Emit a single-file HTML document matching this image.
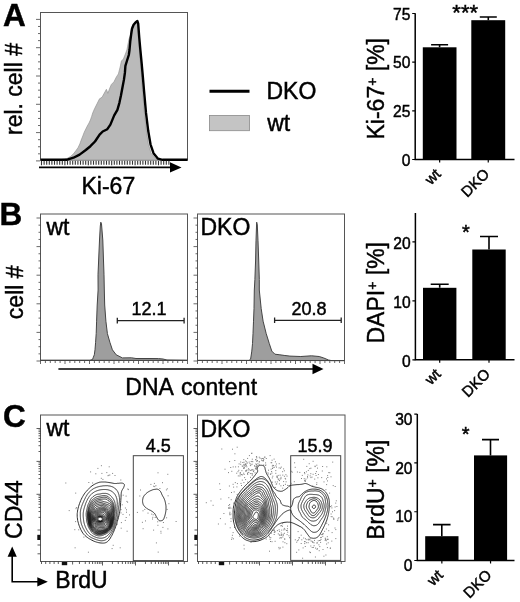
<!DOCTYPE html>
<html><head><meta charset="utf-8"><style>
html,body{margin:0;padding:0;background:#fff;overflow:hidden;}
svg{display:block;will-change:transform;filter:blur(0.3px);}
text{font-family:"Liberation Sans", sans-serif;fill:#000;stroke:#000;stroke-width:0.45px;}
</style></head><body>
<svg width="520" height="602" viewBox="0 0 520 602">
<text x="3" y="25.6" font-size="31.5" text-anchor="start" font-weight="bold" >A</text>
<text transform="translate(22.2,89) rotate(-90)" font-size="23" text-anchor="middle">rel. cell #</text>
<rect x="40.5" y="12.5" width="147.0" height="147.5" fill="none" stroke="#555" stroke-width="1"/>
<path d="M36,19.40H40M38,26.48H40M38,33.55H40M38,40.62H40M36,47.70H40M38,54.78H40M38,61.85H40M38,68.92H40M36,76.00H40M38,83.08H40M38,90.15H40M38,97.23H40M36,104.30H40M38,111.38H40M38,118.45H40M38,125.53H40M36,132.60H40M38,139.68H40M38,146.75H40M38,153.82H40M36,160.90H40" stroke="#444" stroke-width="0.8" fill="none"/>
<polygon points="40.50,160.00 58.00,160.00 61.00,159.60 64.50,159.00 67.30,158.30 70.50,156.50 73.50,153.80 76.00,150.50 78.00,147.70 79.80,144.00 81.20,140.00 82.80,136.00 84.20,132.30 85.80,129.00 87.30,126.00 89.00,123.00 90.40,120.00 91.60,116.50 92.70,113.00 94.50,108.80 97.00,103.80 99.50,98.80 102.00,97.30 105.00,91.80 106.40,89.30 107.90,93.30 109.90,87.80 111.40,84.40 113.90,81.90 116.40,76.90 118.40,73.90 119.40,69.90 120.40,65.90 121.40,61.00 123.40,59.00 125.40,54.00 126.90,50.00 127.60,46.30 129.00,39.00 130.30,35.60 131.20,30.00 132.30,26.00 134.00,23.50 135.70,22.00 137.40,21.00 137.60,23.50 138.40,37.00 139.40,50.40 140.60,63.80 141.60,77.30 142.40,89.40 144.40,112.90 146.40,130.80 148.40,144.30 151.20,153.20 155.50,158.50 160.00,159.70 187.00,160.00" fill="#bababa" stroke="#8a8a8a" stroke-width="0.6"/>
<polyline points="40.50,159.80 67.30,159.70 73.50,157.70 79.60,154.60 85.80,150.00 90.40,146.20 95.00,141.50 99.60,134.60 102.70,131.50 107.30,129.20 110.40,124.60 114.20,115.40 117.40,109.80 119.40,102.80 120.90,95.80 122.40,87.80 123.90,79.90 124.90,72.90 125.40,65.90 126.90,61.00 128.80,55.00 129.50,50.00 130.30,41.00 131.20,34.20 132.00,28.80 133.60,24.80 135.50,22.50 137.40,21.00 138.20,23.50 139.20,37.00 140.40,50.40 141.70,63.80 142.90,77.30 143.90,89.40 146.00,112.90 148.20,130.80 150.50,144.30 153.50,153.20 158.00,158.70 162.50,159.80 187.50,159.80" fill="none" stroke="#000" stroke-width="2.4" stroke-linejoin="round"/>
<path d="M41.50,160.8V165.3M44.10,160.8V164.8M46.70,160.8V164.8M49.30,160.8V164.8M51.90,160.8V164.8M54.50,160.8V164.8M57.10,160.8V164.8M59.70,160.8V164.8M62.30,160.8V164.8M64.90,160.8V165.3M67.50,160.8V164.8M70.10,160.8V164.8M72.70,160.8V164.8M75.30,160.8V164.8M77.90,160.8V164.8M80.50,160.8V164.8M83.10,160.8V164.8M85.70,160.8V164.8M88.30,160.8V165.3M90.90,160.8V164.8M93.50,160.8V164.8M96.10,160.8V164.8M98.70,160.8V164.8M101.30,160.8V164.8M103.90,160.8V164.8M106.50,160.8V164.8M109.10,160.8V164.8M111.70,160.8V165.3M114.30,160.8V164.8M116.90,160.8V164.8M119.50,160.8V164.8M122.10,160.8V164.8M124.70,160.8V164.8M127.30,160.8V164.8M129.90,160.8V164.8M132.50,160.8V164.8M135.10,160.8V165.3M137.70,160.8V164.8M140.30,160.8V164.8M142.90,160.8V164.8M145.50,160.8V164.8M148.10,160.8V164.8M150.70,160.8V164.8M153.30,160.8V164.8M155.90,160.8V164.8M158.50,160.8V165.3M161.10,160.8V164.8M163.70,160.8V164.8M166.30,160.8V164.8M168.90,160.8V164.8" stroke="#333" stroke-width="1.1" fill="none"/>
<line x1="39" y1="167.4" x2="171" y2="167.4" stroke="#000" stroke-width="1.6" />
<polygon points="170,162.2 181.5,167.4 170,172.6" fill="#000"/>
<text x="81.5" y="193.5" font-size="23" text-anchor="start" font-weight="normal" >Ki-67</text>
<line x1="209.5" y1="91.3" x2="249.5" y2="91.3" stroke="#000" stroke-width="3" />
<rect x="209.5" y="115.5" width="40" height="15.2" fill="#c4c4c4" stroke="#8a8a8a" stroke-width="0.8"/>
<text x="266.5" y="99.4" font-size="23" text-anchor="start" font-weight="normal" >DKO</text>
<text x="267.2" y="130.6" font-size="23" text-anchor="start" font-weight="normal" >wt</text>
<path d="M415.2,13.2V159.5H514.5" fill="none" stroke="#000" stroke-width="1.5"/>
<path d="M412.2,159.50H415.2M412.2,110.83H415.2M412.2,62.17H415.2M412.2,13.50H415.2" stroke="#000" stroke-width="1.2"/>
<text x="410.4" y="165.50" font-size="15.6" text-anchor="end" font-weight="normal" >0</text>
<text x="410.4" y="116.83" font-size="15.6" text-anchor="end" font-weight="normal" >25</text>
<text x="410.4" y="68.17" font-size="15.6" text-anchor="end" font-weight="normal" >50</text>
<text x="410.4" y="19.50" font-size="15.6" text-anchor="end" font-weight="normal" >75</text>
<rect x="422.8" y="47.3" width="33.69999999999999" height="112.2" fill="#000"/>
<rect x="471.3" y="20.2" width="33.89999999999998" height="139.3" fill="#000"/>
<path d="M439.6,47.3V44.7M431.1,44.7H448.1" stroke="#000" stroke-width="1.6" fill="none"/>
<path d="M488.3,20.2V17.0M479.8,17.0H496.8" stroke="#000" stroke-width="1.6" fill="none"/>
<line x1="439.65" y1="159.5" x2="439.65" y2="162.5" stroke="#000" stroke-width="1.2" />
<line x1="488.25" y1="159.5" x2="488.25" y2="162.5" stroke="#000" stroke-width="1.2" />
<text x="465.2" y="20" font-size="22" text-anchor="middle" font-weight="normal" >***</text>
<text transform="translate(441.65,175) rotate(-45)" font-size="15" text-anchor="end">wt</text>
<text transform="translate(490.25,175) rotate(-45)" font-size="15" text-anchor="end">DKO</text>
<text transform="translate(383.5,139.5) rotate(-90)" font-size="23">Ki-67<tspan font-size="14" dy="-7">+</tspan><tspan dy="7"> [%]</tspan></text>
<text x="-0.5" y="225" font-size="31.5" text-anchor="start" font-weight="bold" >B</text>
<text transform="translate(22.5,292.3) rotate(-90)" font-size="23" text-anchor="middle">cell #</text>
<rect x="40.5" y="214" width="147.0" height="146.5" fill="none" stroke="#555" stroke-width="1"/>
<rect x="197.5" y="214" width="147.0" height="146.5" fill="none" stroke="#555" stroke-width="1"/>
<path d="M36.5,218.00H40.5M38.5,225.15H40.5M38.5,232.30H40.5M38.5,239.45H40.5M36.5,246.60H40.5M38.5,253.75H40.5M38.5,260.90H40.5M38.5,268.05H40.5M36.5,275.20H40.5M38.5,282.35H40.5M38.5,289.50H40.5M38.5,296.65H40.5M36.5,303.80H40.5M38.5,310.95H40.5M38.5,318.10H40.5M38.5,325.25H40.5M36.5,332.40H40.5M38.5,339.55H40.5M38.5,346.70H40.5M38.5,353.85H40.5M36.5,361.00H40.5" stroke="#444" stroke-width="0.8" fill="none"/>
<path d="M193.5,218.00H197.5M195.5,225.15H197.5M195.5,232.30H197.5M195.5,239.45H197.5M193.5,246.60H197.5M195.5,253.75H197.5M195.5,260.90H197.5M195.5,268.05H197.5M193.5,275.20H197.5M195.5,282.35H197.5M195.5,289.50H197.5M195.5,296.65H197.5M193.5,303.80H197.5M195.5,310.95H197.5M195.5,318.10H197.5M195.5,325.25H197.5M193.5,332.40H197.5M195.5,339.55H197.5M195.5,346.70H197.5M195.5,353.85H197.5M193.5,361.00H197.5" stroke="#444" stroke-width="0.8" fill="none"/>
<polygon points="40.50,360.30 90.00,360.30 92.50,359.50 93.10,357.90 94.30,354.80 95.00,349.80 95.60,342.30 96.20,333.60 96.60,321.20 97.20,305.00 98.10,290.00 98.00,274.80 99.50,240.00 100.30,226.00 100.80,222.20 101.50,224.00 102.80,240.00 104.00,274.80 104.30,290.00 104.70,305.00 105.90,321.20 107.40,333.60 109.90,342.30 112.40,349.80 116.20,354.80 122.40,357.90 131.50,357.80 136.00,358.50 150.00,358.50 158.50,358.60 163.00,359.00 167.00,360.00 187.00,360.30" fill="#9e9e9e" stroke="#444" stroke-width="1" stroke-linejoin="round"/>
<polygon points="197.50,360.40 249.00,360.40 250.60,359.20 251.80,351.10 252.50,343.60 253.00,333.60 253.50,321.20 254.00,308.70 254.30,290.00 254.90,279.40 255.60,260.00 256.00,240.80 256.50,226.00 256.70,222.20 257.30,225.00 258.00,240.80 258.70,260.00 259.30,279.40 259.30,290.00 261.20,308.70 263.10,321.20 266.20,333.60 269.30,343.60 271.80,351.10 274.90,354.20 279.90,354.80 284.90,355.50 289.90,356.10 300.80,356.50 311.50,355.80 319.20,356.50 323.80,358.00 328.50,360.00 331.50,360.60 344.50,360.60" fill="#9e9e9e" stroke="#444" stroke-width="1" stroke-linejoin="round"/>
<path d="M40.50,361V364M45.40,361V363M50.30,361V363M55.20,361V363M60.10,361V363M65.00,361V364M69.90,361V363M74.80,361V363M79.70,361V363M84.60,361V363M89.50,361V364M94.40,361V363M99.30,361V363M104.20,361V363M109.10,361V363M114.00,361V364M118.90,361V363M123.80,361V363M128.70,361V363M133.60,361V363M138.50,361V364M143.40,361V363M148.30,361V363M153.20,361V363M158.10,361V363M163.00,361V364M167.90,361V363M172.80,361V363M177.70,361V363M182.60,361V363M187.50,361V364" stroke="#444" stroke-width="0.8" fill="none"/>
<path d="M197.50,361V364M202.40,361V363M207.30,361V363M212.20,361V363M217.10,361V363M222.00,361V364M226.90,361V363M231.80,361V363M236.70,361V363M241.60,361V363M246.50,361V364M251.40,361V363M256.30,361V363M261.20,361V363M266.10,361V363M271.00,361V364M275.90,361V363M280.80,361V363M285.70,361V363M290.60,361V363M295.50,361V364M300.40,361V363M305.30,361V363M310.20,361V363M315.10,361V363M320.00,361V364M324.90,361V363M329.80,361V363M334.70,361V363M339.60,361V363M344.50,361V364" stroke="#444" stroke-width="0.8" fill="none"/>
<text x="46.5" y="234.7" font-size="23" text-anchor="start" font-weight="normal" >wt</text>
<text x="200.5" y="234.9" font-size="23" text-anchor="start" font-weight="normal" >DKO</text>
<path d="M117.3,320.6H184.1M117.3,317.8V323.6M184.1,317.8V323.6" stroke="#222" stroke-width="1.3" fill="none"/>
<path d="M274.6,320.3H341.2M274.6,317.5V323.1M341.2,317.5V323.1" stroke="#222" stroke-width="1.3" fill="none"/>
<text x="149" y="314.7" font-size="18" text-anchor="middle" font-weight="normal" >12.1</text>
<text x="309" y="314.8" font-size="18" text-anchor="middle" font-weight="normal" >20.8</text>
<line x1="58.4" y1="369" x2="313" y2="369" stroke="#000" stroke-width="1.6" />
<polygon points="312.5,363.8 323.5,369 312.5,374.2" fill="#000"/>
<text x="125.2" y="394.5" font-size="23" text-anchor="start" font-weight="normal" word-spacing="1.7" letter-spacing="0.1">DNA content</text>
<path d="M415.4,213V359.8H514.5" fill="none" stroke="#000" stroke-width="1.5"/>
<path d="M412.4,359.80H415.4M412.4,300.80H415.4M412.4,241.80H415.4" stroke="#000" stroke-width="1.2"/>
<text x="410.59999999999997" y="366.80" font-size="15.6" text-anchor="end" font-weight="normal" >0</text>
<text x="410.59999999999997" y="307.80" font-size="15.6" text-anchor="end" font-weight="normal" >10</text>
<text x="410.59999999999997" y="248.80" font-size="15.6" text-anchor="end" font-weight="normal" >20</text>
<rect x="423" y="287.8" width="33.39999999999998" height="72.0" fill="#000"/>
<rect x="472.3" y="249.5" width="33.39999999999998" height="110.30000000000001" fill="#000"/>
<path d="M439.7,287.8V284.2M430.7,284.2H448.7" stroke="#000" stroke-width="1.6" fill="none"/>
<path d="M489,249.5V236.5M480.0,236.5H498.0" stroke="#000" stroke-width="1.6" fill="none"/>
<line x1="439.7" y1="359.8" x2="439.7" y2="362.8" stroke="#000" stroke-width="1.2" />
<line x1="489.0" y1="359.8" x2="489.0" y2="362.8" stroke="#000" stroke-width="1.2" />
<text x="465.8" y="239.3" font-size="20" text-anchor="middle" font-weight="normal" >*</text>
<text transform="translate(441.7,375) rotate(-45)" font-size="15" text-anchor="end">wt</text>
<text transform="translate(491.0,375) rotate(-45)" font-size="15" text-anchor="end">DKO</text>
<text transform="translate(383.5,343.5) rotate(-90)" font-size="23">DAPI<tspan font-size="14" dy="-7">+</tspan><tspan dy="7"> [%]</tspan></text>
<text x="3" y="426.6" font-size="31.5" text-anchor="start" font-weight="bold" >C</text>
<text transform="translate(21.9,509.5) rotate(-90)" font-size="23" text-anchor="middle">CD44</text>
<rect x="40.5" y="415" width="147.0" height="146.5" fill="none" stroke="#555" stroke-width="1"/>
<rect x="197.5" y="415" width="147.5" height="146.5" fill="none" stroke="#555" stroke-width="1"/>
<text x="46.5" y="436.2" font-size="23" text-anchor="start" font-weight="normal" >wt</text>
<text x="200.5" y="436.6" font-size="23" text-anchor="start" font-weight="normal" >DKO</text>
<rect x="133.3" y="455.7" width="50.099999999999994" height="104.90000000000003" fill="none" stroke="#444" stroke-width="1"/>
<rect x="290.7" y="455.7" width="50.0" height="104.69999999999999" fill="none" stroke="#444" stroke-width="1"/>
<text x="158.3" y="451.7" font-size="18" text-anchor="middle" font-weight="normal" >4.5</text>
<text x="315" y="451.6" font-size="18" text-anchor="middle" font-weight="normal" >15.9</text>
<path d="M12.2,556V581.8H38" fill="none" stroke="#000" stroke-width="1.6"/>
<polygon points="7.6,556.8 12.2,546.5 16.8,556.8" fill="#000"/>
<polygon points="37.3,577.2 47.8,581.8 37.3,586.4" fill="#000"/>
<text x="55.3" y="587.7" font-size="23" text-anchor="start" font-weight="normal" >BrdU</text>
<path d="M417.3,414V560.5H514.5" fill="none" stroke="#000" stroke-width="1.5"/>
<path d="M414.3,560.50H417.3M414.3,511.73H417.3M414.3,462.97H417.3M414.3,414.20H417.3" stroke="#000" stroke-width="1.2"/>
<text x="412.5" y="571.10" font-size="15.6" text-anchor="end" font-weight="normal" >0</text>
<text x="412.5" y="522.33" font-size="15.6" text-anchor="end" font-weight="normal" >10</text>
<text x="412.5" y="473.57" font-size="15.6" text-anchor="end" font-weight="normal" >20</text>
<text x="412.5" y="424.80" font-size="15.6" text-anchor="end" font-weight="normal" >30</text>
<rect x="425.2" y="536.2" width="33.30000000000001" height="24.299999999999955" fill="#000"/>
<rect x="474" y="455.4" width="33.10000000000002" height="105.10000000000002" fill="#000"/>
<path d="M441.8,536.2V524.6M433.05,524.6H450.55" stroke="#000" stroke-width="1.6" fill="none"/>
<path d="M490.5,455.4V439.6M482.0,439.6H499.0" stroke="#000" stroke-width="1.6" fill="none"/>
<line x1="441.85" y1="560.5" x2="441.85" y2="563.5" stroke="#000" stroke-width="1.2" />
<line x1="490.55" y1="560.5" x2="490.55" y2="563.5" stroke="#000" stroke-width="1.2" />
<text x="465.6" y="440.5" font-size="20" text-anchor="middle" font-weight="normal" >*</text>
<text transform="translate(443.85,576) rotate(-45)" font-size="15" text-anchor="end">wt</text>
<text transform="translate(492.55,576) rotate(-45)" font-size="15" text-anchor="end">DKO</text>
<text transform="translate(384,539.8) rotate(-90)" font-size="23">BrdU<tspan font-size="14" dy="-7">+</tspan><tspan dy="7"> [%]</tspan></text>
<path d="M36.5,428.5H40.5M38.5,451.50H40.5M38.5,445.70H40.5M38.5,441.59H40.5M38.5,438.40H40.5M38.5,435.80H40.5M38.5,433.60H40.5M38.5,431.69H40.5M38.5,430.01H40.5M36.5,461.4H40.5M38.5,484.40H40.5M38.5,478.60H40.5M38.5,474.49H40.5M38.5,471.30H40.5M38.5,468.70H40.5M38.5,466.50H40.5M38.5,464.59H40.5M38.5,462.91H40.5M36.5,494.3H40.5M38.5,517.37H40.5M38.5,511.55H40.5M38.5,507.43H40.5M38.5,504.23H40.5M38.5,501.62H40.5M38.5,499.41H40.5M38.5,497.50H40.5M38.5,495.81H40.5M37.5,530H40.5M37.5,545H40.5M37.5,553.8H40.5" stroke="#333" stroke-width="0.8" fill="none"/>
<rect x="37.3" y="534.8" width="3" height="5.2" fill="#111"/>
<path d="M41.50,561.5V564.0M45.70,561.5V564.0M49.90,561.5V564.0M54.10,561.5V564.0M58.30,561.5V564.0M72.60,561.5V564.5M102.50,561.5V565.5M112.43,561.5V564.0M118.25,561.5V564.0M122.37,561.5V564.0M125.57,561.5V564.0M128.18,561.5V564.0M130.39,561.5V564.0M132.30,561.5V564.0M133.99,561.5V564.0M135.50,561.5V565.5M145.43,561.5V564.0M151.25,561.5V564.0M155.37,561.5V564.0M158.57,561.5V564.0M161.18,561.5V564.0M163.39,561.5V564.0M165.30,561.5V564.0M166.99,561.5V564.0M168.50,561.5V565.5M79.43,561.5V564.0M85.25,561.5V564.0M89.37,561.5V564.0M92.57,561.5V564.0M95.18,561.5V564.0M97.39,561.5V564.0M99.30,561.5V564.0M100.99,561.5V564.0M178.43,561.5V564.0M184.25,561.5V564.0" stroke="#333" stroke-width="0.8" fill="none"/>
<rect x="61.8" y="562.0" width="5.4" height="3.2" fill="#111"/>
<path d="M193.5,428.5H197.5M195.5,451.50H197.5M195.5,445.70H197.5M195.5,441.59H197.5M195.5,438.40H197.5M195.5,435.80H197.5M195.5,433.60H197.5M195.5,431.69H197.5M195.5,430.01H197.5M193.5,461.4H197.5M195.5,484.40H197.5M195.5,478.60H197.5M195.5,474.49H197.5M195.5,471.30H197.5M195.5,468.70H197.5M195.5,466.50H197.5M195.5,464.59H197.5M195.5,462.91H197.5M193.5,494.3H197.5M195.5,517.37H197.5M195.5,511.55H197.5M195.5,507.43H197.5M195.5,504.23H197.5M195.5,501.62H197.5M195.5,499.41H197.5M195.5,497.50H197.5M195.5,495.81H197.5M194.5,530H197.5M194.5,545H197.5M194.5,553.8H197.5" stroke="#333" stroke-width="0.8" fill="none"/>
<rect x="194.3" y="534.8" width="3" height="5.2" fill="#111"/>
<path d="M198.50,561.5V564.0M202.70,561.5V564.0M206.90,561.5V564.0M211.10,561.5V564.0M215.30,561.5V564.0M229.60,561.5V564.5M259.50,561.5V565.5M269.43,561.5V564.0M275.25,561.5V564.0M279.37,561.5V564.0M282.57,561.5V564.0M285.18,561.5V564.0M287.39,561.5V564.0M289.30,561.5V564.0M290.99,561.5V564.0M292.50,561.5V565.5M302.43,561.5V564.0M308.25,561.5V564.0M312.37,561.5V564.0M315.57,561.5V564.0M318.18,561.5V564.0M320.39,561.5V564.0M322.30,561.5V564.0M323.99,561.5V564.0M325.50,561.5V565.5M236.43,561.5V564.0M242.25,561.5V564.0M246.37,561.5V564.0M249.57,561.5V564.0M252.18,561.5V564.0M254.39,561.5V564.0M256.30,561.5V564.0M257.99,561.5V564.0M335.43,561.5V564.0M341.25,561.5V564.0" stroke="#333" stroke-width="0.8" fill="none"/>
<rect x="218.8" y="562.0" width="5.4" height="3.2" fill="#111"/>
<g fill="#808080"><rect x="112.1" y="472.9" width="1" height="1"/><rect x="101.4" y="472.9" width="1" height="1"/><rect x="107.5" y="475.2" width="1" height="1"/><rect x="108.7" y="466.3" width="1" height="1"/><rect x="114.5" y="475.0" width="1" height="1"/><rect x="108.3" y="474.8" width="1" height="1"/><rect x="100.8" y="477.8" width="1" height="1"/><rect x="109.3" y="474.5" width="1" height="1"/><rect x="102.4" y="478.9" width="1" height="1"/><rect x="97.4" y="467.9" width="1" height="1"/><rect x="106.3" y="472.1" width="1" height="1"/><rect x="90.1" y="471.4" width="1" height="1"/><rect x="127.1" y="501.7" width="1" height="1"/><rect x="120.5" y="509.1" width="1" height="1"/><rect x="126.4" y="500.9" width="1" height="1"/><rect x="125.7" y="517.0" width="1" height="1"/><rect x="122.7" y="494.7" width="1" height="1"/><rect x="124.9" y="507.5" width="1" height="1"/><rect x="127.9" y="489.1" width="1" height="1"/><rect x="125.6" y="495.6" width="1" height="1"/><rect x="129.0" y="514.4" width="1" height="1"/><rect x="126.0" y="509.3" width="1" height="1"/><rect x="127.3" y="488.5" width="1" height="1"/><rect x="126.0" y="511.7" width="1" height="1"/><rect x="122.5" y="513.9" width="1" height="1"/><rect x="121.7" y="504.3" width="1" height="1"/><rect x="116.9" y="523.6" width="1" height="1"/><rect x="119.7" y="547.3" width="1" height="1"/><rect x="74.3" y="529.2" width="1" height="1"/><rect x="83.4" y="536.6" width="1" height="1"/><rect x="120.3" y="479.5" width="1" height="1"/><rect x="124.8" y="519.9" width="1" height="1"/><rect x="120.9" y="522.1" width="1" height="1"/><rect x="92.1" y="482.5" width="1" height="1"/><rect x="65.3" y="482.5" width="1" height="1"/><rect x="120.7" y="527.7" width="1" height="1"/><rect x="68.7" y="510.1" width="1" height="1"/><rect x="87.9" y="551.7" width="1" height="1"/><rect x="111.6" y="548.1" width="1" height="1"/><rect x="75.5" y="508.2" width="1" height="1"/><rect x="78.2" y="529.3" width="1" height="1"/><rect x="120.5" y="512.4" width="1" height="1"/><rect x="74.6" y="547.3" width="1" height="1"/><rect x="75.1" y="521.1" width="1" height="1"/><rect x="126.6" y="530.7" width="1" height="1"/><rect x="100.9" y="465.2" width="1" height="1"/><rect x="88.3" y="482.0" width="1" height="1"/><rect x="75.2" y="492.6" width="1" height="1"/><rect x="112.7" y="544.8" width="1" height="1"/><rect x="95.3" y="473.3" width="1" height="1"/><rect x="75.9" y="507.1" width="1" height="1"/><rect x="162.4" y="526.9" width="1" height="1"/><rect x="151.2" y="513.6" width="1" height="1"/><rect x="160.4" y="530.8" width="1" height="1"/><rect x="166.8" y="488.3" width="1" height="1"/><rect x="145.0" y="520.4" width="1" height="1"/><rect x="139.3" y="495.5" width="1" height="1"/><rect x="166.7" y="508.9" width="1" height="1"/><rect x="141.9" y="521.8" width="1" height="1"/><rect x="150.4" y="483.9" width="1" height="1"/><rect x="157.7" y="551.6" width="1" height="1"/><rect x="144.3" y="508.9" width="1" height="1"/><rect x="140.0" y="489.5" width="1" height="1"/><rect x="167.6" y="495.3" width="1" height="1"/><rect x="155.9" y="542.4" width="1" height="1"/><rect x="175.6" y="521.0" width="1" height="1"/><rect x="147.5" y="512.6" width="1" height="1"/><rect x="153.1" y="529.6" width="1" height="1"/><rect x="157.2" y="521.3" width="1" height="1"/><rect x="157.5" y="472.3" width="1" height="1"/><rect x="167.4" y="528.4" width="1" height="1"/><rect x="165.9" y="489.4" width="1" height="1"/><rect x="136.9" y="511.9" width="1" height="1"/><rect x="154.7" y="517.0" width="1" height="1"/><rect x="142.5" y="510.3" width="1" height="1"/><rect x="168.4" y="503.2" width="1" height="1"/><rect x="159.4" y="488.0" width="1" height="1"/><rect x="167.3" y="473.8" width="1" height="1"/><rect x="157.4" y="524.8" width="1" height="1"/><rect x="152.7" y="514.3" width="1" height="1"/><rect x="166.1" y="517.3" width="1" height="1"/><rect x="152.3" y="516.8" width="1" height="1"/><rect x="155.4" y="485.2" width="1" height="1"/><rect x="154.2" y="486.1" width="1" height="1"/><rect x="153.9" y="482.9" width="1" height="1"/><rect x="160.5" y="532.6" width="1" height="1"/><rect x="142.6" y="528.2" width="1" height="1"/><rect x="153.1" y="485.7" width="1" height="1"/><rect x="162.0" y="482.2" width="1" height="1"/><rect x="162.9" y="522.0" width="1" height="1"/><rect x="152.0" y="518.5" width="1" height="1"/><rect x="272.1" y="468.0" width="1" height="1"/><rect x="251.4" y="469.6" width="1" height="1"/><rect x="232.7" y="466.4" width="1" height="1"/><rect x="241.8" y="479.6" width="1" height="1"/><rect x="251.4" y="452.7" width="1" height="1"/><rect x="245.5" y="470.3" width="1" height="1"/><rect x="261.4" y="458.0" width="1" height="1"/><rect x="256.0" y="466.2" width="1" height="1"/><rect x="262.2" y="458.0" width="1" height="1"/><rect x="254.5" y="472.3" width="1" height="1"/><rect x="239.8" y="472.0" width="1" height="1"/><rect x="248.9" y="455.1" width="1" height="1"/><rect x="252.3" y="461.2" width="1" height="1"/><rect x="257.0" y="460.1" width="1" height="1"/><rect x="265.1" y="462.4" width="1" height="1"/><rect x="257.4" y="463.2" width="1" height="1"/><rect x="249.9" y="473.1" width="1" height="1"/><rect x="255.9" y="464.3" width="1" height="1"/><rect x="239.7" y="472.9" width="1" height="1"/><rect x="256.2" y="460.8" width="1" height="1"/><rect x="242.3" y="462.0" width="1" height="1"/><rect x="245.3" y="470.6" width="1" height="1"/><rect x="264.9" y="464.9" width="1" height="1"/><rect x="252.3" y="469.1" width="1" height="1"/><rect x="253.1" y="470.9" width="1" height="1"/><rect x="239.7" y="474.3" width="1" height="1"/><rect x="244.9" y="465.6" width="1" height="1"/><rect x="238.3" y="469.8" width="1" height="1"/><rect x="267.5" y="472.4" width="1" height="1"/><rect x="262.7" y="457.9" width="1" height="1"/><rect x="244.9" y="464.0" width="1" height="1"/><rect x="243.2" y="472.7" width="1" height="1"/><rect x="255.5" y="466.4" width="1" height="1"/><rect x="258.9" y="461.3" width="1" height="1"/><rect x="243.5" y="461.7" width="1" height="1"/><rect x="238.6" y="463.4" width="1" height="1"/><rect x="255.1" y="459.1" width="1" height="1"/><rect x="247.6" y="472.1" width="1" height="1"/><rect x="254.0" y="465.3" width="1" height="1"/><rect x="265.4" y="464.5" width="1" height="1"/><rect x="249.5" y="463.1" width="1" height="1"/><rect x="253.4" y="469.8" width="1" height="1"/><rect x="259.6" y="457.7" width="1" height="1"/><rect x="244.0" y="467.4" width="1" height="1"/><rect x="243.3" y="459.1" width="1" height="1"/><rect x="240.2" y="461.5" width="1" height="1"/><rect x="251.5" y="460.9" width="1" height="1"/><rect x="251.9" y="473.5" width="1" height="1"/><rect x="256.7" y="460.3" width="1" height="1"/><rect x="250.7" y="461.1" width="1" height="1"/><rect x="261.9" y="460.2" width="1" height="1"/><rect x="268.0" y="469.7" width="1" height="1"/><rect x="231.3" y="470.8" width="1" height="1"/><rect x="270.6" y="462.2" width="1" height="1"/><rect x="264.3" y="456.6" width="1" height="1"/><rect x="256.3" y="457.4" width="1" height="1"/><rect x="258.8" y="456.7" width="1" height="1"/><rect x="224.5" y="468.7" width="1" height="1"/><rect x="278.7" y="463.2" width="1" height="1"/><rect x="249.9" y="469.9" width="1" height="1"/><rect x="271.6" y="459.7" width="1" height="1"/><rect x="237.8" y="475.4" width="1" height="1"/><rect x="274.9" y="461.3" width="1" height="1"/><rect x="272.6" y="466.8" width="1" height="1"/><rect x="251.7" y="474.8" width="1" height="1"/><rect x="256.0" y="468.3" width="1" height="1"/><rect x="270.2" y="473.6" width="1" height="1"/><rect x="263.3" y="458.8" width="1" height="1"/><rect x="236.2" y="472.7" width="1" height="1"/><rect x="243.3" y="467.3" width="1" height="1"/><rect x="241.7" y="465.5" width="1" height="1"/><rect x="239.4" y="475.5" width="1" height="1"/><rect x="242.3" y="465.8" width="1" height="1"/><rect x="251.4" y="473.1" width="1" height="1"/><rect x="237.9" y="466.3" width="1" height="1"/><rect x="251.2" y="469.4" width="1" height="1"/><rect x="258.7" y="463.9" width="1" height="1"/><rect x="256.1" y="464.4" width="1" height="1"/><rect x="246.3" y="466.3" width="1" height="1"/><rect x="248.1" y="468.2" width="1" height="1"/><rect x="269.6" y="455.1" width="1" height="1"/><rect x="234.3" y="460.0" width="1" height="1"/><rect x="251.1" y="452.9" width="1" height="1"/><rect x="228.0" y="472.1" width="1" height="1"/><rect x="255.5" y="459.4" width="1" height="1"/><rect x="265.8" y="458.0" width="1" height="1"/><rect x="245.1" y="460.4" width="1" height="1"/><rect x="262.8" y="460.5" width="1" height="1"/><rect x="263.0" y="459.9" width="1" height="1"/><rect x="248.7" y="461.6" width="1" height="1"/><rect x="256.1" y="456.1" width="1" height="1"/><rect x="250.5" y="464.3" width="1" height="1"/><rect x="261.0" y="459.6" width="1" height="1"/><rect x="272.3" y="464.8" width="1" height="1"/><rect x="241.0" y="474.1" width="1" height="1"/><rect x="271.8" y="465.5" width="1" height="1"/><rect x="243.7" y="466.6" width="1" height="1"/><rect x="245.9" y="464.8" width="1" height="1"/><rect x="270.6" y="468.7" width="1" height="1"/><rect x="255.1" y="468.4" width="1" height="1"/><rect x="252.9" y="471.1" width="1" height="1"/><rect x="263.2" y="464.5" width="1" height="1"/><rect x="276.0" y="466.6" width="1" height="1"/><rect x="241.4" y="470.2" width="1" height="1"/><rect x="243.6" y="463.8" width="1" height="1"/><rect x="245.1" y="463.5" width="1" height="1"/><rect x="247.0" y="472.9" width="1" height="1"/><rect x="245.6" y="463.4" width="1" height="1"/><rect x="275.9" y="463.5" width="1" height="1"/><rect x="269.9" y="473.7" width="1" height="1"/><rect x="251.8" y="458.7" width="1" height="1"/><rect x="241.9" y="474.4" width="1" height="1"/><rect x="255.4" y="463.4" width="1" height="1"/><rect x="250.0" y="476.8" width="1" height="1"/><rect x="264.3" y="456.7" width="1" height="1"/><rect x="254.4" y="465.7" width="1" height="1"/><rect x="251.6" y="463.7" width="1" height="1"/><rect x="237.5" y="471.2" width="1" height="1"/><rect x="243.2" y="464.5" width="1" height="1"/><rect x="246.9" y="462.5" width="1" height="1"/><rect x="246.1" y="461.3" width="1" height="1"/><rect x="248.3" y="471.8" width="1" height="1"/><rect x="254.9" y="467.8" width="1" height="1"/><rect x="249.9" y="465.1" width="1" height="1"/><rect x="255.9" y="456.4" width="1" height="1"/><rect x="271.2" y="462.2" width="1" height="1"/><rect x="247.2" y="473.9" width="1" height="1"/><rect x="255.9" y="466.7" width="1" height="1"/><rect x="247.1" y="457.9" width="1" height="1"/><rect x="243.6" y="474.0" width="1" height="1"/><rect x="233.7" y="491.4" width="1" height="1"/><rect x="235.1" y="466.4" width="1" height="1"/><rect x="232.6" y="483.8" width="1" height="1"/><rect x="229.5" y="514.3" width="1" height="1"/><rect x="240.2" y="463.8" width="1" height="1"/><rect x="231.9" y="534.8" width="1" height="1"/><rect x="228.9" y="485.5" width="1" height="1"/><rect x="244.1" y="477.1" width="1" height="1"/><rect x="279.9" y="547.5" width="1" height="1"/><rect x="258.7" y="461.3" width="1" height="1"/><rect x="231.0" y="492.0" width="1" height="1"/><rect x="236.7" y="446.7" width="1" height="1"/><rect x="240.5" y="482.9" width="1" height="1"/><rect x="232.6" y="532.1" width="1" height="1"/><rect x="246.0" y="469.7" width="1" height="1"/><rect x="247.5" y="469.5" width="1" height="1"/><rect x="229.0" y="513.4" width="1" height="1"/><rect x="228.6" y="508.0" width="1" height="1"/><rect x="233.1" y="486.6" width="1" height="1"/><rect x="220.4" y="498.5" width="1" height="1"/><rect x="279.6" y="478.5" width="1" height="1"/><rect x="284.4" y="542.2" width="1" height="1"/><rect x="230.5" y="518.2" width="1" height="1"/><rect x="219.1" y="483.3" width="1" height="1"/><rect x="229.1" y="461.1" width="1" height="1"/><rect x="229.7" y="527.3" width="1" height="1"/><rect x="239.1" y="535.6" width="1" height="1"/><rect x="228.3" y="507.3" width="1" height="1"/><rect x="236.4" y="486.4" width="1" height="1"/><rect x="230.2" y="467.0" width="1" height="1"/><rect x="221.3" y="448.5" width="1" height="1"/><rect x="247.2" y="481.5" width="1" height="1"/><rect x="281.9" y="525.8" width="1" height="1"/><rect x="248.7" y="469.3" width="1" height="1"/><rect x="231.6" y="537.3" width="1" height="1"/><rect x="210.5" y="500.4" width="1" height="1"/><rect x="283.0" y="484.9" width="1" height="1"/><rect x="230.4" y="513.5" width="1" height="1"/><rect x="232.9" y="538.3" width="1" height="1"/><rect x="271.5" y="541.2" width="1" height="1"/><rect x="243.4" y="482.1" width="1" height="1"/><rect x="233.1" y="502.6" width="1" height="1"/><rect x="229.4" y="511.8" width="1" height="1"/><rect x="219.9" y="518.1" width="1" height="1"/><rect x="243.2" y="468.0" width="1" height="1"/><rect x="275.3" y="472.8" width="1" height="1"/><rect x="276.9" y="530.1" width="1" height="1"/><rect x="230.4" y="507.7" width="1" height="1"/><rect x="243.5" y="544.7" width="1" height="1"/><rect x="241.0" y="485.0" width="1" height="1"/><rect x="236.7" y="493.9" width="1" height="1"/><rect x="231.1" y="538.8" width="1" height="1"/><rect x="205.8" y="502.2" width="1" height="1"/><rect x="269.4" y="537.1" width="1" height="1"/><rect x="257.1" y="465.3" width="1" height="1"/><rect x="245.6" y="470.4" width="1" height="1"/><rect x="250.5" y="542.0" width="1" height="1"/><rect x="234.0" y="527.0" width="1" height="1"/><rect x="228.3" y="497.2" width="1" height="1"/><rect x="244.2" y="464.8" width="1" height="1"/><rect x="232.0" y="448.7" width="1" height="1"/><rect x="224.8" y="523.5" width="1" height="1"/><rect x="229.1" y="504.0" width="1" height="1"/><rect x="234.8" y="482.1" width="1" height="1"/><rect x="234.4" y="453.3" width="1" height="1"/><rect x="228.3" y="507.5" width="1" height="1"/><rect x="245.1" y="479.1" width="1" height="1"/><rect x="236.9" y="483.1" width="1" height="1"/><rect x="217.9" y="523.5" width="1" height="1"/><rect x="278.4" y="546.9" width="1" height="1"/><rect x="230.7" y="499.2" width="1" height="1"/><rect x="230.5" y="520.8" width="1" height="1"/><rect x="269.0" y="550.7" width="1" height="1"/><rect x="269.6" y="538.9" width="1" height="1"/><rect x="219.7" y="489.0" width="1" height="1"/><rect x="228.3" y="505.0" width="1" height="1"/><rect x="243.7" y="548.4" width="1" height="1"/><rect x="229.4" y="506.7" width="1" height="1"/><rect x="212.6" y="504.8" width="1" height="1"/><rect x="223.4" y="513.0" width="1" height="1"/><rect x="278.9" y="483.4" width="1" height="1"/><rect x="283.9" y="475.8" width="1" height="1"/><rect x="280.8" y="466.6" width="1" height="1"/><rect x="285.1" y="478.5" width="1" height="1"/><rect x="284.9" y="483.8" width="1" height="1"/><rect x="276.7" y="476.5" width="1" height="1"/><rect x="273.1" y="465.0" width="1" height="1"/><rect x="277.6" y="478.3" width="1" height="1"/><rect x="271.9" y="481.7" width="1" height="1"/><rect x="279.0" y="480.1" width="1" height="1"/><rect x="273.8" y="466.8" width="1" height="1"/><rect x="283.1" y="481.1" width="1" height="1"/><rect x="277.7" y="474.9" width="1" height="1"/><rect x="276.7" y="476.6" width="1" height="1"/><rect x="275.3" y="465.3" width="1" height="1"/><rect x="283.1" y="468.4" width="1" height="1"/><rect x="276.4" y="475.6" width="1" height="1"/><rect x="280.0" y="467.7" width="1" height="1"/><rect x="285.6" y="481.3" width="1" height="1"/><rect x="283.0" y="485.0" width="1" height="1"/><rect x="273.6" y="458.6" width="1" height="1"/><rect x="280.4" y="485.3" width="1" height="1"/><rect x="285.4" y="474.2" width="1" height="1"/><rect x="277.9" y="479.2" width="1" height="1"/><rect x="267.6" y="473.5" width="1" height="1"/><rect x="274.6" y="487.0" width="1" height="1"/><rect x="274.6" y="486.9" width="1" height="1"/><rect x="278.6" y="467.4" width="1" height="1"/><rect x="282.2" y="487.7" width="1" height="1"/><rect x="275.3" y="470.1" width="1" height="1"/><rect x="284.7" y="477.9" width="1" height="1"/><rect x="271.1" y="471.0" width="1" height="1"/><rect x="276.2" y="483.3" width="1" height="1"/><rect x="276.8" y="481.4" width="1" height="1"/><rect x="288.4" y="485.1" width="1" height="1"/><rect x="287.1" y="484.9" width="1" height="1"/><rect x="280.5" y="476.8" width="1" height="1"/><rect x="272.0" y="468.0" width="1" height="1"/><rect x="271.8" y="477.4" width="1" height="1"/><rect x="271.4" y="472.6" width="1" height="1"/><rect x="274.8" y="481.5" width="1" height="1"/><rect x="276.7" y="476.6" width="1" height="1"/><rect x="286.5" y="475.6" width="1" height="1"/><rect x="282.1" y="471.2" width="1" height="1"/><rect x="280.5" y="478.2" width="1" height="1"/><rect x="279.6" y="474.7" width="1" height="1"/><rect x="272.3" y="475.7" width="1" height="1"/><rect x="275.7" y="483.7" width="1" height="1"/><rect x="283.9" y="470.3" width="1" height="1"/><rect x="282.3" y="474.6" width="1" height="1"/><rect x="281.2" y="529.6" width="1" height="1"/><rect x="265.7" y="538.6" width="1" height="1"/><rect x="281.1" y="525.1" width="1" height="1"/><rect x="282.5" y="541.3" width="1" height="1"/><rect x="274.6" y="540.8" width="1" height="1"/><rect x="286.8" y="529.9" width="1" height="1"/><rect x="282.4" y="546.6" width="1" height="1"/><rect x="289.0" y="537.2" width="1" height="1"/><rect x="279.1" y="530.9" width="1" height="1"/><rect x="270.3" y="537.2" width="1" height="1"/><rect x="273.7" y="534.0" width="1" height="1"/><rect x="282.7" y="533.7" width="1" height="1"/><rect x="270.0" y="541.0" width="1" height="1"/><rect x="280.8" y="532.5" width="1" height="1"/><rect x="283.3" y="529.4" width="1" height="1"/><rect x="280.6" y="534.7" width="1" height="1"/><rect x="279.4" y="534.7" width="1" height="1"/><rect x="288.4" y="535.3" width="1" height="1"/><rect x="268.9" y="535.8" width="1" height="1"/><rect x="284.3" y="538.6" width="1" height="1"/><rect x="280.3" y="525.3" width="1" height="1"/><rect x="286.9" y="528.2" width="1" height="1"/><rect x="282.2" y="523.2" width="1" height="1"/><rect x="283.8" y="527.9" width="1" height="1"/><rect x="286.3" y="543.2" width="1" height="1"/><rect x="287.0" y="525.6" width="1" height="1"/><rect x="282.9" y="534.7" width="1" height="1"/><rect x="278.9" y="534.5" width="1" height="1"/><rect x="282.3" y="536.5" width="1" height="1"/><rect x="285.9" y="530.0" width="1" height="1"/><rect x="273.7" y="529.5" width="1" height="1"/><rect x="278.6" y="529.3" width="1" height="1"/><rect x="281.0" y="534.3" width="1" height="1"/><rect x="280.3" y="537.1" width="1" height="1"/><rect x="277.8" y="533.4" width="1" height="1"/><rect x="283.9" y="532.8" width="1" height="1"/><rect x="273.8" y="529.8" width="1" height="1"/><rect x="270.9" y="532.6" width="1" height="1"/><rect x="272.7" y="530.0" width="1" height="1"/><rect x="287.2" y="531.7" width="1" height="1"/><rect x="286.6" y="534.1" width="1" height="1"/><rect x="284.4" y="528.8" width="1" height="1"/><rect x="278.7" y="548.3" width="1" height="1"/><rect x="284.1" y="538.5" width="1" height="1"/><rect x="279.3" y="537.6" width="1" height="1"/><rect x="280.9" y="537.4" width="1" height="1"/><rect x="274.2" y="531.3" width="1" height="1"/><rect x="274.6" y="531.3" width="1" height="1"/><rect x="273.8" y="531.9" width="1" height="1"/><rect x="281.4" y="534.6" width="1" height="1"/><rect x="303.7" y="478.2" width="1" height="1"/><rect x="311.5" y="476.6" width="1" height="1"/><rect x="328.3" y="472.1" width="1" height="1"/><rect x="314.2" y="478.6" width="1" height="1"/><rect x="306.3" y="465.9" width="1" height="1"/><rect x="317.4" y="477.3" width="1" height="1"/><rect x="309.7" y="475.4" width="1" height="1"/><rect x="309.3" y="468.1" width="1" height="1"/><rect x="312.6" y="460.8" width="1" height="1"/><rect x="308.7" y="463.2" width="1" height="1"/><rect x="304.8" y="480.9" width="1" height="1"/><rect x="305.9" y="471.3" width="1" height="1"/><rect x="315.1" y="473.0" width="1" height="1"/><rect x="304.0" y="472.0" width="1" height="1"/><rect x="327.0" y="480.4" width="1" height="1"/><rect x="314.6" y="465.6" width="1" height="1"/><rect x="316.3" y="464.7" width="1" height="1"/><rect x="314.6" y="466.1" width="1" height="1"/><rect x="332.2" y="461.6" width="1" height="1"/><rect x="323.5" y="481.4" width="1" height="1"/><rect x="326.1" y="484.1" width="1" height="1"/><rect x="294.7" y="466.8" width="1" height="1"/><rect x="310.3" y="473.2" width="1" height="1"/><rect x="304.7" y="480.3" width="1" height="1"/><rect x="317.0" y="467.6" width="1" height="1"/><rect x="326.3" y="466.3" width="1" height="1"/><rect x="305.4" y="478.6" width="1" height="1"/><rect x="329.3" y="472.2" width="1" height="1"/><rect x="312.2" y="485.4" width="1" height="1"/><rect x="316.2" y="484.0" width="1" height="1"/><rect x="321.2" y="477.1" width="1" height="1"/><rect x="316.3" y="482.3" width="1" height="1"/><rect x="326.0" y="478.4" width="1" height="1"/><rect x="301.0" y="478.0" width="1" height="1"/><rect x="321.8" y="470.5" width="1" height="1"/><rect x="317.9" y="474.0" width="1" height="1"/><rect x="307.4" y="474.4" width="1" height="1"/><rect x="322.1" y="466.0" width="1" height="1"/><rect x="304.3" y="480.3" width="1" height="1"/><rect x="294.1" y="462.3" width="1" height="1"/><rect x="315.6" y="475.0" width="1" height="1"/><rect x="307.0" y="476.1" width="1" height="1"/><rect x="296.9" y="471.5" width="1" height="1"/><rect x="291.7" y="471.7" width="1" height="1"/><rect x="327.1" y="475.1" width="1" height="1"/><rect x="315.9" y="471.1" width="1" height="1"/><rect x="330.5" y="476.3" width="1" height="1"/><rect x="293.8" y="481.2" width="1" height="1"/><rect x="304.3" y="479.8" width="1" height="1"/><rect x="310.4" y="477.1" width="1" height="1"/><rect x="310.4" y="467.7" width="1" height="1"/><rect x="290.7" y="482.8" width="1" height="1"/><rect x="307.1" y="477.3" width="1" height="1"/><rect x="303.2" y="458.8" width="1" height="1"/><rect x="299.3" y="471.9" width="1" height="1"/><rect x="291.1" y="470.8" width="1" height="1"/><rect x="304.3" y="473.2" width="1" height="1"/><rect x="307.8" y="469.9" width="1" height="1"/><rect x="301.8" y="474.9" width="1" height="1"/><rect x="312.6" y="473.8" width="1" height="1"/><rect x="331.3" y="540.6" width="1" height="1"/><rect x="324.1" y="530.8" width="1" height="1"/><rect x="297.6" y="531.1" width="1" height="1"/><rect x="326.7" y="538.8" width="1" height="1"/><rect x="298.6" y="537.1" width="1" height="1"/><rect x="331.6" y="532.1" width="1" height="1"/><rect x="300.7" y="543.0" width="1" height="1"/><rect x="326.9" y="547.1" width="1" height="1"/><rect x="310.5" y="540.4" width="1" height="1"/><rect x="317.0" y="548.3" width="1" height="1"/><rect x="335.3" y="538.1" width="1" height="1"/><rect x="326.8" y="536.2" width="1" height="1"/><rect x="306.1" y="542.2" width="1" height="1"/><rect x="304.8" y="546.0" width="1" height="1"/><rect x="308.3" y="539.5" width="1" height="1"/><rect x="315.1" y="547.6" width="1" height="1"/><rect x="304.7" y="541.2" width="1" height="1"/><rect x="305.0" y="538.3" width="1" height="1"/><rect x="326.2" y="522.8" width="1" height="1"/><rect x="316.3" y="542.5" width="1" height="1"/><rect x="304.2" y="543.1" width="1" height="1"/><rect x="325.9" y="528.5" width="1" height="1"/><rect x="320.2" y="537.1" width="1" height="1"/><rect x="303.2" y="537.5" width="1" height="1"/><rect x="310.3" y="545.5" width="1" height="1"/><rect x="298.8" y="537.4" width="1" height="1"/><rect x="309.2" y="551.5" width="1" height="1"/><rect x="302.6" y="547.4" width="1" height="1"/><rect x="296.2" y="541.7" width="1" height="1"/><rect x="312.4" y="541.9" width="1" height="1"/><rect x="298.3" y="549.4" width="1" height="1"/><rect x="322.7" y="532.9" width="1" height="1"/><rect x="325.4" y="554.5" width="1" height="1"/><rect x="304.0" y="541.1" width="1" height="1"/><rect x="323.4" y="555.7" width="1" height="1"/><rect x="317.7" y="540.3" width="1" height="1"/><rect x="320.8" y="534.1" width="1" height="1"/><rect x="319.6" y="540.0" width="1" height="1"/><rect x="330.0" y="547.6" width="1" height="1"/><rect x="322.3" y="533.4" width="1" height="1"/><rect x="310.0" y="552.1" width="1" height="1"/><rect x="314.0" y="539.9" width="1" height="1"/><rect x="326.1" y="543.5" width="1" height="1"/><rect x="307.8" y="538.7" width="1" height="1"/><rect x="322.3" y="535.8" width="1" height="1"/><rect x="324.7" y="539.9" width="1" height="1"/><rect x="312.2" y="541.5" width="1" height="1"/><rect x="327.6" y="538.8" width="1" height="1"/><rect x="302.1" y="557.7" width="1" height="1"/><rect x="320.1" y="541.9" width="1" height="1"/><rect x="329.7" y="547.7" width="1" height="1"/><rect x="322.5" y="549.0" width="1" height="1"/><rect x="320.5" y="538.9" width="1" height="1"/><rect x="294.8" y="539.3" width="1" height="1"/><rect x="328.1" y="524.3" width="1" height="1"/><rect x="306.3" y="539.2" width="1" height="1"/><rect x="300.7" y="534.7" width="1" height="1"/><rect x="316.9" y="542.4" width="1" height="1"/><rect x="301.3" y="539.3" width="1" height="1"/><rect x="324.8" y="537.7" width="1" height="1"/><rect x="318.4" y="544.3" width="1" height="1"/><rect x="311.7" y="547.0" width="1" height="1"/><rect x="319.3" y="546.1" width="1" height="1"/><rect x="322.1" y="534.0" width="1" height="1"/><rect x="318.7" y="550.2" width="1" height="1"/><rect x="316.4" y="548.7" width="1" height="1"/><rect x="327.2" y="538.9" width="1" height="1"/><rect x="320.8" y="536.9" width="1" height="1"/><rect x="324.9" y="538.5" width="1" height="1"/><rect x="308.7" y="539.1" width="1" height="1"/><rect x="313.5" y="542.3" width="1" height="1"/><rect x="307.7" y="542.2" width="1" height="1"/><rect x="319.1" y="540.0" width="1" height="1"/><rect x="313.6" y="545.2" width="1" height="1"/><rect x="327.7" y="542.3" width="1" height="1"/><rect x="296.9" y="540.2" width="1" height="1"/><rect x="314.9" y="556.5" width="1" height="1"/><rect x="296.1" y="551.8" width="1" height="1"/><rect x="312.9" y="546.9" width="1" height="1"/><rect x="311.6" y="540.9" width="1" height="1"/><rect x="325.8" y="540.2" width="1" height="1"/><rect x="325.1" y="538.9" width="1" height="1"/><rect x="309.5" y="538.6" width="1" height="1"/><rect x="328.2" y="530.2" width="1" height="1"/><rect x="298.0" y="539.4" width="1" height="1"/><rect x="338.4" y="517.2" width="1" height="1"/><rect x="337.2" y="519.7" width="1" height="1"/><rect x="330.0" y="506.1" width="1" height="1"/><rect x="334.7" y="486.0" width="1" height="1"/><rect x="325.4" y="489.2" width="1" height="1"/><rect x="333.3" y="518.8" width="1" height="1"/><rect x="327.3" y="477.0" width="1" height="1"/><rect x="333.1" y="517.6" width="1" height="1"/><rect x="331.1" y="505.4" width="1" height="1"/><rect x="332.0" y="511.3" width="1" height="1"/><rect x="336.4" y="506.0" width="1" height="1"/><rect x="335.3" y="529.1" width="1" height="1"/><rect x="329.1" y="492.6" width="1" height="1"/><rect x="334.5" y="527.5" width="1" height="1"/><rect x="333.3" y="518.4" width="1" height="1"/><rect x="331.7" y="516.3" width="1" height="1"/><rect x="330.6" y="513.5" width="1" height="1"/><rect x="334.1" y="510.1" width="1" height="1"/><rect x="337.6" y="518.3" width="1" height="1"/><rect x="330.7" y="516.1" width="1" height="1"/><rect x="334.6" y="506.5" width="1" height="1"/><rect x="335.8" y="500.3" width="1" height="1"/><rect x="335.2" y="502.6" width="1" height="1"/><rect x="331.4" y="507.4" width="1" height="1"/><rect x="332.7" y="485.1" width="1" height="1"/></g><g fill="none" stroke="#1a1a1a" stroke-width="0.9" stroke-linejoin="round"><path d="M104.4,482.0 105.2,482.0 106.0,482.1 106.7,482.2 107.4,482.3 108.2,482.4 109.0,482.5 109.9,482.7 110.9,482.8 111.9,483.0 112.9,483.2 113.8,483.4 114.6,483.5 115.3,483.5 115.9,483.5 116.4,483.5 117.0,483.4 117.5,483.3 118.0,483.3 118.6,483.3 119.1,483.2 119.7,483.2 120.3,483.1 120.8,483.1 121.3,483.1 121.8,483.1 122.2,483.2 122.6,483.2 123.0,483.3 123.3,483.5 123.6,483.6 123.8,483.8 124.0,484.0 124.2,484.2 124.3,484.4 124.4,484.7 124.4,485.0 124.4,485.4 124.3,485.8 124.1,486.2 124.0,486.7 123.8,487.2 123.6,487.6 123.4,488.0 123.2,488.4 122.9,488.8 122.7,489.2 122.4,489.6 122.2,490.0 122.0,490.4 121.8,490.7 121.7,491.0 121.6,491.4 121.4,491.9 121.3,492.7 121.2,493.7 121.1,494.8 121.1,496.1 121.0,497.5 120.9,499.0 120.8,500.6 120.7,502.3 120.5,504.1 120.4,506.0 120.2,508.0 120.0,510.0 119.7,511.9 119.3,513.8 118.9,515.7 118.4,517.7 117.9,519.6 117.3,521.4 116.8,523.2 116.3,524.9 115.7,526.4 115.2,528.0 114.6,529.4 114.0,530.9 113.4,532.3 112.7,533.7 112.0,535.2 111.2,536.6 110.4,538.0 109.7,539.2 108.9,540.2 108.2,541.0 107.5,541.6 106.8,542.1 106.1,542.5 105.3,542.8 104.4,543.0 103.4,543.1 102.3,543.1 101.1,543.0 100.0,542.9 98.8,542.7 97.6,542.4 96.5,542.1 95.3,541.7 94.2,541.3 93.1,540.8 91.9,540.2 90.8,539.6 89.6,538.9 88.4,538.2 87.3,537.4 86.1,536.5 85.0,535.5 84.0,534.5 83.1,533.4 82.2,532.1 81.5,530.8 80.7,529.4 80.1,528.0 79.5,526.6 79.0,525.2 78.5,523.6 78.1,522.1 77.7,520.6 77.5,519.0 77.3,517.6 77.2,516.2 77.2,514.9 77.2,513.7 77.4,512.4 77.5,511.1 77.8,509.7 78.1,508.2 78.5,506.7 79.0,505.1 79.5,503.6 80.1,502.1 80.7,500.6 81.3,499.2 82.0,497.8 82.7,496.5 83.5,495.2 84.3,493.9 85.2,492.7 86.2,491.5 87.3,490.2 88.5,489.0 89.7,487.9 90.8,486.8 92.0,485.9 93.1,485.1 94.3,484.4 95.4,483.8 96.5,483.3 97.6,482.9 98.7,482.5 99.7,482.2 100.7,482.1 101.7,482.0 102.6,482.0 103.5,482.0Z"/><path d="M143.8,496.2 144.2,495.6 144.7,495.0 145.3,494.4 145.8,493.8 146.4,493.3 147.0,492.8 147.5,492.4 148.1,492.0 148.6,491.7 149.2,491.4 149.7,491.1 150.3,490.8 150.9,490.5 151.5,490.3 152.1,490.0 152.7,489.8 153.4,489.6 154.0,489.5 154.6,489.4 155.3,489.3 156.0,489.2 156.6,489.1 157.2,489.2 157.8,489.3 158.3,489.5 158.8,489.8 159.3,490.2 159.7,490.6 160.1,491.0 160.5,491.5 160.8,492.0 161.1,492.6 161.4,493.2 161.6,493.8 161.9,494.5 162.2,495.1 162.5,495.7 162.9,496.4 163.3,497.0 163.7,497.7 164.0,498.4 164.3,499.0 164.5,499.6 164.8,500.2 164.9,500.8 165.1,501.4 165.3,502.1 165.4,502.7 165.5,503.4 165.7,504.1 165.8,504.8 165.9,505.5 166.0,506.3 166.0,507.0 166.0,507.7 166.0,508.5 166.0,509.2 166.0,509.9 165.9,510.7 165.8,511.4 165.7,512.2 165.5,512.9 165.4,513.7 165.2,514.5 165.0,515.3 164.8,516.0 164.6,516.7 164.3,517.4 164.1,518.1 163.8,518.8 163.5,519.3 163.2,519.8 162.8,520.1 162.4,520.4 162.0,520.6 161.6,520.7 161.2,520.7 160.8,520.8 160.5,520.8 160.1,520.9 159.9,520.9 159.6,520.8 159.2,520.7 158.9,520.4 158.5,520.0 158.1,519.5 157.7,518.9 157.3,518.3 156.9,517.6 156.5,517.0 156.2,516.4 155.9,515.8 155.6,515.2 155.3,514.6 155.0,514.0 154.6,513.5 154.2,513.0 153.7,512.6 153.1,512.1 152.6,511.7 152.0,511.4 151.5,511.0 150.9,510.7 150.4,510.3 149.8,510.1 149.2,509.8 148.6,509.5 148.1,509.2 147.6,508.9 147.2,508.6 146.7,508.3 146.3,508.1 145.9,507.7 145.5,507.4 145.1,507.0 144.7,506.6 144.3,506.2 144.0,505.8 143.7,505.3 143.4,504.9 143.2,504.4 143.0,503.9 142.9,503.4 142.8,503.0 142.7,502.5 142.6,502.0 142.6,501.6 142.5,501.2 142.5,500.8 142.6,500.4 142.6,500.0 142.7,499.5 142.8,499.0 142.9,498.5 143.1,497.9 143.2,497.3 143.5,496.8Z"/><path d="M261.1,465.3 261.4,465.3 261.8,465.3 262.2,465.4 262.5,465.4 262.9,465.5 263.2,465.6 263.5,465.8 263.7,465.9 264.0,466.2 264.2,466.4 264.4,466.7 264.6,467.0 264.8,467.4 264.9,467.8 265.0,468.2 265.1,468.7 265.2,469.2 265.3,469.7 265.5,470.3 265.6,470.9 265.8,471.5 266.0,472.2 266.2,472.8 266.5,473.5 266.8,474.1 267.2,474.8 267.6,475.4 268.0,476.0 268.4,476.7 268.8,477.4 269.2,478.1 269.6,478.9 270.0,479.7 270.4,480.5 270.8,481.3 271.1,482.0 271.4,482.7 271.6,483.4 271.9,484.0 272.1,484.6 272.3,485.2 272.6,485.8 272.9,486.4 273.3,486.9 273.6,487.5 274.0,488.0 274.5,488.5 274.9,488.9 275.4,489.3 275.8,489.7 276.4,490.0 276.9,490.3 277.4,490.6 278.0,490.8 278.6,491.0 279.2,491.1 279.9,491.2 280.6,491.3 281.2,491.3 281.8,491.2 282.4,491.1 282.9,490.9 283.4,490.6 283.9,490.3 284.4,490.0 284.9,489.7 285.4,489.4 286.0,489.0 286.5,488.6 287.0,488.2 287.5,487.8 288.0,487.4 288.4,487.0 288.7,486.7 289.0,486.3 289.4,486.0 289.8,485.7 290.3,485.5 291.0,485.3 291.7,485.2 292.5,485.1 293.4,485.0 294.3,484.9 295.2,484.8 296.2,484.7 297.2,484.6 298.2,484.6 299.3,484.5 300.3,484.4 301.2,484.3 302.0,484.2 302.8,484.0 303.6,483.8 304.3,483.6 304.9,483.5 305.6,483.5 306.2,483.6 306.8,483.8 307.4,484.0 307.9,484.3 308.4,484.5 309.0,484.8 309.5,485.1 310.1,485.4 310.6,485.6 311.1,485.9 311.8,486.2 312.5,486.5 313.4,486.7 314.4,486.9 315.4,487.2 316.5,487.4 317.6,487.6 318.5,487.8 319.3,488.0 320.1,488.3 320.9,488.5 321.6,488.8 322.2,489.1 322.9,489.5 323.5,490.0 324.2,490.5 324.7,491.1 325.3,491.7 325.8,492.3 326.3,493.0 326.8,493.7 327.2,494.3 327.6,495.0 327.9,495.8 328.2,496.5 328.5,497.3 328.7,498.1 328.9,498.9 329.1,499.8 329.2,500.7 329.3,501.6 329.4,502.5 329.4,503.5 329.4,504.4 329.4,505.4 329.4,506.5 329.3,507.5 329.2,508.5 329.1,509.5 329.0,510.6 328.8,511.6 328.7,512.6 328.5,513.6 328.3,514.6 328.1,515.5 327.9,516.4 327.6,517.3 327.4,518.2 327.1,519.1 326.8,520.0 326.5,520.9 326.1,521.8 325.7,522.8 325.3,523.7 324.9,524.6 324.5,525.5 324.1,526.4 323.7,527.2 323.3,528.1 322.8,528.9 322.4,529.7 322.0,530.5 321.6,531.3 321.2,532.1 320.8,532.9 320.3,533.7 319.9,534.4 319.5,535.0 319.1,535.6 318.7,536.0 318.3,536.5 317.9,536.9 317.4,537.2 317.0,537.5 316.5,537.7 316.1,537.9 315.6,538.1 315.1,538.2 314.7,538.2 314.2,538.3 313.7,538.3 313.3,538.3 312.8,538.2 312.3,538.2 311.9,538.1 311.5,538.0 311.2,538.0 311.0,538.0 310.8,538.0 310.5,537.9 310.3,537.7 309.9,537.4 309.4,536.8 308.9,536.1 308.3,535.3 307.6,534.4 307.0,533.5 306.4,532.7 305.9,532.0 305.4,531.2 304.9,530.5 304.3,529.8 303.7,529.1 303.0,528.4 302.1,527.8 301.2,527.1 300.1,526.5 299.0,526.0 298.0,525.4 296.9,524.9 295.9,524.4 294.9,523.9 293.8,523.4 292.8,523.0 291.8,522.7 290.7,522.4 289.6,522.2 288.4,522.2 287.3,522.1 286.1,522.2 285.0,522.3 284.0,522.4 283.1,522.6 282.2,522.8 281.4,523.0 280.6,523.3 279.9,523.6 279.1,524.0 278.3,524.4 277.6,524.9 276.9,525.5 276.2,526.1 275.5,526.7 274.9,527.3 274.3,527.9 273.8,528.6 273.2,529.3 272.7,530.0 272.2,530.7 271.6,531.5 271.0,532.3 270.3,533.2 269.7,534.0 269.0,534.9 268.2,535.7 267.4,536.5 266.5,537.2 265.4,537.9 264.3,538.5 263.2,539.0 262.1,539.5 261.0,540.0 260.0,540.4 259.0,540.7 257.9,541.0 256.9,541.2 256.0,541.4 255.0,541.5 254.1,541.6 253.1,541.6 252.2,541.6 251.3,541.5 250.4,541.4 249.5,541.2 248.6,540.9 247.6,540.6 246.7,540.3 245.8,539.9 244.9,539.4 244.0,538.8 243.1,538.1 242.3,537.4 241.5,536.6 240.7,535.8 239.9,534.9 239.2,534.0 238.5,533.1 237.8,532.2 237.2,531.3 236.6,530.4 236.0,529.4 235.5,528.3 235.0,527.2 234.6,525.9 234.3,524.7 234.0,523.4 233.7,522.2 233.5,521.0 233.3,519.9 233.2,518.9 233.1,517.9 233.1,516.9 233.1,515.9 233.1,514.8 233.1,513.6 233.1,512.3 233.1,510.9 233.2,509.6 233.3,508.3 233.5,507.0 233.8,505.7 234.1,504.5 234.5,503.2 235.0,502.1 235.4,501.0 235.7,500.0 236.0,499.2 236.2,498.5 236.4,498.0 236.6,497.4 236.9,496.8 237.2,496.2 237.6,495.5 238.1,494.7 238.6,493.9 239.2,493.0 239.8,492.2 240.3,491.5 240.8,490.8 241.3,490.2 241.8,489.6 242.3,488.9 242.8,488.3 243.4,487.7 244.0,487.1 244.6,486.4 245.2,485.7 245.9,485.1 246.6,484.4 247.2,483.8 247.8,483.2 248.5,482.6 249.2,481.9 249.8,481.3 250.5,480.7 251.1,480.0 251.8,479.3 252.4,478.5 253.1,477.7 253.7,476.9 254.3,476.1 254.9,475.4 255.4,474.7 256.0,474.0 256.5,473.3 257.0,472.7 257.3,472.0 257.6,471.5 257.7,471.0 257.7,470.6 257.5,470.3 257.4,469.9 257.2,469.6 257.2,469.2 257.3,468.8 257.4,468.3 257.5,467.8 257.6,467.3 257.8,466.9 258.0,466.5 258.2,466.2 258.4,466.0 258.7,465.8 259.0,465.7 259.2,465.6 259.5,465.5 259.8,465.4 260.0,465.4 260.3,465.3 260.5,465.3 260.8,465.3Z"/><path d="M261.8,476.5 262.3,476.6 262.7,476.8 263.2,477.0 263.7,477.2 264.1,477.5 264.5,477.8 264.9,478.1 265.2,478.3 265.5,478.6 265.8,479.0 266.2,479.3 266.5,479.7 266.9,480.1 267.3,480.6 267.7,481.2 268.1,481.7 268.4,482.3 268.8,482.8 269.1,483.3 269.5,483.8 269.8,484.2 270.1,484.7 270.4,485.2 270.7,485.8 271.0,486.4 271.3,487.1 271.5,487.9 271.8,488.6 272.1,489.3 272.4,490.0 272.8,490.6 273.2,491.2 273.6,491.8 274.1,492.4 274.5,492.9 274.9,493.5 275.2,494.0 275.5,494.6 275.7,495.1 275.9,495.6 276.2,496.1 276.6,496.6 277.1,497.1 277.6,497.7 278.2,498.2 278.9,498.8 279.4,499.4 279.9,500.0 280.3,500.7 280.5,501.4 280.8,502.2 281.0,502.9 281.2,503.5 281.6,504.1 282.1,504.5 282.6,504.9 283.2,505.2 283.7,505.4 284.3,505.6 284.9,505.8 285.5,505.9 286.0,506.0 286.6,506.1 287.2,506.1 287.7,506.2 288.2,506.3 288.6,506.5 289.1,506.7 289.4,507.0 289.8,507.2 290.2,507.3 290.5,507.3 290.8,507.1 291.2,506.7 291.5,506.3 291.8,505.7 292.0,505.1 292.3,504.5 292.5,503.8 292.7,502.9 292.9,502.0 293.0,501.0 293.2,500.2 293.5,499.5 293.8,499.0 294.2,498.5 294.6,498.1 295.0,497.8 295.5,497.6 296.0,497.3 296.5,497.1 297.1,497.0 297.7,496.9 298.4,496.8 299.0,496.6 299.5,496.4 300.0,496.1 300.4,495.7 300.8,495.2 301.2,494.7 301.6,494.3 302.1,493.8 302.6,493.4 303.2,492.9 303.7,492.4 304.3,492.0 305.0,491.6 305.6,491.2 306.3,490.8 306.9,490.5 307.6,490.2 308.4,489.9 309.1,489.7 309.9,489.5 310.7,489.3 311.6,489.2 312.4,489.1 313.3,489.1 314.2,489.1 315.1,489.1 316.0,489.2 316.9,489.3 317.8,489.5 318.6,489.7 319.5,490.0 320.3,490.4 321.1,490.8 321.9,491.3 322.6,491.9 323.4,492.5 324.0,493.2 324.6,493.8 325.1,494.4 325.5,495.1 325.9,495.8 326.2,496.5 326.5,497.2 326.8,498.0 327.0,498.8 327.3,499.6 327.4,500.5 327.6,501.3 327.7,502.2 327.8,503.0 327.9,503.8 327.9,504.6 328.0,505.3 328.0,506.1 327.9,506.8 327.9,507.5 327.8,508.2 327.7,508.9 327.6,509.5 327.5,510.2 327.4,510.8 327.2,511.5 327.0,512.1 326.9,512.8 326.7,513.4 326.5,514.1 326.3,514.7 326.0,515.5 325.7,516.3 325.4,517.2 325.0,518.2 324.6,519.1 324.2,520.1 323.8,521.0 323.4,521.9 322.9,522.9 322.4,523.8 321.9,524.8 321.5,525.7 321.0,526.5 320.6,527.3 320.2,528.0 319.8,528.7 319.4,529.4 318.9,530.0 318.5,530.5 318.0,530.9 317.5,531.3 317.0,531.6 316.5,531.9 316.0,532.1 315.5,532.2 315.0,532.3 314.5,532.3 314.0,532.3 313.5,532.3 313.0,532.2 312.5,532.0 312.1,531.8 311.7,531.6 311.3,531.3 310.9,531.0 310.4,530.6 309.9,530.1 309.3,529.5 308.6,528.8 307.9,528.1 307.2,527.3 306.4,526.6 305.6,525.8 304.8,525.1 304.0,524.3 303.1,523.6 302.2,522.9 301.3,522.1 300.4,521.4 299.4,520.6 298.3,519.9 297.2,519.1 296.1,518.3 295.1,517.5 294.3,516.8 293.7,516.1 293.2,515.4 292.7,514.8 292.4,514.2 292.1,513.6 291.8,513.0 291.5,512.4 291.4,511.9 291.2,511.3 291.1,510.9 290.9,510.5 290.6,510.2 290.2,510.1 289.7,510.0 289.2,510.1 288.6,510.3 288.0,510.5 287.4,510.7 286.7,511.0 286.0,511.4 285.3,511.8 284.6,512.2 283.9,512.7 283.2,513.2 282.6,513.7 282.0,514.2 281.5,514.8 281.0,515.4 280.4,516.0 279.9,516.6 279.3,517.2 278.8,517.9 278.2,518.6 277.7,519.2 277.1,520.0 276.6,520.7 276.1,521.5 275.5,522.3 275.0,523.1 274.4,524.0 273.9,524.9 273.3,525.7 272.7,526.5 272.2,527.4 271.6,528.3 271.0,529.1 270.5,529.9 269.9,530.7 269.4,531.4 268.9,532.1 268.4,532.8 267.9,533.5 267.3,534.2 266.6,534.8 265.8,535.5 264.9,536.1 264.0,536.8 263.0,537.4 262.0,538.0 261.0,538.5 260.0,538.9 259.0,539.2 258.0,539.5 257.0,539.7 256.0,539.9 255.0,540.0 254.0,540.1 253.1,540.1 252.2,540.0 251.3,539.9 250.4,539.7 249.5,539.5 248.6,539.2 247.8,538.9 246.9,538.5 246.1,538.1 245.3,537.6 244.5,537.0 243.8,536.4 243.1,535.7 242.4,535.0 241.8,534.2 241.1,533.4 240.5,532.5 239.9,531.6 239.2,530.7 238.6,529.7 238.0,528.7 237.5,527.6 237.0,526.5 236.6,525.3 236.2,524.1 235.8,522.8 235.5,521.5 235.2,520.2 235.0,519.0 234.8,517.8 234.7,516.6 234.6,515.5 234.5,514.3 234.5,513.2 234.5,512.0 234.6,510.8 234.7,509.6 234.9,508.4 235.1,507.2 235.3,506.1 235.5,505.0 235.7,503.9 236.0,502.9 236.3,501.9 236.6,500.9 236.9,500.0 237.2,499.2 237.5,498.5 237.9,497.8 238.2,497.2 238.6,496.7 239.0,496.1 239.5,495.4 240.1,494.7 240.7,493.9 241.4,493.1 242.0,492.3 242.7,491.6 243.4,490.8 244.0,490.1 244.7,489.3 245.3,488.6 245.9,487.9 246.6,487.2 247.2,486.5 247.8,485.9 248.5,485.3 249.2,484.7 249.8,484.2 250.5,483.6 251.1,483.1 251.7,482.6 252.4,482.0 253.0,481.5 253.6,481.0 254.3,480.5 254.9,480.0 255.6,479.5 256.2,479.0 256.9,478.5 257.6,478.0 258.2,477.6 258.8,477.3 259.4,477.0 259.9,476.8 260.4,476.6 260.9,476.5 261.3,476.5Z"/><path d="M103.2,540.6 102.8,540.7 102.4,540.7 102.0,540.8 101.6,540.8 101.2,540.7 100.8,540.7 100.4,540.7 100.0,540.6 99.8,540.6 99.4,540.5 99.0,540.4 98.8,540.4 98.4,540.3 98.1,540.2 97.8,540.1 97.4,540.0 97.2,539.9 96.8,539.8 96.6,539.8 96.2,539.6 96.0,539.5 95.6,539.4 95.4,539.3 95.1,539.2 94.8,539.1 94.5,539.0 94.2,538.9 94.0,538.8 93.6,538.6 93.4,538.5 93.1,538.4 92.8,538.3 92.6,538.2 92.2,538.0 92.0,537.9 91.8,537.8 91.4,537.6 91.2,537.5 91.0,537.4 90.7,537.2 90.4,537.0 90.2,536.9 90.0,536.8 89.7,536.6 89.4,536.4 89.2,536.2 89.0,536.1 88.8,535.9 88.6,535.8 88.4,535.6 88.2,535.4 88.0,535.2 87.8,535.0 87.6,534.8 87.4,534.6 87.2,534.4 87.0,534.2 86.8,534.0 86.6,533.7 86.4,533.5 86.2,533.2 86.0,533.0 85.9,532.8 85.7,532.6 85.6,532.4 85.4,532.1 85.2,531.8 85.1,531.6 84.9,531.4 84.8,531.2 84.6,530.9 84.4,530.6 84.3,530.4 84.2,530.2 84.0,529.8 83.9,529.6 83.8,529.4 83.6,529.1 83.4,528.8 83.3,528.6 83.2,528.4 83.0,528.0 82.9,527.8 82.8,527.6 82.6,527.2 82.5,527.0 82.4,526.7 82.3,526.4 82.2,526.2 82.0,525.8 82.0,525.6 81.8,525.2 81.7,525.0 81.6,524.6 81.5,524.4 81.4,524.0 81.4,523.8 81.2,523.4 81.2,523.2 81.1,522.8 81.0,522.4 81.0,522.2 80.9,521.8 80.8,521.4 80.8,521.2 80.7,520.8 80.7,520.4 80.6,520.0 80.6,519.8 80.6,519.4 80.5,519.0 80.5,518.6 80.4,518.2 80.4,517.8 80.4,517.6 80.4,517.2 80.4,516.8 80.3,516.4 80.3,516.0 80.3,515.6 80.3,515.2 80.3,514.8 80.3,514.4 80.3,514.0 80.3,513.6 80.3,513.2 80.3,512.8 80.3,512.4 80.4,512.0 80.4,511.8 80.4,511.4 80.5,511.0 80.6,510.6 80.6,510.4 80.7,510.0 80.7,509.6 80.8,509.2 80.9,509.0 81.0,508.6 81.0,508.4 81.1,508.0 81.2,507.7 81.3,507.4 81.4,507.1 81.5,506.8 81.6,506.5 81.7,506.2 81.8,505.9 81.9,505.6 82.0,505.4 82.2,505.0 82.2,504.8 82.4,504.4 82.5,504.2 82.6,503.9 82.7,503.6 82.8,503.4 83.0,503.0 83.0,502.8 83.2,502.5 83.3,502.2 83.4,502.0 83.6,501.6 83.7,501.4 83.8,501.0 83.9,500.8 84.0,500.6 84.2,500.2 84.3,500.0 84.4,499.8 84.6,499.4 84.6,499.2 84.8,498.9 85.0,498.6 85.1,498.4 85.2,498.1 85.4,497.8 85.4,497.6 85.6,497.3 85.8,497.0 85.9,496.8 86.0,496.6 86.2,496.2 86.4,496.0 86.4,495.8 86.6,495.6 86.8,495.3 86.9,495.0 87.1,494.8 87.2,494.6 87.4,494.3 87.6,494.0 87.8,493.8 87.9,493.6 88.1,493.4 88.3,493.2 88.4,493.0 88.6,492.8 88.8,492.6 89.0,492.4 89.2,492.1 89.4,491.9 89.6,491.7 89.8,491.5 90.0,491.3 90.2,491.1 90.4,491.0 90.6,490.8 90.8,490.6 91.1,490.4 91.3,490.2 91.5,490.0 91.8,489.8 92.0,489.6 92.2,489.5 92.4,489.4 92.7,489.2 93.0,489.0 93.2,488.9 93.4,488.7 93.7,488.6 94.0,488.4 94.2,488.3 94.4,488.2 94.8,488.1 95.0,487.9 95.4,487.8 95.6,487.7 95.8,487.6 96.2,487.5 96.4,487.4 96.8,487.2 97.0,487.2 97.4,487.0 97.6,487.0 98.0,486.9 98.2,486.8 98.6,486.7 98.9,486.6 99.2,486.6 99.6,486.4 99.9,486.4 100.2,486.3 100.6,486.3 100.8,486.2 101.2,486.2 101.6,486.1 102.0,486.0 102.2,486.0 102.6,485.9 103.0,485.9 103.4,485.8 103.8,485.8 104.0,485.8 104.4,485.8 104.8,485.7 105.2,485.7 105.6,485.7 106.0,485.7 106.4,485.7 106.8,485.7 107.2,485.7 107.6,485.7 108.0,485.8 108.2,485.8 108.6,485.9 109.0,485.9 109.4,486.0 109.6,486.0 110.0,486.1 110.4,486.2 110.6,486.2 111.0,486.3 111.2,486.4 111.6,486.5 111.8,486.6 112.2,486.7 112.4,486.8 112.8,487.0 113.0,487.1 113.2,487.2 113.5,487.4 113.8,487.5 114.0,487.7 114.2,487.8 114.5,488.0 114.8,488.2 115.0,488.4 115.2,488.5 115.4,488.7 115.6,488.9 115.8,489.1 116.0,489.2 116.2,489.5 116.4,489.8 116.6,490.0 116.8,490.2 117.0,490.4 117.1,490.6 117.2,490.8 117.4,491.1 117.6,491.4 117.7,491.6 117.8,491.8 118.0,492.2 118.1,492.4 118.2,492.6 118.4,493.0 118.4,493.2 118.6,493.6 118.6,493.8 118.8,494.2 118.8,494.2 118.8,494.4 118.9,494.8 119.0,495.1 119.0,495.4 119.0,495.4 119.2,495.8 119.2,496.1 119.2,496.3 119.2,496.4 119.3,496.8 119.4,497.2 119.4,497.5 119.4,497.7 119.4,497.8 119.4,498.2 119.5,498.6 119.5,499.0 119.5,499.4 119.5,499.8 119.5,500.2 119.5,500.6 119.4,501.0 119.4,501.2 119.5,501.4 119.4,501.6 119.4,502.0 119.4,502.0 119.3,502.4 119.3,502.8 119.2,503.2 119.2,503.6 119.2,503.8 119.2,504.2 119.1,504.6 119.0,504.9 118.9,505.2 119.0,505.4 118.9,505.6 118.9,506.0 118.8,506.3 118.7,506.6 118.7,507.0 118.6,507.3 118.6,507.5 118.6,507.8 118.5,508.0 118.4,508.4 118.4,508.6 118.4,508.8 118.4,509.0 118.3,509.4 118.2,509.8 118.2,510.0 118.2,510.4 118.1,510.8 118.1,511.2 118.0,511.6 118.0,512.0 118.0,512.4 118.0,512.6 117.9,513.0 117.9,513.4 117.9,513.8 117.9,514.2 117.8,514.6 117.8,515.0 117.8,515.2 117.8,515.6 117.7,516.0 117.7,516.4 117.6,516.7 117.5,517.0 117.5,517.4 117.4,517.6 117.3,518.0 117.2,518.4 117.2,518.6 117.0,519.0 117.0,519.2 116.8,519.6 116.7,519.8 116.6,520.2 116.5,520.4 116.4,520.7 116.3,521.0 116.2,521.3 116.1,521.6 116.0,521.9 115.9,522.2 115.8,522.4 115.7,522.8 115.6,523.1 115.5,523.4 115.4,523.8 115.3,524.0 115.2,524.4 115.2,524.6 115.1,525.0 115.0,525.3 114.9,525.6 114.8,526.0 114.7,526.2 114.6,526.6 114.6,526.8 114.4,527.2 114.4,527.4 114.2,527.8 114.2,528.0 114.0,528.4 113.9,528.6 113.8,528.9 113.7,529.2 113.6,529.4 113.4,529.7 113.3,530.0 113.2,530.2 113.0,530.5 112.8,530.8 112.7,531.0 112.6,531.2 112.4,531.5 112.2,531.8 112.1,532.0 112.0,532.2 111.8,532.6 111.7,532.8 111.5,533.0 111.4,533.2 111.2,533.6 111.1,533.8 110.9,534.0 110.8,534.2 110.6,534.5 110.4,534.8 110.3,535.0 110.2,535.2 110.0,535.5 109.8,535.7 109.6,536.0 109.5,536.2 109.3,536.4 109.2,536.6 109.0,536.8 108.8,537.1 108.6,537.4 108.4,537.6 108.2,537.8 108.0,538.0 107.8,538.2 107.6,538.4 107.4,538.6 107.2,538.7 107.0,538.9 106.8,539.1 106.6,539.2 106.3,539.4 106.0,539.6 105.8,539.7 105.6,539.8 105.3,540.0 105.0,540.1 104.8,540.2 104.4,540.3 104.2,540.4 103.8,540.5 103.4,540.6 103.2,540.6Z"/><path d="M101.4,538.2 101.0,538.2 100.6,538.2 100.2,538.2 100.0,538.2 99.6,538.2 99.2,538.1 98.8,538.0 98.5,538.0 98.2,537.9 97.8,537.9 97.6,537.8 97.2,537.7 96.8,537.6 96.6,537.5 96.2,537.4 96.0,537.3 95.6,537.2 95.4,537.1 95.0,537.0 94.8,536.9 94.5,536.8 94.2,536.6 94.0,536.6 93.7,536.4 93.4,536.3 93.2,536.2 92.9,536.0 92.6,535.8 92.4,535.7 92.2,535.6 91.8,535.4 91.6,535.2 91.4,535.1 91.2,534.9 91.0,534.8 90.7,534.6 90.5,534.4 90.3,534.2 90.1,534.0 89.8,533.8 89.6,533.6 89.4,533.4 89.3,533.2 89.1,533.0 88.9,532.8 88.7,532.6 88.6,532.4 88.4,532.2 88.2,531.9 88.0,531.6 87.8,531.4 87.7,531.2 87.6,531.0 87.4,530.7 87.2,530.4 87.1,530.2 87.0,530.0 86.8,529.7 86.6,529.4 86.5,529.2 86.4,528.9 86.2,528.6 86.1,528.4 86.0,528.2 85.8,527.8 85.7,527.6 85.6,527.3 85.5,527.0 85.4,526.8 85.2,526.4 85.1,526.2 85.0,525.9 84.9,525.6 84.8,525.3 84.7,525.0 84.6,524.8 84.5,524.4 84.4,524.1 84.3,523.8 84.2,523.4 84.1,523.2 84.0,522.8 84.0,522.6 83.9,522.2 83.8,521.8 83.8,521.6 83.7,521.2 83.7,520.8 83.6,520.4 83.6,520.2 83.5,519.8 83.5,519.4 83.4,519.0 83.4,518.7 83.4,518.4 83.3,518.0 83.3,517.6 83.3,517.2 83.3,516.8 83.2,516.4 83.2,516.0 83.2,515.6 83.2,515.2 83.2,515.2 83.2,514.8 83.2,514.4 83.2,514.0 83.2,513.6 83.3,513.2 83.3,512.8 83.3,512.4 83.4,512.0 83.4,512.0 83.4,511.7 83.5,511.4 83.5,511.0 83.6,510.6 83.6,510.4 83.7,510.0 83.8,509.6 83.8,509.4 83.9,509.0 84.0,508.8 84.1,508.4 84.2,508.0 84.3,507.8 84.4,507.4 84.4,507.2 84.6,506.8 84.6,506.6 84.8,506.2 84.8,506.0 85.0,505.6 85.0,505.4 85.1,505.0 85.3,504.8 85.4,504.4 85.4,504.2 85.6,503.8 85.6,503.6 85.8,503.2 85.9,503.0 86.0,502.7 86.2,502.4 86.2,502.2 86.4,501.8 86.5,501.6 86.6,501.2 86.7,501.0 86.8,500.8 87.0,500.4 87.1,500.2 87.3,500.0 87.4,499.7 87.5,499.4 87.6,499.2 87.8,498.9 88.0,498.6 88.1,498.4 88.2,498.2 88.4,497.9 88.6,497.6 88.7,497.4 88.8,497.2 89.0,496.9 89.2,496.6 89.4,496.4 89.6,496.2 89.7,496.0 89.8,495.8 90.0,495.6 90.2,495.4 90.4,495.2 90.6,495.0 90.8,494.7 91.0,494.5 91.2,494.3 91.4,494.2 91.6,494.0 91.8,493.8 92.0,493.6 92.3,493.4 92.5,493.2 92.8,493.0 93.0,492.9 93.2,492.7 93.4,492.6 93.7,492.4 94.0,492.2 94.2,492.0 94.4,491.9 94.6,491.8 95.0,491.7 95.2,491.5 95.5,491.4 95.8,491.2 96.0,491.1 96.4,491.0 96.6,490.9 96.9,490.8 97.2,490.7 97.4,490.6 97.8,490.5 98.0,490.4 98.4,490.3 98.8,490.2 99.0,490.1 99.4,490.0 99.6,490.0 100.0,489.9 100.4,489.8 100.6,489.8 101.0,489.7 101.4,489.7 101.8,489.6 102.0,489.6 102.4,489.6 102.8,489.5 103.2,489.5 103.6,489.5 104.0,489.5 104.4,489.5 104.8,489.5 105.2,489.5 105.6,489.5 106.0,489.5 106.4,489.6 106.6,489.6 107.0,489.7 107.4,489.7 107.8,489.8 108.0,489.9 108.4,489.9 108.6,490.0 109.0,490.1 109.3,490.2 109.6,490.3 109.8,490.4 110.2,490.5 110.4,490.6 110.7,490.8 111.0,490.9 111.2,491.0 111.5,491.2 111.8,491.4 112.0,491.5 112.2,491.7 112.4,491.8 112.7,492.0 112.9,492.2 113.1,492.4 113.3,492.6 113.6,492.8 113.8,493.0 113.9,493.2 114.1,493.4 114.3,493.6 114.5,493.8 114.7,494.0 114.8,494.2 115.0,494.5 115.2,494.8 115.3,495.0 115.4,495.3 115.6,495.5 115.7,495.8 115.8,496.0 116.0,496.3 116.1,496.6 116.2,496.9 116.3,497.2 116.4,497.4 116.4,497.6 116.5,497.8 116.6,498.0 116.7,498.4 116.8,498.8 116.8,498.8 116.8,499.0 117.0,499.4 116.9,499.8 117.0,500.0 117.1,500.4 117.2,500.8 117.1,501.2 117.2,501.4 117.2,501.6 117.3,501.8 117.2,502.2 117.3,502.6 117.2,503.0 117.3,503.4 117.3,503.8 117.2,504.2 117.2,504.5 117.2,504.6 117.2,505.0 117.2,505.2 117.1,505.6 117.2,505.8 117.2,506.0 117.1,506.4 117.1,506.8 117.0,507.2 117.0,507.4 116.9,507.8 117.0,508.0 117.0,508.2 116.9,508.6 116.9,509.0 116.8,509.4 116.8,509.6 116.8,510.0 116.7,510.4 116.7,510.8 116.7,511.2 116.6,511.6 116.6,511.9 116.6,512.2 116.5,512.6 116.5,513.0 116.5,513.4 116.5,513.8 116.4,514.2 116.4,514.6 116.4,514.8 116.4,515.0 116.4,515.2 116.4,515.6 116.3,516.0 116.3,516.4 116.2,516.8 116.2,517.0 116.1,517.4 116.0,517.8 116.0,518.0 115.9,518.4 115.8,518.8 115.8,519.0 115.7,519.4 115.6,519.6 115.5,520.0 115.4,520.3 115.3,520.6 115.2,520.9 115.1,521.2 115.0,521.6 114.9,521.8 114.8,522.2 114.8,522.4 114.6,522.8 114.6,523.0 114.5,523.4 114.4,523.7 114.3,524.0 114.2,524.4 114.2,524.6 114.0,525.0 114.0,525.2 113.9,525.6 113.8,525.8 113.7,526.2 113.6,526.4 113.5,526.8 113.4,527.0 113.2,527.4 113.2,527.6 113.0,527.9 112.9,528.2 112.8,528.4 112.6,528.8 112.5,529.0 112.4,529.2 112.2,529.5 112.0,529.8 111.9,530.0 111.8,530.2 111.6,530.5 111.4,530.8 111.3,531.0 111.1,531.2 111.0,531.4 110.8,531.7 110.6,531.9 110.4,532.2 110.3,532.4 110.1,532.6 110.0,532.8 109.8,533.0 109.6,533.3 109.4,533.5 109.2,533.8 109.0,534.0 108.8,534.2 108.7,534.4 108.5,534.6 108.3,534.8 108.1,535.0 107.9,535.2 107.7,535.4 107.4,535.6 107.2,535.8 107.0,536.0 106.8,536.2 106.6,536.3 106.4,536.4 106.2,536.6 105.9,536.8 105.6,537.0 105.4,537.1 105.2,537.2 104.8,537.4 104.6,537.5 104.3,537.6 104.0,537.7 103.7,537.8 103.4,537.9 103.0,538.0 102.8,538.0 102.4,538.1 102.0,538.2 101.6,538.2 101.4,538.2Z"/><path d="M100.8,535.8 100.4,535.8 100.0,535.9 99.6,535.9 99.2,535.9 98.8,535.9 98.4,535.8 98.2,535.8 97.8,535.7 97.4,535.7 97.2,535.6 96.8,535.5 96.4,535.4 96.2,535.3 95.9,535.2 95.6,535.1 95.4,535.0 95.0,534.8 94.8,534.7 94.5,534.6 94.2,534.4 94.0,534.3 93.8,534.2 93.5,534.0 93.2,533.8 93.0,533.6 92.8,533.5 92.6,533.3 92.4,533.1 92.2,532.9 92.0,532.7 91.8,532.5 91.6,532.2 91.5,532.0 91.3,531.8 91.2,531.6 91.0,531.3 90.8,531.0 90.7,530.8 90.5,530.6 90.4,530.4 90.2,530.1 90.0,529.8 89.9,529.6 89.8,529.4 89.6,529.1 89.4,528.8 89.3,528.6 89.2,528.4 89.0,528.1 88.8,527.8 88.8,527.6 88.6,527.3 88.5,527.0 88.4,526.8 88.2,526.4 88.2,526.2 88.0,525.8 88.0,525.6 87.8,525.2 87.7,525.0 87.6,524.6 87.6,524.4 87.4,524.0 87.4,523.8 87.3,523.4 87.2,523.1 87.1,522.8 87.0,522.4 86.9,522.2 86.8,521.8 86.8,521.6 86.7,521.2 86.6,520.8 86.6,520.6 86.5,520.2 86.5,519.8 86.5,519.4 86.4,519.0 86.4,518.6 86.4,518.2 86.4,517.8 86.4,517.6 86.4,517.2 86.3,516.8 86.3,516.4 86.2,516.0 86.2,515.6 86.2,515.4 86.2,515.0 86.2,514.6 86.1,514.2 86.1,513.8 86.2,513.4 86.2,513.0 86.2,512.8 86.3,512.4 86.3,512.0 86.4,511.7 86.4,511.4 86.5,511.0 86.6,510.6 86.6,510.4 86.7,510.0 86.8,509.6 86.9,509.4 86.9,509.0 87.0,508.8 87.1,508.4 87.2,508.0 87.2,507.8 87.3,507.4 87.4,507.0 87.4,506.8 87.5,506.4 87.6,506.2 87.7,505.8 87.8,505.4 87.9,505.2 88.0,505.0 88.1,504.6 88.2,504.4 88.4,504.0 88.5,503.8 88.6,503.6 88.8,503.2 88.9,503.0 89.0,502.7 89.2,502.4 89.2,502.2 89.4,502.0 89.6,501.6 89.6,501.4 89.8,501.0 89.9,500.8 90.0,500.6 90.2,500.2 90.3,500.0 90.4,499.8 90.6,499.5 90.8,499.2 90.9,499.0 91.0,498.8 91.2,498.6 91.4,498.3 91.6,498.1 91.8,497.8 92.0,497.6 92.2,497.4 92.4,497.2 92.6,497.1 92.8,496.9 93.0,496.7 93.2,496.6 93.5,496.4 93.6,496.2 93.9,496.0 94.2,495.8 94.4,495.7 94.6,495.5 94.8,495.4 95.2,495.2 95.4,495.1 95.6,495.0 95.9,494.8 96.2,494.7 96.4,494.6 96.8,494.4 97.0,494.4 97.4,494.3 97.8,494.2 98.0,494.2 98.4,494.2 98.8,494.1 99.2,494.1 99.6,494.0 99.8,494.0 100.2,493.9 100.6,493.9 100.8,493.8 101.2,493.7 101.6,493.6 101.8,493.6 102.2,493.5 102.6,493.4 102.9,493.4 103.2,493.4 103.6,493.4 104.0,493.4 104.4,493.4 104.8,493.4 105.2,493.4 105.4,493.4 105.8,493.4 106.2,493.5 106.6,493.5 106.9,493.6 107.2,493.7 107.6,493.8 107.8,493.9 108.1,494.0 108.4,494.2 108.6,494.3 108.8,494.4 109.2,494.6 109.4,494.8 109.6,494.9 109.8,495.0 110.0,495.2 110.3,495.4 110.5,495.6 110.7,495.8 110.9,496.0 111.1,496.2 111.3,496.4 111.5,496.6 111.6,496.8 111.8,497.0 112.0,497.3 112.2,497.5 112.4,497.8 112.6,498.0 112.7,498.2 112.9,498.4 113.1,498.6 113.2,498.9 113.4,499.2 113.6,499.4 113.7,499.6 113.8,499.8 114.0,500.2 114.1,500.4 114.2,500.6 114.4,501.0 114.5,501.2 114.6,501.5 114.7,501.8 114.8,502.2 114.8,502.4 114.9,502.8 115.0,503.2 115.0,503.4 115.1,503.8 115.1,504.2 115.2,504.4 115.2,504.8 115.3,505.2 115.3,505.6 115.3,506.0 115.3,506.4 115.4,506.8 115.4,507.2 115.4,507.6 115.4,508.0 115.3,508.4 115.3,508.8 115.3,509.2 115.3,509.6 115.3,510.0 115.3,510.4 115.3,510.8 115.2,511.2 115.2,511.6 115.2,511.9 115.2,512.2 115.2,512.6 115.1,513.0 115.1,513.4 115.1,513.8 115.0,514.2 115.0,514.6 115.0,515.0 115.0,515.4 115.0,515.6 115.0,515.8 115.0,516.0 115.0,516.4 114.9,516.8 114.9,517.2 114.8,517.6 114.8,517.9 114.7,518.2 114.7,518.6 114.6,518.9 114.5,519.2 114.4,519.6 114.4,519.8 114.3,520.2 114.2,520.5 114.1,520.8 114.0,521.2 114.0,521.4 113.9,521.8 113.8,522.0 113.7,522.4 113.6,522.7 113.5,523.0 113.4,523.4 113.4,523.6 113.3,524.0 113.2,524.3 113.1,524.6 113.0,525.0 112.9,525.2 112.8,525.6 112.7,525.8 112.6,526.1 112.5,526.4 112.4,526.6 112.2,527.0 112.1,527.2 112.0,527.5 111.8,527.8 111.7,528.0 111.6,528.2 111.4,528.5 111.2,528.8 111.1,529.0 111.0,529.2 110.8,529.4 110.6,529.7 110.4,530.0 110.2,530.2 110.1,530.4 109.9,530.6 109.8,530.8 109.6,531.0 109.4,531.2 109.2,531.4 109.0,531.7 108.8,531.9 108.6,532.1 108.4,532.2 108.2,532.4 108.0,532.6 107.7,532.8 107.5,533.0 107.2,533.2 107.0,533.3 106.8,533.5 106.5,533.6 106.2,533.8 106.0,533.9 105.8,534.0 105.4,534.2 105.2,534.3 104.9,534.4 104.6,534.5 104.4,534.6 104.0,534.8 103.8,534.9 103.5,535.0 103.2,535.1 103.0,535.2 102.6,535.3 102.4,535.4 102.0,535.5 101.8,535.6 101.4,535.7 101.0,535.8 100.8,535.8Z"/><path d="M100.6,534.6 100.2,534.7 99.8,534.7 99.4,534.7 99.0,534.7 98.6,534.7 98.2,534.6 98.0,534.6 97.6,534.5 97.2,534.4 97.0,534.4 96.6,534.3 96.4,534.2 96.0,534.1 95.8,534.0 95.4,533.8 95.2,533.7 95.0,533.6 94.6,533.4 94.4,533.3 94.2,533.1 94.0,533.0 93.7,532.8 93.5,532.6 93.3,532.4 93.0,532.2 92.8,532.0 92.6,531.8 92.5,531.6 92.3,531.4 92.1,531.2 92.0,531.0 91.8,530.8 91.6,530.5 91.4,530.2 91.2,530.0 91.1,529.8 91.0,529.6 90.8,529.4 90.6,529.0 90.4,528.8 90.3,528.6 90.2,528.4 90.0,528.1 89.9,527.8 89.8,527.6 89.6,527.3 89.5,527.0 89.4,526.8 89.2,526.4 89.1,526.2 89.0,525.8 88.9,525.6 88.8,525.2 88.7,525.0 88.6,524.6 88.6,524.4 88.4,524.0 88.4,523.8 88.3,523.4 88.2,523.0 88.2,522.8 88.1,522.4 88.0,522.0 88.0,521.8 87.9,521.4 87.8,521.0 87.8,520.8 87.7,520.4 87.7,520.0 87.6,519.6 87.6,519.2 87.6,519.0 87.5,518.6 87.5,518.2 87.5,517.8 87.5,517.4 87.4,517.0 87.4,516.6 87.4,516.4 87.4,516.0 87.4,515.6 87.4,515.2 87.4,514.8 87.4,514.4 87.4,514.0 87.4,513.7 87.4,513.4 87.5,513.0 87.5,512.6 87.6,512.2 87.6,512.0 87.6,511.6 87.7,511.2 87.8,510.8 87.8,510.6 87.9,510.2 88.0,509.8 88.0,509.6 88.1,509.2 88.2,508.9 88.3,508.6 88.3,508.2 88.4,507.8 88.5,507.6 88.6,507.3 88.7,507.0 88.8,506.6 88.9,506.4 89.0,506.0 89.0,505.8 89.2,505.5 89.3,505.2 89.4,504.9 89.5,504.6 89.7,504.4 89.8,504.0 90.0,503.8 90.1,503.6 90.2,503.3 90.4,503.0 90.4,502.8 90.6,502.6 90.8,502.2 90.9,502.0 91.0,501.8 91.2,501.5 91.4,501.2 91.5,501.0 91.7,500.8 91.8,500.6 92.0,500.4 92.2,500.1 92.4,499.9 92.6,499.7 92.8,499.4 93.0,499.3 93.2,499.1 93.4,498.9 93.6,498.7 93.8,498.6 94.1,498.4 94.3,498.2 94.6,498.0 94.8,497.9 95.0,497.8 95.4,497.6 95.6,497.4 95.8,497.3 96.0,497.2 96.4,497.0 96.6,497.0 97.0,496.8 97.2,496.7 97.6,496.6 97.8,496.6 98.2,496.5 98.6,496.4 98.9,496.4 99.2,496.3 99.6,496.3 99.9,496.2 100.2,496.1 100.6,496.1 100.9,496.0 101.2,495.9 101.6,495.9 101.9,495.8 102.2,495.7 102.6,495.7 103.0,495.6 103.4,495.6 103.8,495.6 104.2,495.6 104.6,495.6 105.0,495.7 105.4,495.7 105.8,495.8 106.0,495.8 106.4,495.9 106.7,496.0 107.0,496.1 107.2,496.2 107.6,496.4 107.8,496.5 108.0,496.6 108.2,496.8 108.5,497.0 108.8,497.2 109.0,497.4 109.2,497.5 109.4,497.7 109.6,497.9 109.8,498.1 110.0,498.3 110.2,498.5 110.4,498.7 110.6,498.9 110.8,499.1 111.0,499.3 111.2,499.5 111.4,499.8 111.6,500.0 111.8,500.2 111.9,500.4 112.1,500.6 112.2,500.8 112.4,501.2 112.6,501.4 112.6,501.6 112.8,501.9 112.9,502.2 113.0,502.4 113.2,502.8 113.2,503.0 113.4,503.4 113.4,503.6 113.6,504.0 113.6,504.2 113.7,504.6 113.8,504.8 113.9,505.2 114.0,505.6 114.0,505.8 114.1,506.2 114.1,506.6 114.1,507.0 114.2,507.2 114.3,507.6 114.3,508.0 114.3,508.4 114.3,508.8 114.3,509.2 114.3,509.6 114.3,510.0 114.4,510.4 114.3,510.8 114.3,511.2 114.3,511.6 114.3,512.0 114.3,512.4 114.2,512.8 114.2,513.2 114.2,513.6 114.2,513.8 114.2,514.0 114.2,514.2 114.2,514.6 114.2,515.0 114.2,515.4 114.2,515.8 114.1,516.2 114.1,516.6 114.1,517.0 114.1,517.4 114.0,517.8 114.0,518.0 113.9,518.4 113.9,518.8 113.8,519.2 113.8,519.4 113.7,519.8 113.6,520.2 113.5,520.4 113.5,520.8 113.4,521.0 113.3,521.4 113.2,521.8 113.2,522.0 113.1,522.4 113.0,522.7 112.9,523.0 112.8,523.4 112.8,523.6 112.7,524.0 112.6,524.2 112.5,524.6 112.4,524.9 112.3,525.2 112.2,525.5 112.1,525.8 112.0,526.0 111.8,526.4 111.7,526.6 111.6,526.9 111.4,527.2 111.3,527.4 111.2,527.6 111.0,528.0 110.9,528.2 110.7,528.4 110.6,528.6 110.4,528.9 110.2,529.1 110.0,529.4 109.8,529.6 109.7,529.8 109.5,530.0 109.3,530.2 109.1,530.4 108.9,530.6 108.7,530.8 108.5,531.0 108.3,531.2 108.0,531.4 107.8,531.6 107.6,531.7 107.4,531.9 107.2,532.0 106.9,532.2 106.6,532.4 106.4,532.5 106.2,532.6 105.9,532.8 105.6,533.0 105.4,533.1 105.1,533.2 104.8,533.3 104.6,533.4 104.2,533.6 104.0,533.7 103.6,533.8 103.4,533.9 103.1,534.0 102.8,534.1 102.4,534.2 102.2,534.3 101.8,534.4 101.6,534.4 101.2,534.5 100.8,534.6 100.6,534.6Z"/><path d="M255.4,538.0 255.0,538.0 254.6,538.1 254.2,538.1 253.8,538.1 253.4,538.1 253.0,538.1 252.6,538.0 252.3,538.0 252.0,538.0 251.6,537.9 251.2,537.8 251.0,537.8 250.6,537.7 250.2,537.6 250.0,537.5 249.6,537.4 249.4,537.4 249.0,537.2 248.8,537.2 248.4,537.0 248.2,536.9 247.9,536.8 247.6,536.7 247.4,536.6 247.0,536.4 246.8,536.3 246.6,536.2 246.2,536.0 246.0,535.9 245.8,535.8 245.5,535.6 245.2,535.4 245.0,535.3 244.8,535.1 244.6,535.0 244.3,534.8 244.0,534.6 243.8,534.5 243.6,534.3 243.4,534.1 243.2,534.0 243.0,533.8 242.7,533.6 242.5,533.4 242.3,533.2 242.1,533.0 241.9,532.8 241.7,532.6 241.5,532.4 241.3,532.2 241.1,532.0 240.9,531.8 240.8,531.6 240.6,531.4 240.4,531.1 240.2,530.9 240.0,530.6 239.9,530.4 239.8,530.2 239.6,530.0 239.4,529.7 239.3,529.4 239.1,529.2 239.0,529.0 238.8,528.6 238.7,528.4 238.6,528.2 238.4,527.8 238.3,527.6 238.2,527.4 238.0,527.0 237.9,526.8 237.8,526.5 237.7,526.2 237.6,526.0 237.4,525.6 237.3,525.4 237.2,525.0 237.1,524.8 237.0,524.4 236.9,524.2 236.8,523.8 236.7,523.6 236.6,523.2 236.6,523.0 236.5,522.6 236.4,522.3 236.3,522.0 236.3,521.6 236.2,521.3 236.2,521.0 236.1,520.6 236.0,520.2 236.0,519.9 236.0,519.6 235.9,519.2 235.9,518.8 235.9,518.4 235.9,518.0 235.9,517.6 235.8,517.2 235.8,516.8 235.8,516.4 235.8,516.0 235.8,515.6 235.8,515.2 235.8,514.8 235.8,514.4 235.8,514.0 235.8,513.6 235.8,513.2 235.8,512.8 235.9,512.4 235.9,512.0 235.9,511.6 235.9,511.2 236.0,510.8 236.0,510.5 236.0,510.2 236.1,509.8 236.1,509.4 236.2,509.0 236.2,508.7 236.3,508.4 236.3,508.0 236.4,507.6 236.4,507.4 236.5,507.0 236.6,506.6 236.6,506.4 236.7,506.0 236.8,505.6 236.8,505.4 236.9,505.0 237.0,504.6 237.0,504.4 237.1,504.0 237.2,503.6 237.3,503.4 237.3,503.0 237.4,502.8 237.5,502.4 237.6,502.0 237.6,501.8 237.7,501.4 237.8,501.2 237.9,500.8 238.0,500.4 238.0,500.2 238.2,499.8 238.2,499.6 238.4,499.2 238.4,499.0 238.5,498.6 238.6,498.4 238.8,498.0 238.8,497.8 239.0,497.5 239.1,497.2 239.2,497.0 239.4,496.7 239.5,496.4 239.6,496.2 239.8,495.9 239.9,495.6 240.1,495.4 240.2,495.2 240.4,494.9 240.6,494.6 240.8,494.4 240.9,494.2 241.0,494.0 241.2,493.8 241.4,493.6 241.6,493.3 241.8,493.1 242.0,492.8 242.2,492.6 242.4,492.4 242.6,492.2 242.8,492.0 243.0,491.8 243.2,491.6 243.4,491.4 243.6,491.2 243.8,491.0 244.0,490.8 244.2,490.7 244.4,490.4 244.6,490.3 244.8,490.1 245.0,489.9 245.2,489.7 245.4,489.5 245.6,489.3 245.8,489.1 246.0,488.9 246.3,488.8 246.5,488.6 246.7,488.4 246.9,488.2 247.1,488.0 247.3,487.8 247.5,487.6 247.7,487.4 247.9,487.2 248.2,487.0 248.3,486.8 248.4,486.6 248.7,486.4 248.9,486.2 249.1,486.0 249.3,485.8 249.6,485.6 249.7,485.4 250.0,485.2 250.1,485.0 250.3,484.8 250.5,484.6 250.8,484.4 251.0,484.2 251.1,484.0 251.3,483.8 251.6,483.6 251.8,483.4 252.0,483.2 252.1,483.0 252.4,482.9 252.6,482.7 252.8,482.4 253.0,482.4 253.2,482.2 253.4,481.9 253.7,481.8 253.9,481.6 254.2,481.5 254.4,481.2 254.6,481.0 254.8,481.0 255.0,480.8 255.2,480.6 255.6,480.4 255.8,480.4 256.0,480.2 256.4,480.0 256.6,479.8 256.9,479.8 257.1,479.6 257.4,479.5 257.6,479.4 258.0,479.2 258.2,479.1 258.6,479.0 258.9,479.0 259.2,478.9 259.5,478.8 259.8,478.8 260.2,478.7 260.6,478.7 261.0,478.6 261.4,478.6 261.8,478.7 262.2,478.7 262.6,478.8 262.8,478.8 263.2,478.9 263.4,479.0 263.8,479.1 264.0,479.2 264.4,479.4 264.6,479.4 264.9,479.6 265.2,479.8 265.4,479.9 265.6,480.1 265.9,480.2 266.1,480.4 266.4,480.6 266.6,480.8 266.8,481.0 267.0,481.2 267.1,481.4 267.4,481.6 267.6,481.8 267.7,482.0 267.9,482.2 268.0,482.4 268.2,482.7 268.4,482.8 268.6,483.1 268.8,483.4 268.9,483.6 269.1,483.8 269.2,484.0 269.4,484.4 269.5,484.6 269.6,484.8 269.8,485.1 269.9,485.4 270.0,485.7 270.2,485.8 270.2,486.0 270.3,486.2 270.4,486.4 270.6,486.8 270.7,487.0 270.8,487.2 270.8,487.4 271.0,487.6 271.0,487.6 271.0,487.9 271.2,488.2 271.3,488.4 271.3,488.8 271.4,489.0 271.6,489.3 271.6,489.6 271.8,490.0 271.9,490.2 272.0,490.4 272.0,490.6 272.1,490.8 272.2,491.2 272.3,491.4 272.4,491.6 272.6,492.0 272.6,492.3 272.8,492.6 272.8,492.9 273.0,493.2 273.0,493.4 273.2,493.8 273.2,494.0 273.4,494.4 273.4,494.6 273.6,494.9 273.7,495.2 273.8,495.6 273.9,495.8 274.0,496.0 274.2,496.4 274.3,496.6 274.4,496.9 274.6,497.2 274.6,497.4 274.8,497.8 274.9,498.0 275.0,498.2 275.2,498.6 275.3,498.8 275.4,499.2 275.5,499.4 275.6,499.6 275.8,500.0 275.9,500.2 276.0,500.5 276.1,500.8 276.2,501.0 276.3,501.4 276.4,501.6 276.6,502.0 276.6,502.2 276.7,502.6 276.8,502.9 276.9,503.2 277.0,503.6 277.0,503.8 277.1,504.2 277.2,504.6 277.2,504.8 277.3,505.2 277.3,505.6 277.3,506.0 277.4,506.2 277.4,506.6 277.4,506.8 277.4,507.2 277.5,507.4 277.4,507.8 277.4,508.2 277.4,508.6 277.4,508.9 277.4,509.0 277.4,509.4 277.4,509.8 277.4,510.0 277.4,510.4 277.3,510.8 277.3,511.2 277.3,511.6 277.2,512.0 277.2,512.3 277.2,512.6 277.1,513.0 277.1,513.4 277.1,513.8 277.0,514.2 277.0,514.4 276.9,514.8 276.9,515.2 276.8,515.6 276.8,515.8 276.7,516.2 276.6,516.6 276.6,516.8 276.5,517.2 276.4,517.5 276.3,517.8 276.2,518.2 276.2,518.4 276.0,518.8 276.0,519.0 275.8,519.4 275.7,519.6 275.6,520.0 275.5,520.2 275.4,520.4 275.2,520.8 275.1,521.0 275.0,521.2 274.8,521.6 274.8,521.8 274.6,522.1 274.4,522.4 274.3,522.6 274.2,522.8 274.0,523.2 273.9,523.4 273.8,523.6 273.6,523.9 273.5,524.2 273.3,524.4 273.2,524.6 273.0,525.0 272.9,525.2 272.8,525.4 272.6,525.7 272.4,526.0 272.3,526.2 272.1,526.4 272.0,526.6 271.8,526.9 271.6,527.2 271.5,527.4 271.4,527.6 271.2,527.8 271.0,528.1 270.8,528.4 270.6,528.6 270.5,528.8 270.3,529.0 270.2,529.2 270.0,529.4 269.8,529.6 269.6,529.9 269.4,530.1 269.2,530.3 269.0,530.6 268.8,530.8 268.6,531.0 268.4,531.2 268.2,531.4 268.0,531.6 267.8,531.8 267.6,532.0 267.4,532.2 267.2,532.4 267.0,532.6 266.8,532.7 266.6,532.9 266.4,533.1 266.2,533.2 266.0,533.4 265.8,533.6 265.5,533.8 265.3,534.0 265.0,534.2 264.8,534.3 264.6,534.5 264.4,534.6 264.1,534.8 263.8,535.0 263.6,535.1 263.4,535.3 263.2,535.4 262.8,535.6 262.6,535.7 262.4,535.8 262.1,536.0 261.8,536.1 261.6,536.2 261.2,536.4 261.0,536.5 260.8,536.6 260.4,536.7 260.2,536.8 259.8,537.0 259.6,537.0 259.2,537.2 259.0,537.2 258.6,537.4 258.4,537.4 258.0,537.5 257.8,537.6 257.4,537.7 257.0,537.8 256.8,537.8 256.4,537.9 256.0,537.9 255.6,538.0 255.4,538.0Z"/><path d="M255.4,536.8 255.0,536.9 254.6,536.9 254.2,536.9 253.8,536.9 253.4,536.9 253.0,536.9 252.6,536.8 252.3,536.8 252.0,536.8 251.6,536.7 251.2,536.6 251.0,536.6 250.6,536.5 250.3,536.4 250.0,536.3 249.6,536.2 249.4,536.1 249.1,536.0 248.8,535.9 248.5,535.8 248.2,535.7 248.0,535.6 247.6,535.4 247.4,535.3 247.2,535.2 246.8,535.0 246.6,534.9 246.4,534.8 246.1,534.6 245.8,534.4 245.6,534.3 245.4,534.2 245.2,534.0 244.9,533.8 244.6,533.6 244.4,533.5 244.2,533.3 244.0,533.1 243.8,533.0 243.6,532.8 243.3,532.6 243.1,532.4 242.9,532.2 242.7,532.0 242.5,531.8 242.3,531.6 242.1,531.4 241.9,531.2 241.8,531.0 241.6,530.8 241.4,530.5 241.2,530.3 241.0,530.0 240.8,529.8 240.7,529.6 240.6,529.4 240.4,529.1 240.2,528.8 240.1,528.6 240.0,528.4 239.8,528.1 239.6,527.8 239.5,527.6 239.4,527.4 239.2,527.0 239.1,526.8 239.0,526.5 238.8,526.2 238.8,526.0 238.6,525.6 238.5,525.4 238.4,525.1 238.3,524.8 238.2,524.6 238.1,524.2 238.0,524.0 237.9,523.6 237.8,523.4 237.7,523.0 237.6,522.7 237.5,522.4 237.4,522.0 237.4,521.8 237.3,521.4 237.2,521.0 237.2,520.8 237.1,520.4 237.1,520.0 237.0,519.6 237.0,519.2 237.0,519.0 237.0,518.6 236.9,518.2 236.9,517.8 236.9,517.4 236.9,517.0 236.9,516.6 236.9,516.2 236.9,515.8 236.8,515.4 236.9,515.0 236.8,514.6 236.9,514.2 236.9,513.8 236.9,513.4 236.9,513.0 236.9,512.6 236.9,512.2 237.0,511.8 237.0,511.5 237.0,511.2 237.0,510.8 237.1,510.4 237.1,510.0 237.2,509.6 237.2,509.4 237.3,509.0 237.3,508.6 237.4,508.3 237.5,508.0 237.5,507.6 237.6,507.2 237.6,507.0 237.7,506.6 237.8,506.2 237.8,506.0 237.9,505.6 238.0,505.3 238.1,505.0 238.2,504.6 238.2,504.4 238.3,504.0 238.4,503.6 238.4,503.4 238.6,503.0 238.6,502.8 238.7,502.4 238.8,502.1 238.9,501.8 239.0,501.4 239.1,501.2 239.2,500.8 239.3,500.6 239.4,500.3 239.5,500.0 239.6,499.7 239.7,499.4 239.8,499.2 240.0,498.8 240.1,498.6 240.2,498.3 240.4,498.0 240.5,497.8 240.6,497.5 240.8,497.2 240.9,497.0 241.1,496.8 241.2,496.6 241.4,496.3 241.6,496.0 241.7,495.8 241.9,495.6 242.0,495.4 242.2,495.2 242.4,494.9 242.6,494.7 242.8,494.5 243.0,494.2 243.2,494.0 243.4,493.8 243.6,493.6 243.8,493.4 244.0,493.2 244.2,493.0 244.4,492.8 244.6,492.6 244.8,492.4 245.0,492.3 245.2,492.1 245.4,491.9 245.6,491.7 245.8,491.5 246.0,491.3 246.2,491.2 246.4,491.0 246.6,490.7 246.8,490.5 247.0,490.4 247.2,490.2 247.4,490.0 247.6,489.8 247.8,489.6 248.0,489.4 248.3,489.2 248.5,489.0 248.7,488.8 248.9,488.6 249.1,488.4 249.3,488.2 249.5,488.0 249.7,487.8 249.9,487.6 250.2,487.4 250.4,487.2 250.6,487.0 250.8,486.8 251.0,486.6 251.1,486.4 251.3,486.2 251.6,486.1 251.8,485.8 252.0,485.6 252.2,485.4 252.4,485.3 252.6,485.2 252.8,485.0 253.0,484.8 253.3,484.6 253.5,484.4 253.7,484.2 254.0,484.1 254.2,483.9 254.4,483.7 254.7,483.6 254.9,483.4 255.2,483.3 255.4,483.1 255.6,483.0 256.0,482.8 256.2,482.6 256.4,482.6 256.7,482.4 257.0,482.3 257.2,482.2 257.6,482.1 257.8,482.0 258.2,481.9 258.4,481.8 258.8,481.7 259.2,481.6 259.4,481.6 259.8,481.5 260.2,481.5 260.6,481.5 261.0,481.5 261.4,481.6 261.7,481.6 262.0,481.7 262.4,481.8 262.6,481.8 263.0,482.0 263.2,482.0 263.6,482.2 263.8,482.3 264.0,482.4 264.3,482.6 264.6,482.8 264.8,483.0 265.0,483.1 265.2,483.2 265.4,483.4 265.6,483.6 265.8,483.8 266.0,484.0 266.2,484.2 266.4,484.4 266.6,484.7 266.8,484.9 267.0,485.2 267.2,485.4 267.3,485.6 267.5,485.8 267.6,486.1 267.8,486.4 267.9,486.6 268.1,486.8 268.2,487.0 268.4,487.4 268.5,487.6 268.7,487.8 268.8,488.1 269.0,488.4 269.0,488.6 269.2,489.0 269.3,489.2 269.4,489.4 269.5,489.8 269.6,490.0 269.8,490.4 269.8,490.6 270.0,491.0 270.1,491.2 270.2,491.4 270.3,491.8 270.4,492.0 270.5,492.4 270.6,492.6 270.7,493.0 270.8,493.2 270.9,493.6 271.0,493.8 271.1,494.2 271.2,494.4 271.3,494.8 271.4,495.0 271.6,495.4 271.7,495.6 271.8,496.0 271.8,496.2 272.0,496.5 272.1,496.8 272.2,497.1 272.3,497.4 272.4,497.6 272.6,498.0 272.6,498.2 272.8,498.6 272.9,498.8 273.0,499.1 273.1,499.4 273.2,499.6 273.4,500.0 273.5,500.2 273.6,500.5 273.7,500.8 273.8,501.0 273.9,501.4 274.0,501.6 274.2,502.0 274.3,502.2 274.4,502.6 274.4,502.8 274.6,503.2 274.6,503.4 274.7,503.8 274.8,504.1 274.9,504.4 275.0,504.8 275.0,505.0 275.1,505.4 275.1,505.8 275.2,506.2 275.2,506.4 275.3,506.8 275.3,507.2 275.3,507.6 275.3,508.0 275.3,508.4 275.3,508.8 275.3,509.2 275.3,509.6 275.3,510.0 275.3,510.4 275.3,510.8 275.3,511.2 275.2,511.6 275.2,512.0 275.2,512.3 275.2,512.6 275.2,513.0 275.1,513.4 275.1,513.8 275.0,514.2 275.0,514.4 274.9,514.8 274.9,515.2 274.8,515.6 274.8,515.8 274.7,516.2 274.6,516.6 274.6,516.8 274.5,517.2 274.4,517.5 274.3,517.8 274.2,518.2 274.1,518.4 274.0,518.8 274.0,519.0 273.8,519.4 273.7,519.6 273.6,519.9 273.5,520.2 273.4,520.4 273.2,520.8 273.2,521.0 273.0,521.3 272.9,521.6 272.8,521.8 272.6,522.2 272.5,522.4 272.4,522.6 272.2,523.0 272.1,523.2 272.0,523.4 271.8,523.8 271.7,524.0 271.6,524.2 271.4,524.5 271.2,524.8 271.1,525.0 271.0,525.2 270.8,525.5 270.6,525.8 270.5,526.0 270.4,526.2 270.2,526.5 270.0,526.8 269.9,527.0 269.7,527.2 269.6,527.4 269.4,527.7 269.2,527.9 269.0,528.2 268.9,528.4 268.7,528.6 268.5,528.8 268.4,529.0 268.2,529.2 268.0,529.5 267.8,529.7 267.6,529.9 267.4,530.2 267.2,530.4 267.0,530.6 266.8,530.8 266.6,531.0 266.4,531.2 266.2,531.4 266.0,531.6 265.8,531.8 265.6,532.0 265.4,532.2 265.2,532.3 265.0,532.5 264.8,532.7 264.6,532.8 264.4,533.0 264.2,533.2 263.9,533.4 263.6,533.6 263.4,533.8 263.2,533.9 263.0,534.0 262.7,534.2 262.4,534.4 262.2,534.5 262.0,534.6 261.7,534.8 261.4,535.0 261.2,535.1 260.9,535.2 260.6,535.4 260.4,535.4 260.1,535.6 259.8,535.7 259.6,535.8 259.2,535.9 259.0,536.0 258.6,536.1 258.4,536.2 258.0,536.3 257.7,536.4 257.4,536.5 257.0,536.6 256.8,536.6 256.4,536.7 256.0,536.7 255.6,536.8 255.4,536.8Z"/><path d="M256.4,535.4 256.0,535.5 255.6,535.5 255.2,535.6 254.8,535.6 254.4,535.6 254.0,535.6 253.6,535.6 253.2,535.6 252.8,535.6 252.4,535.5 252.0,535.5 251.6,535.4 251.4,535.4 251.0,535.3 250.6,535.2 250.4,535.2 250.0,535.1 249.7,535.0 249.4,534.9 249.1,534.8 248.8,534.7 248.6,534.6 248.2,534.4 248.0,534.3 247.7,534.2 247.4,534.0 247.2,533.9 247.0,533.8 246.6,533.6 246.4,533.5 246.2,533.3 246.0,533.2 245.7,533.0 245.4,532.8 245.2,532.6 245.0,532.5 244.8,532.3 244.6,532.1 244.4,532.0 244.2,531.8 244.0,531.6 243.8,531.4 243.6,531.2 243.4,531.0 243.2,530.8 243.0,530.6 242.8,530.4 242.6,530.1 242.4,529.9 242.2,529.6 242.0,529.4 241.9,529.2 241.7,529.0 241.6,528.8 241.4,528.5 241.2,528.2 241.1,528.0 241.0,527.8 240.8,527.5 240.7,527.2 240.6,527.0 240.4,526.7 240.3,526.4 240.2,526.2 240.0,525.9 239.9,525.6 239.8,525.4 239.6,525.1 239.5,524.8 239.4,524.6 239.2,524.2 239.1,524.0 239.0,523.6 238.9,523.4 238.8,523.1 238.7,522.8 238.6,522.5 238.5,522.2 238.4,521.8 238.4,521.6 238.3,521.2 238.2,520.8 238.2,520.6 238.1,520.2 238.1,519.8 238.0,519.4 238.0,519.2 237.9,518.8 237.9,518.4 237.9,518.0 237.9,517.6 237.8,517.2 237.8,516.8 237.8,516.4 237.8,516.0 237.8,515.6 237.8,515.2 237.8,514.8 237.9,514.4 237.9,514.0 237.9,513.6 237.9,513.2 237.9,512.8 238.0,512.4 238.0,512.0 238.0,511.8 238.0,511.4 238.1,511.0 238.1,510.6 238.1,510.2 238.2,509.8 238.2,509.6 238.3,509.2 238.3,508.8 238.4,508.4 238.4,508.2 238.5,507.8 238.6,507.4 238.6,507.2 238.7,506.8 238.8,506.5 238.9,506.2 239.0,505.8 239.0,505.6 239.1,505.2 239.2,504.9 239.3,504.6 239.4,504.2 239.5,504.0 239.6,503.6 239.6,503.4 239.8,503.0 239.8,502.8 240.0,502.4 240.1,502.2 240.2,501.8 240.3,501.6 240.4,501.3 240.5,501.0 240.6,500.8 240.8,500.4 240.9,500.2 241.0,500.0 241.2,499.6 241.3,499.4 241.4,499.2 241.6,498.9 241.8,498.6 241.9,498.4 242.0,498.2 242.2,497.9 242.4,497.6 242.6,497.4 242.7,497.2 242.8,497.0 243.0,496.8 243.2,496.5 243.4,496.3 243.6,496.0 243.8,495.8 244.0,495.6 244.1,495.4 244.3,495.2 244.5,495.0 244.7,494.8 244.9,494.6 245.1,494.4 245.3,494.2 245.5,494.0 245.7,493.8 246.0,493.6 246.2,493.4 246.4,493.2 246.6,493.1 246.8,492.9 247.0,492.7 247.2,492.5 247.4,492.4 247.6,492.2 247.8,492.0 248.1,491.8 248.3,491.6 248.5,491.4 248.7,491.2 249.0,491.0 249.2,490.8 249.4,490.6 249.6,490.4 249.8,490.2 250.0,490.1 250.2,489.9 250.4,489.7 250.6,489.5 250.8,489.3 251.0,489.1 251.2,488.9 251.4,488.8 251.6,488.6 251.8,488.4 252.0,488.2 252.2,488.0 252.4,487.8 252.6,487.6 252.8,487.4 253.0,487.2 253.2,487.0 253.4,486.8 253.7,486.6 253.9,486.4 254.2,486.2 254.4,486.1 254.6,485.9 254.8,485.8 255.1,485.6 255.4,485.4 255.6,485.3 255.8,485.2 256.2,485.0 256.4,485.0 256.8,484.8 257.0,484.7 257.4,484.6 257.6,484.5 258.0,484.4 258.2,484.4 258.6,484.3 259.0,484.3 259.4,484.2 259.8,484.2 260.2,484.2 260.6,484.3 261.0,484.3 261.3,484.4 261.6,484.5 261.9,484.6 262.2,484.7 262.4,484.8 262.8,485.0 263.0,485.1 263.2,485.3 263.4,485.4 263.7,485.6 263.9,485.8 264.1,486.0 264.3,486.2 264.5,486.4 264.7,486.6 264.9,486.8 265.1,487.0 265.3,487.2 265.5,487.4 265.6,487.6 265.8,487.8 266.0,488.1 266.2,488.3 266.4,488.6 266.5,488.8 266.7,489.0 266.8,489.2 267.0,489.5 267.2,489.8 267.3,490.0 267.4,490.2 267.6,490.6 267.7,490.8 267.8,491.0 268.0,491.4 268.1,491.6 268.2,491.9 268.3,492.2 268.4,492.4 268.6,492.8 268.7,493.0 268.8,493.3 268.9,493.6 269.0,493.9 269.1,494.2 269.2,494.4 269.3,494.8 269.4,495.0 269.6,495.4 269.7,495.6 269.8,496.0 269.9,496.2 270.0,496.5 270.1,496.8 270.2,497.0 270.4,497.4 270.5,497.6 270.6,497.9 270.7,498.2 270.8,498.4 271.0,498.8 271.0,499.0 271.2,499.4 271.3,499.6 271.4,499.9 271.5,500.2 271.6,500.4 271.8,500.8 271.8,501.0 271.9,501.4 272.0,501.6 272.1,502.0 272.2,502.4 272.2,502.6 272.3,503.0 272.4,503.4 272.4,503.6 272.5,504.0 272.6,504.4 272.6,504.6 272.7,505.0 272.8,505.3 272.9,505.6 273.0,506.0 273.0,506.2 273.1,506.6 273.1,507.0 273.2,507.3 273.2,507.6 273.3,508.0 273.3,508.4 273.4,508.8 273.4,509.2 273.4,509.6 273.4,510.0 273.4,510.4 273.4,510.8 273.4,511.2 273.3,511.6 273.3,512.0 273.3,512.4 273.3,512.8 273.2,513.2 273.2,513.5 273.2,513.8 273.1,514.2 273.1,514.6 273.0,515.0 273.0,515.2 272.9,515.6 272.9,516.0 272.8,516.3 272.7,516.6 272.6,517.0 272.6,517.2 272.5,517.6 272.4,517.9 272.3,518.2 272.2,518.5 272.1,518.8 272.0,519.0 271.9,519.4 271.8,519.6 271.6,520.0 271.6,520.2 271.4,520.6 271.3,520.8 271.2,521.1 271.1,521.4 271.0,521.6 270.8,522.0 270.7,522.2 270.6,522.4 270.4,522.8 270.3,523.0 270.2,523.3 270.0,523.6 269.9,523.8 269.8,524.0 269.6,524.4 269.5,524.6 269.4,524.8 269.2,525.1 269.0,525.4 268.9,525.6 268.8,525.8 268.6,526.1 268.4,526.4 268.3,526.6 268.2,526.8 268.0,527.1 267.8,527.4 267.6,527.6 267.5,527.8 267.4,528.0 267.2,528.2 267.0,528.5 266.8,528.7 266.6,529.0 266.4,529.2 266.3,529.4 266.1,529.6 265.9,529.8 265.8,530.0 265.6,530.2 265.4,530.4 265.2,530.6 265.0,530.8 264.8,531.0 264.6,531.2 264.3,531.4 264.1,531.6 263.9,531.8 263.7,532.0 263.4,532.2 263.2,532.4 263.0,532.5 262.8,532.7 262.6,532.9 262.4,533.0 262.1,533.2 261.8,533.4 261.6,533.5 261.4,533.6 261.1,533.8 260.8,534.0 260.6,534.1 260.3,534.2 260.0,534.3 259.8,534.4 259.4,534.5 259.2,534.6 258.8,534.8 258.6,534.8 258.2,535.0 258.0,535.0 257.6,535.1 257.4,535.2 257.0,535.3 256.6,535.4 256.4,535.4Z"/><path d="M315.0,525.6 314.6,525.7 314.2,525.7 313.8,525.7 313.4,525.7 313.2,525.6 312.8,525.5 312.6,525.4 312.2,525.3 312.0,525.1 311.7,525.0 311.4,524.8 311.2,524.7 311.0,524.6 310.8,524.4 310.5,524.2 310.2,524.0 310.0,523.8 309.8,523.7 309.6,523.5 309.4,523.3 309.2,523.2 309.0,522.9 308.8,522.8 308.6,522.6 308.4,522.4 308.2,522.2 308.0,522.0 307.8,521.8 307.6,521.6 307.4,521.4 307.2,521.2 307.0,521.0 306.7,520.8 306.5,520.6 306.3,520.4 306.0,520.2 305.8,520.0 305.6,519.9 305.4,519.7 305.2,519.5 305.0,519.4 304.8,519.2 304.5,519.0 304.3,518.8 304.0,518.6 303.8,518.4 303.6,518.3 303.4,518.1 303.2,517.9 303.0,517.7 302.8,517.5 302.6,517.3 302.4,517.1 302.2,516.8 302.1,516.6 301.9,516.4 301.8,516.2 301.6,515.9 301.4,515.6 301.3,515.4 301.2,515.1 301.1,514.8 301.0,514.6 300.8,514.2 300.7,514.0 300.6,513.8 300.4,513.4 300.3,513.2 300.2,513.0 300.0,512.6 299.9,512.4 299.8,512.2 299.6,511.9 299.4,511.6 299.3,511.4 299.2,511.2 299.0,510.8 298.9,510.6 298.8,510.3 298.7,510.0 298.6,509.7 298.5,509.4 298.4,509.0 298.4,508.8 298.3,508.4 298.3,508.0 298.2,507.6 298.2,507.4 298.2,507.0 298.2,506.6 298.2,506.2 298.2,505.8 298.2,505.6 298.3,505.2 298.3,504.8 298.4,504.4 298.4,504.2 298.5,503.8 298.6,503.4 298.7,503.2 298.8,502.8 298.9,502.6 299.0,502.4 299.2,502.0 299.3,501.8 299.4,501.5 299.6,501.2 299.7,501.0 299.8,500.8 300.0,500.4 300.1,500.2 300.2,500.0 300.4,499.6 300.5,499.4 300.6,499.1 300.7,498.8 300.8,498.6 301.0,498.2 301.1,498.0 301.2,497.8 301.4,497.4 301.5,497.2 301.6,497.0 301.8,496.6 301.9,496.4 302.1,496.2 302.2,496.0 302.4,495.7 302.6,495.4 302.7,495.2 302.9,495.0 303.0,494.8 303.2,494.6 303.4,494.4 303.6,494.1 303.8,493.9 304.0,493.7 304.2,493.5 304.4,493.4 304.6,493.2 304.9,493.0 305.1,492.8 305.4,492.6 305.6,492.5 305.8,492.4 306.2,492.2 306.4,492.1 306.7,492.0 307.0,491.9 307.2,491.8 307.6,491.7 307.9,491.6 308.2,491.5 308.6,491.4 308.8,491.4 309.2,491.3 309.6,491.2 309.8,491.2 310.2,491.1 310.6,491.1 311.0,491.0 311.4,491.0 311.8,491.0 312.2,491.0 312.6,491.0 312.8,491.0 313.2,491.0 313.6,491.0 314.0,491.0 314.4,490.9 314.8,490.9 315.2,490.9 315.6,490.9 316.0,490.9 316.4,491.0 316.7,491.0 317.0,491.0 317.4,491.1 317.8,491.2 318.0,491.2 318.4,491.3 318.8,491.4 319.0,491.5 319.3,491.6 319.6,491.8 319.8,491.9 320.0,492.0 320.3,492.2 320.6,492.4 320.8,492.6 321.0,492.7 321.2,492.9 321.4,493.1 321.6,493.3 321.8,493.5 322.0,493.7 322.2,494.0 322.4,494.2 322.6,494.4 322.8,494.6 323.0,494.8 323.1,495.0 323.3,495.2 323.5,495.4 323.6,495.6 323.8,495.8 324.0,496.1 324.2,496.4 324.3,496.6 324.4,496.8 324.6,497.2 324.7,497.4 324.8,497.7 324.9,498.0 325.0,498.3 325.1,498.6 325.1,499.0 325.2,499.4 325.2,499.6 325.3,500.0 325.3,500.4 325.4,500.8 325.4,501.0 325.5,501.4 325.5,501.8 325.6,502.1 325.6,502.4 325.7,502.8 325.8,503.2 325.8,503.4 325.9,503.8 325.9,504.2 326.0,504.6 326.0,504.8 326.0,505.2 326.0,505.6 326.0,506.0 326.0,506.4 326.0,506.6 325.9,507.0 325.9,507.4 325.8,507.8 325.8,508.0 325.7,508.4 325.6,508.7 325.5,509.0 325.4,509.4 325.4,509.6 325.3,510.0 325.2,510.4 325.1,510.6 325.0,511.0 325.0,511.2 324.9,511.6 324.8,512.0 324.8,512.2 324.7,512.6 324.6,512.9 324.5,513.2 324.4,513.6 324.3,513.8 324.2,514.2 324.2,514.4 324.1,514.8 324.0,515.0 323.8,515.4 323.7,515.6 323.6,515.9 323.4,516.2 323.3,516.4 323.2,516.6 323.0,516.9 322.8,517.2 322.7,517.4 322.5,517.6 322.4,517.8 322.2,518.0 322.0,518.3 321.8,518.5 321.6,518.8 321.5,519.0 321.3,519.2 321.2,519.4 321.0,519.7 320.8,519.9 320.6,520.2 320.5,520.4 320.3,520.6 320.2,520.8 320.0,521.2 319.9,521.4 319.7,521.6 319.6,521.8 319.4,522.2 319.3,522.4 319.2,522.6 319.0,522.8 318.8,523.2 318.6,523.4 318.5,523.6 318.3,523.8 318.1,524.0 317.9,524.2 317.6,524.4 317.4,524.6 317.2,524.7 317.0,524.8 316.7,525.0 316.4,525.1 316.2,525.3 315.8,525.4 315.6,525.5 315.2,525.6 315.0,525.6Z"/><path d="M314.0,521.0 313.6,521.1 313.2,521.1 312.8,521.1 312.4,521.0 312.0,521.0 311.8,521.0 311.4,520.9 311.1,520.8 310.8,520.7 310.6,520.6 310.2,520.4 310.0,520.3 309.8,520.2 309.4,520.0 309.2,519.8 309.0,519.7 308.8,519.5 308.6,519.4 308.4,519.2 308.2,519.0 307.9,518.8 307.7,518.6 307.5,518.4 307.3,518.2 307.2,518.0 307.0,517.8 306.8,517.6 306.6,517.4 306.4,517.1 306.2,516.9 306.0,516.6 305.8,516.4 305.7,516.2 305.5,516.0 305.4,515.8 305.2,515.6 305.0,515.3 304.8,515.1 304.6,514.8 304.5,514.6 304.3,514.4 304.2,514.2 304.0,513.9 303.8,513.6 303.7,513.4 303.6,513.2 303.4,512.9 303.2,512.6 303.1,512.4 303.0,512.2 302.8,511.9 302.6,511.6 302.5,511.4 302.4,511.2 302.2,510.8 302.1,510.6 302.0,510.4 301.8,510.0 301.7,509.8 301.6,509.6 301.5,509.2 301.4,509.0 301.3,508.6 301.2,508.3 301.1,508.0 301.1,507.6 301.0,507.2 301.0,507.0 301.0,506.6 301.0,506.2 301.0,505.8 301.0,505.6 301.0,505.2 301.1,504.8 301.2,504.4 301.3,504.2 301.4,503.8 301.5,503.6 301.6,503.2 301.7,503.0 301.8,502.8 302.0,502.4 302.1,502.2 302.2,502.0 302.4,501.6 302.5,501.4 302.6,501.2 302.8,500.9 302.9,500.6 303.0,500.4 303.2,500.1 303.4,499.8 303.5,499.6 303.6,499.3 303.8,499.0 303.9,498.8 304.0,498.6 304.2,498.2 304.3,498.0 304.4,497.8 304.6,497.5 304.8,497.2 304.9,497.0 305.1,496.8 305.2,496.6 305.4,496.4 305.6,496.2 305.8,496.0 306.0,495.8 306.2,495.6 306.5,495.4 306.8,495.2 307.0,495.1 307.2,495.0 307.6,494.8 307.8,494.7 308.2,494.6 308.4,494.6 308.8,494.5 309.1,494.4 309.4,494.4 309.8,494.3 310.2,494.3 310.6,494.3 311.0,494.3 311.4,494.3 311.8,494.4 312.2,494.4 312.4,494.4 312.8,494.4 313.2,494.5 313.6,494.5 314.0,494.5 314.4,494.5 314.8,494.6 315.2,494.6 315.6,494.6 315.8,494.6 316.2,494.6 316.6,494.7 317.0,494.7 317.3,494.8 317.6,494.9 318.0,495.0 318.2,495.0 318.6,495.2 318.8,495.2 319.2,495.4 319.4,495.5 319.6,495.6 319.9,495.8 320.2,496.0 320.4,496.1 320.6,496.3 320.8,496.4 321.0,496.6 321.2,496.8 321.4,497.0 321.6,497.3 321.8,497.5 322.0,497.8 322.1,498.0 322.2,498.2 322.4,498.6 322.5,498.8 322.6,499.1 322.7,499.4 322.8,499.7 322.9,500.0 323.0,500.4 323.0,500.6 323.2,501.0 323.2,501.2 323.3,501.6 323.4,501.8 323.5,502.2 323.6,502.6 323.7,502.8 323.8,503.2 323.8,503.4 323.9,503.8 324.0,504.2 324.0,504.4 324.1,504.8 324.1,505.2 324.2,505.6 324.2,506.0 324.2,506.4 324.1,506.8 324.1,507.2 324.1,507.6 324.0,507.9 323.9,508.2 323.8,508.6 323.8,508.8 323.7,509.2 323.6,509.5 323.5,509.8 323.4,510.2 323.3,510.4 323.2,510.8 323.1,511.0 323.0,511.4 322.9,511.6 322.8,511.9 322.7,512.2 322.6,512.4 322.4,512.8 322.4,513.0 322.2,513.3 322.1,513.6 321.9,513.8 321.8,514.0 321.6,514.4 321.4,514.6 321.3,514.8 321.1,515.0 321.0,515.2 320.8,515.5 320.6,515.7 320.4,516.0 320.3,516.2 320.1,516.4 320.0,516.6 319.8,516.9 319.6,517.1 319.4,517.4 319.2,517.6 319.1,517.8 319.0,518.0 318.8,518.2 318.6,518.4 318.4,518.7 318.2,518.9 318.0,519.1 317.8,519.3 317.6,519.5 317.4,519.6 317.2,519.8 316.9,520.0 316.6,520.2 316.4,520.3 316.2,520.4 315.8,520.6 315.6,520.7 315.2,520.8 315.0,520.9 314.6,520.9 314.2,521.0 314.0,521.0Z"/><path d="M313.2,517.8 312.8,517.8 312.4,517.8 312.2,517.8 311.8,517.7 311.4,517.6 311.2,517.6 310.8,517.4 310.6,517.4 310.3,517.2 310.0,517.0 309.8,516.9 309.6,516.7 309.4,516.6 309.2,516.4 309.0,516.2 308.8,515.9 308.6,515.7 308.4,515.4 308.2,515.2 308.1,515.0 307.9,514.8 307.8,514.6 307.6,514.2 307.5,514.0 307.3,513.8 307.2,513.6 307.0,513.3 306.8,513.0 306.7,512.8 306.5,512.6 306.4,512.4 306.2,512.1 306.0,511.8 305.8,511.6 305.7,511.4 305.6,511.2 305.4,510.9 305.2,510.6 305.1,510.4 305.0,510.2 304.8,509.9 304.6,509.6 304.5,509.4 304.4,509.1 304.3,508.8 304.2,508.6 304.1,508.2 304.0,508.0 303.9,507.6 303.8,507.2 303.8,507.0 303.8,506.6 303.8,506.2 303.8,505.8 303.8,505.5 303.8,505.2 303.9,504.8 304.0,504.6 304.1,504.2 304.2,504.0 304.4,503.6 304.5,503.4 304.6,503.2 304.8,502.8 304.9,502.6 305.1,502.4 305.2,502.2 305.4,501.9 305.6,501.6 305.7,501.4 305.8,501.2 306.0,501.0 306.2,500.7 306.4,500.4 306.6,500.2 306.8,500.0 307.0,499.8 307.2,499.6 307.4,499.4 307.6,499.2 307.8,499.1 308.0,498.9 308.2,498.8 308.4,498.6 308.8,498.4 309.0,498.3 309.2,498.2 309.6,498.0 309.8,498.0 310.2,497.8 310.4,497.8 310.8,497.7 311.2,497.6 311.4,497.6 311.8,497.5 312.2,497.5 312.6,497.4 313.0,497.4 313.2,497.4 313.6,497.3 314.0,497.3 314.4,497.3 314.8,497.4 315.0,497.4 315.4,497.5 315.8,497.5 316.0,497.6 316.4,497.7 316.6,497.8 317.0,497.9 317.2,498.0 317.6,498.2 317.8,498.3 318.0,498.4 318.3,498.6 318.6,498.8 318.8,498.9 319.0,499.1 319.2,499.2 319.4,499.4 319.6,499.6 319.8,499.8 320.0,500.0 320.2,500.3 320.4,500.5 320.6,500.8 320.7,501.0 320.8,501.2 321.0,501.6 321.1,501.8 321.2,502.0 321.4,502.4 321.5,502.6 321.6,503.0 321.7,503.2 321.8,503.6 321.9,503.8 322.0,504.2 322.0,504.4 322.1,504.8 322.2,505.2 322.2,505.4 322.3,505.8 322.3,506.2 322.3,506.6 322.3,507.0 322.3,507.4 322.2,507.8 322.2,508.0 322.1,508.4 322.0,508.7 321.9,509.0 321.8,509.3 321.7,509.6 321.6,509.8 321.4,510.1 321.2,510.4 321.1,510.6 321.0,510.8 320.8,511.1 320.6,511.4 320.4,511.6 320.3,511.8 320.1,512.0 319.9,512.2 319.8,512.4 319.6,512.6 319.4,512.8 319.2,513.0 319.0,513.2 318.8,513.5 318.6,513.7 318.4,513.9 318.2,514.2 318.0,514.4 317.9,514.6 317.7,514.8 317.6,515.0 317.4,515.2 317.2,515.5 317.0,515.7 316.8,516.0 316.6,516.2 316.4,516.4 316.2,516.6 316.0,516.8 315.8,517.0 315.6,517.1 315.4,517.2 315.0,517.4 314.8,517.5 314.5,517.6 314.2,517.7 313.8,517.8 313.4,517.8 313.2,517.8Z"/></g><g fill="none" stroke="#000" stroke-width="0.85" stroke-linejoin="round" style="filter:blur(0.35px)"><path d="M100.6,534.0 100.2,534.0 99.8,534.1 99.4,534.1 99.0,534.1 98.6,534.0 98.3,534.0 98.0,534.0 97.6,533.9 97.2,533.8 97.0,533.7 96.6,533.6 96.4,533.5 96.0,533.4 95.8,533.3 95.6,533.2 95.2,533.0 95.0,532.9 94.8,532.8 94.6,532.6 94.3,532.4 94.0,532.2 93.8,532.0 93.6,531.8 93.4,531.6 93.2,531.4 93.0,531.2 92.8,531.0 92.6,530.8 92.5,530.6 92.3,530.4 92.2,530.2 92.0,530.0 91.8,529.7 91.6,529.5 91.4,529.2 91.3,529.0 91.1,528.8 91.0,528.6 90.8,528.3 90.6,528.0 90.5,527.8 90.3,527.6 90.2,527.3 90.0,527.0 89.9,526.8 89.8,526.5 89.7,526.2 89.6,526.0 89.4,525.6 89.3,525.4 89.2,525.0 89.1,524.8 89.0,524.4 88.9,524.2 88.8,523.8 88.8,523.6 88.7,523.2 88.6,522.8 88.6,522.6 88.5,522.2 88.4,521.8 88.4,521.6 88.3,521.2 88.3,520.8 88.2,520.4 88.2,520.2 88.1,519.8 88.1,519.4 88.1,519.0 88.0,518.6 88.0,518.4 88.0,518.0 87.9,517.6 87.9,517.2 87.9,516.8 87.9,516.4 87.9,516.0 87.8,515.6 87.8,515.2 87.8,514.8 87.8,514.4 87.9,514.0 87.9,513.6 87.9,513.2 88.0,512.8 88.0,512.5 88.1,512.2 88.1,511.8 88.2,511.5 88.3,511.2 88.4,510.8 88.4,510.6 88.5,510.2 88.6,509.8 88.6,509.6 88.8,509.2 88.8,509.0 89.0,508.6 89.0,508.4 89.1,508.0 89.2,507.6 89.3,507.4 89.4,507.2 89.6,506.8 89.7,506.6 89.8,506.2 89.9,506.0 90.0,505.7 90.2,505.4 90.3,505.2 90.4,505.0 90.6,504.6 90.7,504.4 90.8,504.2 91.0,503.8 91.2,503.6 91.3,503.4 91.4,503.2 91.6,502.9 91.8,502.6 91.9,502.4 92.1,502.2 92.2,502.0 92.4,501.8 92.6,501.5 92.8,501.3 93.0,501.1 93.2,500.9 93.4,500.7 93.6,500.6 93.8,500.4 94.1,500.2 94.3,500.0 94.6,499.8 94.8,499.7 95.0,499.6 95.3,499.4 95.6,499.2 95.8,499.1 96.1,499.0 96.4,498.9 96.6,498.8 97.0,498.6 97.2,498.5 97.6,498.4 97.8,498.3 98.2,498.2 98.4,498.2 98.8,498.1 99.2,498.0 99.4,498.0 99.8,497.9 100.2,497.9 100.4,497.8 100.8,497.7 101.2,497.6 101.4,497.6 101.8,497.5 102.2,497.4 102.4,497.4 102.8,497.3 103.2,497.3 103.6,497.2 104.0,497.2 104.4,497.2 104.8,497.2 105.2,497.3 105.6,497.3 106.0,497.4 106.2,497.5 106.6,497.6 106.8,497.7 107.0,497.8 107.4,498.0 107.6,498.1 107.8,498.2 108.0,498.4 108.3,498.6 108.5,498.8 108.7,499.0 109.0,499.2 109.2,499.4 109.4,499.6 109.6,499.8 109.8,500.0 110.0,500.1 110.2,500.4 110.4,500.5 110.6,500.8 110.8,500.9 111.0,501.1 111.2,501.4 111.3,501.6 111.5,501.8 111.6,502.0 111.8,502.3 112.0,502.6 112.1,502.8 112.2,503.1 112.3,503.4 112.4,503.6 112.6,504.0 112.6,504.2 112.8,504.4 112.9,504.8 113.0,505.1 113.1,505.4 113.2,505.8 113.2,506.0 113.4,506.4 113.4,506.7 113.4,507.0 113.5,507.4 113.5,507.8 113.6,508.2 113.6,508.4 113.7,508.8 113.7,509.2 113.7,509.6 113.7,510.0 113.7,510.4 113.7,510.8 113.7,511.2 113.7,511.6 113.7,512.0 113.6,512.4 113.6,512.8 113.6,513.1 113.6,513.4 113.6,513.4 113.6,513.8 113.6,514.0 113.6,514.2 113.6,514.6 113.6,515.0 113.6,515.3 113.6,515.6 113.6,515.8 113.6,516.0 113.6,516.3 113.6,516.5 113.6,516.7 113.6,517.0 113.6,517.4 113.5,517.8 113.5,518.2 113.4,518.6 113.4,518.8 113.3,519.2 113.3,519.6 113.2,519.9 113.1,520.2 113.0,520.6 113.0,520.8 112.9,521.2 112.8,521.6 112.8,521.8 112.7,522.2 112.6,522.5 112.5,522.8 112.4,523.2 112.4,523.4 112.3,523.8 112.2,524.1 112.1,524.4 112.0,524.7 111.9,525.0 111.8,525.4 111.7,525.6 111.6,525.9 111.5,526.2 111.4,526.4 111.2,526.8 111.1,527.0 111.0,527.2 110.8,527.5 110.6,527.8 110.5,528.0 110.4,528.2 110.2,528.4 110.0,528.7 109.8,529.0 109.6,529.2 109.5,529.4 109.3,529.6 109.1,529.8 108.9,530.0 108.7,530.2 108.5,530.4 108.3,530.6 108.1,530.8 107.8,531.0 107.6,531.2 107.4,531.3 107.2,531.5 107.0,531.6 106.7,531.8 106.4,532.0 106.2,532.1 106.0,532.2 105.6,532.4 105.4,532.5 105.2,532.6 104.8,532.8 104.6,532.8 104.2,533.0 104.0,533.1 103.7,533.2 103.4,533.3 103.1,533.4 102.8,533.5 102.4,533.6 102.2,533.7 101.8,533.8 101.6,533.8 101.2,533.9 100.8,534.0 100.6,534.0Z"/><path d="M100.4,533.4 100.0,533.5 99.6,533.5 99.2,533.5 98.8,533.4 98.5,533.4 98.2,533.4 97.8,533.3 97.5,533.2 97.2,533.1 96.8,533.0 96.6,532.9 96.3,532.8 96.0,532.7 95.8,532.6 95.5,532.4 95.2,532.2 95.0,532.1 94.8,532.0 94.6,531.8 94.3,531.6 94.1,531.4 93.9,531.2 93.7,531.0 93.5,530.8 93.3,530.6 93.1,530.4 93.0,530.2 92.8,530.0 92.6,529.8 92.4,529.5 92.2,529.3 92.0,529.0 91.8,528.8 91.7,528.6 91.5,528.4 91.4,528.2 91.2,528.0 91.0,527.7 90.8,527.4 90.7,527.2 90.6,527.0 90.4,526.7 90.3,526.4 90.2,526.2 90.0,525.9 89.9,525.6 89.8,525.4 89.6,525.0 89.6,524.8 89.4,524.4 89.4,524.2 89.3,523.8 89.2,523.5 89.1,523.2 89.0,522.8 89.0,522.6 88.9,522.2 88.9,521.8 88.8,521.4 88.8,521.2 88.7,520.8 88.7,520.4 88.6,520.0 88.6,519.8 88.6,519.4 88.5,519.0 88.5,518.6 88.5,518.2 88.4,517.8 88.4,517.4 88.4,517.3 88.4,517.2 88.4,516.8 88.3,516.4 88.3,516.0 88.3,515.6 88.3,515.2 88.3,514.8 88.3,514.4 88.3,514.0 88.3,513.6 88.4,513.2 88.4,513.0 88.5,512.6 88.6,512.2 88.7,512.0 88.7,511.6 88.8,511.4 88.9,511.0 89.0,510.8 89.1,510.4 89.2,510.2 89.3,509.8 89.4,509.6 89.6,509.2 89.6,509.0 89.8,508.6 89.8,508.4 90.0,508.0 90.1,507.8 90.2,507.6 90.4,507.2 90.5,507.0 90.6,506.8 90.8,506.4 90.9,506.2 91.0,506.0 91.2,505.7 91.3,505.4 91.4,505.2 91.6,504.9 91.8,504.6 91.9,504.4 92.0,504.2 92.2,503.9 92.4,503.6 92.5,503.4 92.7,503.2 92.9,503.0 93.0,502.8 93.2,502.6 93.4,502.4 93.6,502.2 93.8,502.0 94.1,501.8 94.4,501.6 94.6,501.5 94.8,501.3 95.0,501.2 95.3,501.0 95.6,500.9 95.8,500.8 96.1,500.6 96.4,500.5 96.6,500.3 96.9,500.2 97.2,500.1 97.4,500.0 97.8,499.9 98.0,499.8 98.4,499.7 98.7,499.6 99.0,499.5 99.4,499.5 99.8,499.4 100.0,499.4 100.4,499.3 100.8,499.3 101.2,499.2 101.6,499.2 101.8,499.2 102.2,499.1 102.6,499.1 103.0,499.1 103.4,499.1 103.8,499.0 104.2,499.0 104.6,499.0 105.0,499.0 105.4,499.1 105.8,499.1 106.0,499.2 106.4,499.3 106.6,499.4 106.9,499.6 107.2,499.8 107.4,500.0 107.6,500.1 107.8,500.3 108.0,500.5 108.2,500.6 108.5,500.8 108.7,501.0 108.9,501.2 109.2,501.4 109.4,501.6 109.6,501.7 109.8,501.9 110.0,502.1 110.2,502.2 110.4,502.5 110.6,502.7 110.8,502.9 110.9,503.2 111.1,503.4 111.2,503.6 111.4,503.9 111.6,504.2 111.7,504.4 111.8,504.6 112.0,505.0 112.0,505.2 112.2,505.5 112.3,505.8 112.4,506.1 112.5,506.4 112.6,506.8 112.7,507.0 112.8,507.4 112.8,507.6 112.9,508.0 112.9,508.4 113.0,508.8 113.0,509.2 113.0,509.4 113.0,509.8 113.1,510.2 113.1,510.6 113.1,511.0 113.0,511.4 113.0,511.8 113.0,512.2 113.0,512.4 113.0,512.8 112.9,513.2 112.9,513.6 112.9,514.0 112.9,514.4 112.9,514.8 113.0,515.2 113.0,515.6 113.0,515.8 113.0,516.2 113.1,516.6 113.1,517.0 113.1,517.4 113.0,517.8 113.0,518.2 113.0,518.4 112.9,518.8 112.9,519.2 112.8,519.6 112.8,519.8 112.7,520.2 112.6,520.5 112.5,520.8 112.5,521.2 112.4,521.4 112.3,521.8 112.2,522.2 112.2,522.4 112.1,522.8 112.0,523.2 111.9,523.4 111.8,523.8 111.8,524.0 111.7,524.4 111.6,524.7 111.5,525.0 111.4,525.3 111.3,525.6 111.2,525.8 111.0,526.2 110.9,526.4 110.8,526.7 110.6,527.0 110.5,527.2 110.4,527.4 110.2,527.7 110.0,528.0 109.9,528.2 109.7,528.4 109.6,528.6 109.4,528.8 109.2,529.1 109.0,529.3 108.8,529.5 108.6,529.7 108.4,529.9 108.2,530.1 108.0,530.3 107.8,530.5 107.6,530.6 107.3,530.8 107.1,531.0 106.8,531.2 106.6,531.3 106.4,531.4 106.1,531.6 105.8,531.8 105.6,531.9 105.3,532.0 105.0,532.1 104.8,532.2 104.4,532.4 104.2,532.4 103.8,532.6 103.6,532.7 103.2,532.8 103.0,532.8 102.6,532.9 102.4,533.0 102.0,533.1 101.6,533.2 101.4,533.2 101.0,533.3 100.6,533.4 100.4,533.4Z"/><path d="M100.2,532.8 99.8,532.8 99.4,532.8 99.0,532.8 98.7,532.8 98.4,532.8 98.0,532.7 97.7,532.6 97.4,532.5 97.0,532.4 96.8,532.3 96.5,532.2 96.2,532.1 96.0,532.0 95.7,531.8 95.4,531.6 95.2,531.4 95.0,531.3 94.8,531.1 94.6,531.0 94.4,530.8 94.2,530.6 94.0,530.4 93.8,530.2 93.6,529.9 93.4,529.7 93.2,529.5 93.0,529.3 92.8,529.0 92.6,528.8 92.4,528.6 92.3,528.4 92.1,528.2 91.9,528.0 91.8,527.8 91.6,527.6 91.4,527.3 91.2,527.0 91.0,526.8 90.9,526.6 90.8,526.4 90.6,526.1 90.5,525.8 90.4,525.6 90.2,525.2 90.1,525.0 90.0,524.7 89.9,524.4 89.8,524.1 89.7,523.8 89.6,523.4 89.5,523.2 89.5,522.8 89.4,522.5 89.3,522.2 89.3,521.8 89.2,521.4 89.2,521.2 89.2,520.8 89.1,520.4 89.1,520.0 89.0,519.6 89.0,519.2 89.0,519.0 89.0,518.6 88.9,518.2 88.9,517.8 88.9,517.4 88.8,517.0 88.8,516.6 88.8,516.4 88.8,516.0 88.8,515.6 88.7,515.2 88.8,514.8 88.8,514.4 88.8,514.0 88.8,513.8 88.9,513.4 88.9,513.0 89.0,512.8 89.1,512.4 89.2,512.0 89.3,511.8 89.4,511.5 89.5,511.2 89.6,511.0 89.8,510.6 89.9,510.4 90.1,510.2 90.2,509.9 90.4,509.7 90.5,509.4 90.7,509.2 90.8,509.0 91.0,508.7 91.1,508.4 91.2,508.2 91.4,507.9 91.5,507.6 91.6,507.4 91.8,507.0 91.9,506.8 92.0,506.5 92.2,506.2 92.2,506.0 92.4,505.7 92.5,505.4 92.7,505.2 92.8,505.0 93.0,504.7 93.2,504.4 93.4,504.2 93.5,504.0 93.7,503.8 93.8,503.6 94.1,503.4 94.3,503.2 94.6,503.0 94.8,502.8 95.0,502.7 95.2,502.6 95.5,502.4 95.8,502.3 96.0,502.2 96.4,502.0 96.6,501.9 96.8,501.8 97.2,501.6 97.4,501.6 97.8,501.4 98.0,501.3 98.4,501.2 98.6,501.1 99.0,501.0 99.2,501.0 99.6,500.9 100.0,500.9 100.4,500.8 100.8,500.9 101.2,500.9 101.6,501.0 101.8,501.0 102.2,501.1 102.6,501.2 102.8,501.3 103.2,501.4 103.4,501.5 103.8,501.6 104.0,501.6 104.4,501.8 104.6,501.8 105.0,501.9 105.4,502.0 105.6,502.0 106.0,502.1 106.3,502.2 106.6,502.3 106.8,502.4 107.2,502.6 107.4,502.6 107.8,502.8 108.0,502.9 108.2,503.0 108.6,503.2 108.8,503.3 109.0,503.4 109.4,503.6 109.6,503.7 109.8,503.9 110.0,504.1 110.2,504.3 110.4,504.5 110.6,504.7 110.8,505.0 110.9,505.2 111.0,505.4 111.2,505.7 111.3,506.0 111.4,506.2 111.6,506.6 111.6,506.8 111.8,507.2 111.8,507.4 112.0,507.8 112.0,507.8 112.0,508.1 112.1,508.4 112.2,508.8 112.2,509.0 112.3,509.4 112.3,509.8 112.3,510.2 112.4,510.6 112.4,511.0 112.4,511.4 112.4,511.8 112.3,512.2 112.3,512.6 112.3,513.0 112.2,513.4 112.2,513.8 112.2,514.2 112.2,514.6 112.3,515.0 112.3,515.4 112.4,515.8 112.4,516.1 112.4,516.4 112.5,516.8 112.5,517.2 112.5,517.6 112.5,518.0 112.5,518.4 112.4,518.8 112.4,519.1 112.4,519.4 112.3,519.8 112.2,520.2 112.2,520.4 112.1,520.8 112.0,521.2 112.0,521.4 111.9,521.8 111.8,522.2 111.7,522.4 111.7,522.8 111.6,523.1 111.5,523.4 111.4,523.8 111.4,524.0 111.3,524.4 111.2,524.6 111.1,525.0 111.0,525.2 110.9,525.6 110.8,525.8 110.6,526.2 110.5,526.4 110.4,526.6 110.2,527.0 110.1,527.2 110.0,527.4 109.8,527.6 109.6,527.9 109.4,528.2 109.2,528.4 109.1,528.6 108.9,528.8 108.7,529.0 108.5,529.2 108.3,529.4 108.1,529.6 107.9,529.8 107.7,530.0 107.4,530.2 107.2,530.4 107.0,530.5 106.8,530.6 106.6,530.8 106.2,531.0 106.0,531.1 105.8,531.2 105.5,531.4 105.2,531.5 105.0,531.6 104.6,531.8 104.4,531.8 104.0,532.0 103.8,532.0 103.4,532.2 103.2,532.2 102.8,532.3 102.5,532.4 102.2,532.5 101.8,532.6 101.6,532.6 101.2,532.7 100.8,532.7 100.4,532.8 100.2,532.8Z"/><path d="M100.0,532.2 99.6,532.2 99.2,532.2 99.0,532.2 98.6,532.1 98.2,532.1 97.9,532.0 97.6,531.9 97.3,531.8 97.0,531.7 96.8,531.6 96.4,531.4 96.2,531.3 96.0,531.2 95.7,531.0 95.5,530.8 95.2,530.6 95.0,530.4 94.8,530.2 94.6,530.1 94.4,529.9 94.2,529.7 94.0,529.5 93.8,529.3 93.6,529.0 93.4,528.8 93.2,528.6 93.0,528.4 92.8,528.2 92.6,528.0 92.4,527.8 92.3,527.6 92.1,527.4 91.9,527.2 91.8,527.0 91.6,526.7 91.4,526.5 91.2,526.2 91.1,526.0 91.0,525.8 90.8,525.4 90.7,525.2 90.6,525.0 90.4,524.6 90.3,524.4 90.2,524.1 90.1,523.8 90.0,523.4 89.9,523.2 89.9,522.8 89.8,522.5 89.8,522.2 89.7,521.8 89.6,521.4 89.6,521.0 89.6,520.8 89.5,520.4 89.5,520.0 89.5,519.6 89.4,519.2 89.4,518.8 89.4,518.6 89.4,518.2 89.3,517.8 89.3,517.4 89.3,517.0 89.3,516.6 89.3,516.2 89.2,515.8 89.2,515.4 89.2,515.0 89.2,514.6 89.2,514.2 89.3,513.8 89.4,513.4 89.4,513.2 89.5,512.8 89.6,512.6 89.8,512.2 89.9,512.0 90.0,511.8 90.2,511.4 90.3,511.2 90.5,511.0 90.6,510.8 90.8,510.5 91.0,510.3 91.2,510.0 91.4,509.8 91.5,509.6 91.7,509.4 91.8,509.2 92.0,508.9 92.2,508.6 92.3,508.4 92.4,508.2 92.6,507.8 92.7,507.6 92.8,507.3 92.9,507.0 93.0,506.8 93.2,506.5 93.3,506.2 93.4,506.0 93.6,505.8 93.8,505.5 94.0,505.2 94.2,505.0 94.3,504.8 94.5,504.6 94.8,504.4 95.0,504.2 95.2,504.1 95.4,504.0 95.7,503.8 96.0,503.7 96.2,503.6 96.6,503.4 96.8,503.4 97.2,503.2 97.4,503.2 97.8,503.0 98.0,503.0 98.4,502.9 98.7,502.8 99.0,502.7 99.4,502.6 99.6,502.6 100.0,502.5 100.4,502.5 100.8,502.5 101.2,502.6 101.4,502.6 101.8,502.7 102.2,502.8 102.4,502.9 102.8,503.0 103.0,503.1 103.3,503.2 103.6,503.3 103.9,503.4 104.2,503.5 104.5,503.6 104.8,503.7 105.1,503.8 105.4,503.9 105.7,504.0 106.0,504.1 106.4,504.2 106.6,504.3 107.0,504.4 107.2,504.4 107.6,504.6 107.8,504.6 108.2,504.8 108.4,504.9 108.6,505.0 109.0,505.2 109.2,505.3 109.4,505.5 109.6,505.7 109.8,505.9 110.0,506.1 110.2,506.4 110.4,506.6 110.5,506.8 110.6,507.1 110.8,507.4 110.8,507.6 111.0,508.0 111.1,508.2 111.2,508.6 111.2,508.8 111.4,509.2 111.4,509.4 111.5,509.8 111.5,510.2 111.6,510.5 111.6,510.7 111.6,510.9 111.6,511.2 111.6,511.4 111.6,511.6 111.6,511.8 111.6,512.2 111.6,512.2 111.6,512.6 111.5,513.0 111.5,513.4 111.5,513.8 111.5,514.2 111.5,514.6 111.6,515.0 111.6,515.3 111.6,515.6 111.7,516.0 111.8,516.4 111.8,516.6 111.9,517.0 111.9,517.4 111.9,517.8 112.0,518.2 111.9,518.6 111.9,519.0 111.9,519.4 111.8,519.8 111.8,520.0 111.7,520.4 111.7,520.8 111.6,521.1 111.5,521.4 111.5,521.8 111.4,522.1 111.3,522.4 111.2,522.8 111.2,523.0 111.1,523.4 111.0,523.8 111.0,524.0 110.8,524.4 110.8,524.6 110.7,525.0 110.6,525.2 110.4,525.6 110.3,525.8 110.2,526.1 110.1,526.4 110.0,526.6 109.8,526.9 109.6,527.2 109.5,527.4 109.4,527.6 109.2,527.8 109.0,528.1 108.8,528.3 108.6,528.5 108.4,528.8 108.2,529.0 108.0,529.2 107.8,529.3 107.6,529.5 107.4,529.7 107.2,529.8 107.0,530.0 106.7,530.2 106.4,530.4 106.2,530.5 106.0,530.6 105.6,530.8 105.4,530.9 105.2,531.0 104.8,531.2 104.6,531.2 104.2,531.4 104.0,531.4 103.6,531.5 103.3,531.6 103.0,531.7 102.6,531.8 102.4,531.8 102.0,531.9 101.6,532.0 101.4,532.0 101.0,532.1 100.6,532.1 100.2,532.2 100.0,532.2Z"/><path d="M101.0,531.4 100.6,531.5 100.2,531.5 99.8,531.5 99.4,531.5 99.0,531.5 98.6,531.5 98.3,531.4 98.0,531.3 97.6,531.2 97.4,531.1 97.2,531.0 96.8,530.8 96.6,530.7 96.4,530.6 96.1,530.4 95.8,530.2 95.6,530.0 95.4,529.9 95.2,529.7 95.0,529.5 94.8,529.4 94.6,529.2 94.4,529.0 94.2,528.8 94.0,528.6 93.8,528.4 93.6,528.2 93.4,528.0 93.2,527.8 93.0,527.6 92.8,527.4 92.6,527.2 92.4,527.0 92.2,526.7 92.0,526.5 91.8,526.2 91.7,526.0 91.5,525.8 91.4,525.6 91.2,525.3 91.1,525.0 91.0,524.8 90.8,524.4 90.7,524.2 90.6,524.0 90.5,523.6 90.4,523.3 90.3,523.0 90.2,522.6 90.2,522.4 90.1,522.0 90.1,521.6 90.0,521.2 90.0,521.0 90.0,520.6 89.9,520.2 89.9,519.8 89.9,519.4 89.8,519.0 89.8,518.6 89.8,518.2 89.8,518.0 89.8,517.6 89.7,517.2 89.7,516.8 89.7,516.4 89.7,516.0 89.7,515.6 89.7,515.2 89.7,514.8 89.7,514.4 89.8,514.0 89.8,513.8 89.9,513.4 90.0,513.2 90.1,512.8 90.2,512.6 90.4,512.3 90.5,512.0 90.7,511.8 90.8,511.6 91.0,511.4 91.2,511.1 91.4,510.9 91.6,510.7 91.8,510.5 92.0,510.3 92.2,510.0 92.4,509.8 92.6,509.6 92.7,509.4 92.9,509.2 93.0,509.0 93.2,508.7 93.4,508.4 93.5,508.2 93.6,508.0 93.8,507.6 93.9,507.4 94.0,507.2 94.2,506.9 94.4,506.6 94.6,506.4 94.7,506.2 94.9,506.0 95.1,505.8 95.4,505.6 95.6,505.5 95.8,505.3 96.1,505.2 96.4,505.1 96.6,505.0 97.0,504.8 97.2,504.8 97.6,504.7 97.8,504.6 98.2,504.5 98.6,504.4 98.8,504.3 99.2,504.2 99.4,504.2 99.8,504.1 100.2,504.0 100.6,504.0 100.8,504.0 101.2,504.0 101.4,504.0 101.8,504.1 102.2,504.2 102.4,504.2 102.8,504.3 103.0,504.4 103.4,504.5 103.6,504.6 104.0,504.8 104.2,504.8 104.6,505.0 104.8,505.1 105.1,505.2 105.4,505.3 105.7,505.4 106.0,505.5 106.2,505.6 106.6,505.8 106.8,505.9 107.1,506.0 107.4,506.1 107.6,506.2 107.9,506.4 108.2,506.6 108.4,506.8 108.6,506.9 108.8,507.1 109.0,507.4 109.2,507.6 109.3,507.8 109.5,508.0 109.6,508.2 109.8,508.6 109.9,508.8 110.0,509.0 110.2,509.3 110.3,509.6 110.4,509.8 110.5,510.2 110.6,510.5 110.6,510.8 110.7,511.2 110.8,511.6 110.8,512.0 110.8,512.4 110.8,512.8 110.8,513.2 110.8,513.6 110.8,513.9 110.8,514.2 110.8,514.6 110.9,515.0 110.9,515.4 111.0,515.7 111.1,516.0 111.1,516.4 111.2,516.7 111.2,517.0 111.3,517.4 111.4,517.8 111.4,518.2 111.4,518.4 111.4,518.8 111.4,519.2 111.4,519.4 111.4,519.8 111.3,520.2 111.3,520.6 111.2,520.9 111.2,521.2 111.1,521.6 111.0,522.0 111.0,522.2 110.9,522.6 110.8,522.9 110.7,523.2 110.6,523.6 110.6,523.8 110.5,524.2 110.4,524.4 110.3,524.8 110.2,525.1 110.1,525.4 110.0,525.6 109.8,526.0 109.7,526.2 109.6,526.4 109.4,526.8 109.3,527.0 109.1,527.2 109.0,527.4 108.8,527.6 108.6,527.9 108.4,528.1 108.2,528.4 108.0,528.6 107.8,528.8 107.6,528.9 107.4,529.1 107.2,529.3 107.0,529.4 106.8,529.6 106.5,529.8 106.2,530.0 106.0,530.1 105.8,530.2 105.4,530.4 105.2,530.5 104.8,530.6 104.6,530.7 104.2,530.8 104.0,530.9 103.6,531.0 103.4,531.0 103.0,531.1 102.6,531.2 102.4,531.2 102.0,531.3 101.6,531.3 101.2,531.4 101.0,531.4Z"/><path d="M100.0,530.8 99.6,530.8 99.4,530.8 99.0,530.8 98.6,530.7 98.2,530.6 98.0,530.5 97.6,530.4 97.4,530.3 97.2,530.2 96.8,530.0 96.6,529.9 96.4,529.7 96.2,529.6 95.9,529.4 95.6,529.2 95.4,529.0 95.2,528.9 95.0,528.7 94.8,528.5 94.6,528.4 94.4,528.2 94.2,528.0 94.0,527.8 93.7,527.6 93.5,527.4 93.3,527.2 93.1,527.0 92.9,526.8 92.8,526.6 92.6,526.4 92.4,526.2 92.2,525.9 92.0,525.7 91.8,525.4 91.7,525.2 91.6,525.0 91.4,524.7 91.2,524.4 91.1,524.2 91.0,523.9 90.9,523.6 90.8,523.3 90.7,523.0 90.6,522.6 90.6,522.4 90.5,522.0 90.5,521.6 90.4,521.2 90.4,520.9 90.4,520.6 90.4,520.2 90.3,519.8 90.3,519.4 90.3,519.0 90.3,518.6 90.2,518.2 90.2,517.8 90.2,517.5 90.2,517.2 90.2,516.8 90.1,516.4 90.1,516.0 90.1,515.6 90.1,515.2 90.2,514.8 90.2,514.4 90.2,514.2 90.3,513.8 90.4,513.5 90.5,513.2 90.6,513.0 90.8,512.6 91.0,512.4 91.1,512.2 91.2,512.0 91.4,511.8 91.6,511.6 91.8,511.4 92.0,511.2 92.2,511.0 92.5,510.8 92.7,510.6 92.9,510.4 93.1,510.2 93.3,510.0 93.5,509.8 93.7,509.6 93.8,509.4 94.0,509.2 94.2,508.9 94.4,508.7 94.6,508.4 94.8,508.2 94.9,508.0 95.1,507.8 95.3,507.6 95.5,507.4 95.8,507.2 96.0,507.0 96.2,506.9 96.4,506.8 96.8,506.6 97.0,506.5 97.3,506.4 97.6,506.3 97.8,506.2 98.2,506.1 98.4,506.0 98.8,505.9 99.0,505.8 99.4,505.7 99.7,505.6 100.0,505.5 100.4,505.5 100.8,505.4 101.0,505.4 101.4,505.4 101.6,505.4 102.0,505.4 102.4,505.5 102.7,505.6 103.0,505.7 103.3,505.8 103.6,505.9 103.8,506.0 104.2,506.2 104.4,506.2 104.8,506.4 105.0,506.5 105.2,506.6 105.6,506.8 105.8,506.9 106.0,507.0 106.4,507.2 106.6,507.3 106.8,507.4 107.0,507.6 107.3,507.8 107.5,508.0 107.8,508.2 108.0,508.4 108.2,508.6 108.3,508.8 108.5,509.0 108.6,509.2 108.8,509.4 109.0,509.7 109.2,510.0 109.3,510.2 109.4,510.5 109.6,510.8 109.6,511.0 109.8,511.4 109.8,511.6 109.9,512.0 110.0,512.4 110.0,512.6 110.0,513.0 110.1,513.4 110.1,513.8 110.2,514.2 110.2,514.6 110.2,514.8 110.3,515.2 110.3,515.6 110.4,515.9 110.5,516.2 110.6,516.6 110.6,516.8 110.7,517.2 110.8,517.6 110.8,517.9 110.8,518.2 110.9,518.6 110.9,519.0 110.9,519.4 110.9,519.8 110.9,520.2 110.8,520.6 110.8,520.8 110.7,521.2 110.6,521.6 110.6,521.9 110.5,522.2 110.4,522.6 110.4,522.8 110.3,523.2 110.2,523.6 110.1,523.8 110.0,524.2 110.0,524.4 109.8,524.8 109.8,525.0 109.6,525.4 109.5,525.6 109.4,525.9 109.2,526.2 109.1,526.4 109.0,526.6 108.8,526.9 108.6,527.2 108.5,527.4 108.3,527.6 108.1,527.8 108.0,528.0 107.8,528.2 107.6,528.4 107.3,528.6 107.1,528.8 106.8,529.0 106.6,529.2 106.4,529.3 106.2,529.4 105.9,529.6 105.6,529.7 105.4,529.8 105.0,530.0 104.8,530.1 104.4,530.2 104.2,530.2 103.8,530.3 103.5,530.4 103.2,530.4 102.8,530.5 102.4,530.6 102.1,530.6 101.8,530.6 101.4,530.7 101.0,530.7 100.6,530.8 100.2,530.8 100.0,530.8Z"/><path d="M101.2,530.0 100.8,530.0 100.4,530.1 100.0,530.1 99.6,530.1 99.2,530.0 99.0,530.0 98.6,529.9 98.2,529.8 98.0,529.7 97.7,529.6 97.4,529.5 97.2,529.4 96.9,529.2 96.6,529.0 96.4,528.9 96.2,528.7 96.0,528.5 95.8,528.4 95.6,528.2 95.3,528.0 95.1,527.8 94.8,527.6 94.6,527.4 94.4,527.2 94.2,527.1 94.0,526.9 93.8,526.7 93.6,526.5 93.4,526.4 93.2,526.2 93.0,526.0 92.8,525.8 92.6,525.6 92.4,525.3 92.2,525.1 92.0,524.8 91.9,524.6 91.7,524.4 91.6,524.1 91.4,523.8 91.4,523.6 91.2,523.2 91.2,523.0 91.1,522.6 91.0,522.4 90.9,522.0 90.9,521.6 90.8,521.2 90.8,520.8 90.8,520.6 90.8,520.2 90.8,519.8 90.7,519.4 90.7,519.0 90.7,518.6 90.7,518.2 90.7,517.8 90.6,517.4 90.6,517.0 90.6,516.6 90.6,516.4 90.6,516.0 90.6,515.6 90.6,515.2 90.6,515.0 90.7,514.6 90.7,514.2 90.8,514.0 90.9,513.6 91.0,513.4 91.2,513.1 91.4,512.8 91.6,512.6 91.8,512.4 92.0,512.2 92.2,512.0 92.4,511.8 92.6,511.6 92.8,511.5 93.0,511.3 93.2,511.1 93.4,511.0 93.6,510.8 93.8,510.6 94.1,510.4 94.3,510.2 94.5,510.0 94.7,509.8 95.0,509.6 95.2,509.4 95.4,509.2 95.6,509.1 95.8,508.9 96.0,508.8 96.4,508.6 96.6,508.5 96.8,508.4 97.2,508.2 97.4,508.1 97.8,508.0 98.0,507.9 98.3,507.8 98.6,507.7 98.8,507.6 99.2,507.4 99.4,507.4 99.8,507.2 100.0,507.1 100.4,507.0 100.6,507.0 101.0,506.9 101.4,506.8 101.8,506.8 102.2,506.9 102.6,507.0 102.8,507.0 103.2,507.1 103.4,507.2 103.8,507.3 104.0,507.4 104.4,507.6 104.6,507.7 104.9,507.8 105.2,508.0 105.4,508.1 105.7,508.2 106.0,508.4 106.2,508.5 106.4,508.7 106.6,508.8 106.8,509.0 107.1,509.2 107.3,509.4 107.5,509.6 107.7,509.8 107.8,510.0 108.0,510.2 108.2,510.5 108.4,510.8 108.6,511.0 108.7,511.2 108.8,511.5 108.9,511.8 109.0,512.0 109.2,512.4 109.2,512.6 109.3,513.0 109.4,513.4 109.4,513.6 109.5,514.0 109.5,514.4 109.6,514.8 109.6,515.0 109.7,515.4 109.8,515.8 109.8,516.0 109.9,516.4 110.0,516.8 110.0,517.0 110.1,517.4 110.2,517.7 110.3,518.0 110.3,518.4 110.4,518.8 110.4,519.2 110.4,519.4 110.4,519.8 110.4,520.0 110.4,520.4 110.3,520.8 110.3,521.2 110.2,521.6 110.2,521.8 110.1,522.2 110.0,522.6 110.0,522.8 109.9,523.2 109.8,523.4 109.7,523.8 109.6,524.1 109.5,524.4 109.4,524.7 109.3,525.0 109.2,525.2 109.0,525.6 109.0,525.8 108.8,526.1 108.6,526.4 108.5,526.6 108.4,526.8 108.2,527.0 108.0,527.3 107.8,527.5 107.6,527.8 107.4,527.9 107.2,528.1 107.0,528.3 106.8,528.5 106.6,528.6 106.3,528.8 106.0,529.0 105.8,529.1 105.6,529.2 105.2,529.4 105.0,529.4 104.6,529.6 104.4,529.6 104.0,529.7 103.6,529.8 103.4,529.8 103.0,529.9 102.6,529.9 102.2,529.9 101.8,529.9 101.4,530.0 101.2,530.0Z"/><path d="M101.2,528.8 100.8,528.8 100.4,528.9 100.0,528.9 99.6,528.9 99.2,528.8 99.0,528.8 98.6,528.7 98.3,528.6 98.0,528.5 97.8,528.4 97.4,528.2 97.2,528.1 97.0,528.0 96.7,527.8 96.4,527.6 96.2,527.5 96.0,527.3 95.8,527.2 95.6,527.0 95.3,526.8 95.0,526.6 94.8,526.4 94.6,526.3 94.4,526.1 94.2,525.9 94.0,525.7 93.8,525.6 93.6,525.4 93.4,525.2 93.2,525.0 93.0,524.8 92.8,524.6 92.6,524.3 92.4,524.1 92.2,523.8 92.1,523.6 92.0,523.4 91.8,523.0 91.7,522.8 91.6,522.4 91.6,522.2 91.5,521.8 91.4,521.4 91.4,521.1 91.4,520.8 91.3,520.4 91.3,520.0 91.3,519.6 91.3,519.2 91.3,518.8 91.2,518.4 91.2,518.0 91.2,517.6 91.2,517.4 91.2,517.0 91.2,516.6 91.2,516.2 91.2,515.8 91.2,515.6 91.2,515.2 91.3,514.8 91.4,514.4 91.4,514.2 91.6,513.8 91.7,513.6 91.9,513.4 92.0,513.2 92.2,513.0 92.4,512.7 92.6,512.6 92.8,512.4 93.0,512.2 93.2,512.0 93.5,511.8 93.8,511.6 94.0,511.4 94.2,511.3 94.4,511.1 94.6,511.0 94.9,510.8 95.2,510.6 95.4,510.5 95.6,510.3 95.8,510.2 96.2,510.0 96.4,509.9 96.6,509.8 97.0,509.6 97.2,509.5 97.4,509.4 97.8,509.2 98.0,509.1 98.3,509.0 98.6,508.9 98.8,508.8 99.2,508.6 99.4,508.6 99.8,508.4 100.0,508.4 100.4,508.2 100.6,508.2 101.0,508.1 101.4,508.1 101.8,508.0 102.2,508.0 102.6,508.1 103.0,508.2 103.2,508.2 103.6,508.3 103.9,508.4 104.2,508.5 104.4,508.6 104.8,508.8 105.0,508.8 105.3,509.0 105.6,509.2 105.8,509.3 106.0,509.4 106.2,509.6 106.5,509.8 106.7,510.0 106.9,510.2 107.1,510.4 107.2,510.6 107.4,510.8 107.6,511.1 107.8,511.3 108.0,511.6 108.1,511.8 108.2,512.1 108.3,512.4 108.4,512.6 108.6,513.0 108.6,513.2 108.7,513.6 108.8,513.9 108.9,514.2 108.9,514.6 109.0,514.9 109.0,515.2 109.1,515.6 109.2,516.0 109.3,516.2 109.3,516.6 109.4,516.9 109.5,517.2 109.6,517.6 109.6,517.8 109.7,518.2 109.7,518.6 109.8,519.0 109.8,519.2 109.8,519.6 109.8,520.0 109.8,520.4 109.8,520.6 109.7,521.0 109.7,521.4 109.6,521.7 109.5,522.0 109.4,522.4 109.4,522.6 109.2,523.0 109.2,523.2 109.0,523.6 109.0,523.8 108.8,524.2 108.7,524.4 108.6,524.8 108.5,525.0 108.4,525.2 108.2,525.6 108.1,525.8 108.0,526.0 107.8,526.3 107.6,526.6 107.5,526.8 107.3,527.0 107.1,527.2 106.9,527.4 106.7,527.6 106.4,527.8 106.2,527.9 106.0,528.0 105.7,528.2 105.4,528.3 105.2,528.4 104.8,528.5 104.4,528.6 104.2,528.6 103.8,528.7 103.4,528.7 103.0,528.7 102.6,528.7 102.2,528.7 101.8,528.8 101.4,528.8 101.2,528.8Z"/><path d="M104.2,527.4 103.8,527.5 103.4,527.5 103.0,527.5 102.6,527.5 102.2,527.5 101.8,527.5 101.4,527.5 101.0,527.5 100.6,527.5 100.2,527.5 99.8,527.5 99.4,527.5 99.0,527.4 98.8,527.4 98.4,527.3 98.2,527.2 97.8,527.1 97.6,527.0 97.2,526.8 97.0,526.7 96.8,526.6 96.4,526.4 96.2,526.3 96.0,526.1 95.8,526.0 95.5,525.8 95.2,525.6 95.0,525.4 94.8,525.3 94.6,525.1 94.4,525.0 94.2,524.8 94.0,524.6 93.8,524.4 93.5,524.2 93.3,524.0 93.2,523.8 93.0,523.6 92.8,523.3 92.6,523.0 92.5,522.8 92.4,522.6 92.3,522.2 92.2,522.0 92.1,521.6 92.0,521.2 92.0,521.0 91.9,520.6 91.9,520.2 91.9,519.8 91.9,519.4 91.8,519.0 91.8,518.6 91.8,518.3 91.8,518.0 91.8,517.6 91.8,517.2 91.8,516.8 91.8,516.4 91.8,516.2 91.8,515.8 91.9,515.4 92.0,515.0 92.0,514.8 92.2,514.4 92.2,514.2 92.4,513.9 92.6,513.6 92.8,513.4 92.9,513.2 93.2,513.0 93.4,512.8 93.6,512.6 93.8,512.5 94.0,512.3 94.2,512.2 94.5,512.0 94.8,511.8 95.0,511.7 95.2,511.6 95.6,511.4 95.8,511.3 96.0,511.2 96.4,511.0 96.6,510.9 96.9,510.8 97.2,510.7 97.4,510.6 97.8,510.4 98.0,510.3 98.3,510.2 98.6,510.0 98.8,510.0 99.1,509.8 99.4,509.7 99.6,509.6 100.0,509.4 100.2,509.4 100.6,509.2 100.8,509.2 101.2,509.1 101.6,509.0 102.0,509.0 102.2,509.0 102.4,509.0 102.8,509.1 103.2,509.1 103.5,509.2 103.8,509.3 104.2,509.4 104.4,509.5 104.6,509.6 105.0,509.8 105.2,509.9 105.4,510.0 105.6,510.2 105.9,510.4 106.1,510.6 106.3,510.8 106.5,511.0 106.7,511.2 106.9,511.4 107.0,511.6 107.2,511.9 107.4,512.2 107.5,512.4 107.6,512.6 107.8,513.0 107.9,513.2 108.0,513.5 108.1,513.8 108.2,514.2 108.2,514.4 108.3,514.8 108.4,515.0 108.5,515.4 108.6,515.8 108.6,516.0 108.7,516.4 108.8,516.8 108.8,517.0 108.9,517.4 109.0,517.7 109.1,518.0 109.1,518.4 109.2,518.8 109.2,519.1 109.2,519.4 109.2,519.8 109.2,520.1 109.2,520.4 109.1,520.8 109.0,521.2 109.0,521.4 108.9,521.8 108.8,522.0 108.6,522.4 108.6,522.6 108.4,523.0 108.3,523.2 108.2,523.4 108.0,523.8 107.9,524.0 107.8,524.3 107.6,524.6 107.5,524.8 107.4,525.0 107.2,525.4 107.0,525.6 106.9,525.8 106.7,526.0 106.6,526.2 106.4,526.4 106.1,526.6 105.9,526.8 105.6,527.0 105.4,527.1 105.1,527.2 104.8,527.3 104.4,527.4 104.2,527.4Z"/><path d="M104.0,526.2 103.6,526.3 103.2,526.3 102.8,526.3 102.4,526.3 102.0,526.3 101.6,526.3 101.2,526.3 100.8,526.3 100.4,526.3 100.0,526.2 99.7,526.2 99.4,526.2 99.0,526.1 98.6,526.0 98.4,526.0 98.0,525.9 97.7,525.8 97.4,525.7 97.1,525.6 96.8,525.4 96.6,525.3 96.3,525.2 96.0,525.0 95.8,524.9 95.6,524.7 95.4,524.6 95.1,524.4 94.8,524.2 94.6,524.0 94.4,523.9 94.2,523.7 94.0,523.5 93.8,523.3 93.6,523.1 93.4,522.8 93.3,522.6 93.1,522.4 93.0,522.1 92.9,521.8 92.8,521.6 92.7,521.2 92.6,520.8 92.6,520.6 92.5,520.2 92.5,519.8 92.4,519.4 92.4,519.0 92.4,518.8 92.4,518.4 92.4,518.0 92.4,517.6 92.4,517.2 92.4,517.0 92.4,516.6 92.5,516.2 92.5,515.8 92.6,515.5 92.7,515.2 92.8,514.8 92.9,514.6 93.0,514.4 93.2,514.1 93.4,513.8 93.6,513.6 93.8,513.4 94.0,513.3 94.2,513.1 94.4,513.0 94.7,512.8 95.0,512.6 95.2,512.5 95.4,512.4 95.8,512.2 96.0,512.1 96.3,512.0 96.6,511.9 96.9,511.8 97.2,511.7 97.4,511.6 97.8,511.5 98.0,511.4 98.4,511.2 98.6,511.1 98.9,511.0 99.2,510.9 99.4,510.8 99.8,510.6 100.0,510.5 100.3,510.4 100.6,510.3 100.9,510.2 101.2,510.1 101.6,510.0 101.8,510.0 102.2,510.0 102.6,510.0 102.8,510.0 103.2,510.1 103.6,510.2 103.8,510.2 104.2,510.4 104.4,510.5 104.7,510.6 105.0,510.8 105.2,510.9 105.4,511.1 105.6,511.3 105.8,511.4 106.0,511.7 106.2,511.9 106.4,512.1 106.6,512.4 106.7,512.6 106.9,512.8 107.0,513.1 107.2,513.4 107.2,513.6 107.4,514.0 107.5,514.2 107.6,514.6 107.7,514.8 107.8,515.2 107.8,515.4 107.9,515.8 108.0,516.0 108.1,516.4 108.2,516.8 108.2,517.0 108.3,517.4 108.4,517.7 108.5,518.0 108.5,518.4 108.6,518.8 108.6,519.2 108.6,519.6 108.6,520.0 108.5,520.4 108.4,520.8 108.4,521.0 108.2,521.4 108.2,521.6 108.0,522.0 107.9,522.2 107.8,522.4 107.6,522.7 107.5,523.0 107.3,523.2 107.2,523.4 107.0,523.8 106.9,524.0 106.7,524.2 106.6,524.4 106.4,524.7 106.2,524.9 106.0,525.1 105.8,525.3 105.6,525.5 105.4,525.7 105.2,525.8 104.8,526.0 104.6,526.1 104.2,526.2 104.0,526.2Z"/><path d="M103.6,525.0 103.2,525.1 102.8,525.1 102.4,525.1 102.0,525.1 101.6,525.1 101.2,525.1 100.8,525.1 100.4,525.1 100.0,525.1 99.6,525.1 99.2,525.0 99.0,525.0 98.6,524.9 98.2,524.9 97.9,524.8 97.6,524.7 97.3,524.6 97.0,524.5 96.8,524.4 96.4,524.2 96.2,524.1 96.0,523.9 95.8,523.8 95.5,523.6 95.2,523.4 95.0,523.3 94.8,523.1 94.6,522.9 94.4,522.7 94.2,522.5 94.0,522.3 93.8,522.0 93.7,521.8 93.6,521.6 93.4,521.2 93.3,521.0 93.2,520.6 93.2,520.4 93.1,520.0 93.0,519.6 93.0,519.3 93.0,519.0 93.0,518.6 93.0,518.2 93.0,517.8 93.0,517.6 93.0,517.2 93.1,516.8 93.2,516.4 93.2,516.2 93.3,515.8 93.4,515.5 93.5,515.2 93.6,515.0 93.8,514.7 94.0,514.4 94.2,514.2 94.4,514.0 94.6,513.9 94.8,513.7 95.0,513.6 95.3,513.4 95.6,513.2 95.8,513.2 96.2,513.0 96.4,512.9 96.7,512.8 97.0,512.7 97.3,512.6 97.6,512.5 97.9,512.4 98.2,512.3 98.5,512.2 98.8,512.1 99.1,512.0 99.4,511.9 99.6,511.8 100.0,511.7 100.2,511.6 100.6,511.4 100.8,511.3 101.2,511.2 101.4,511.2 101.8,511.1 102.2,511.0 102.6,511.0 103.0,511.1 103.4,511.2 103.6,511.2 104.0,511.4 104.2,511.5 104.4,511.6 104.7,511.8 105.0,512.0 105.2,512.2 105.4,512.4 105.6,512.6 105.8,512.8 105.9,513.0 106.0,513.2 106.2,513.4 106.4,513.8 106.5,514.0 106.6,514.2 106.8,514.6 106.9,514.8 107.0,515.1 107.1,515.4 107.2,515.6 107.3,516.0 107.4,516.3 107.5,516.6 107.6,517.0 107.7,517.2 107.8,517.6 107.8,517.8 107.9,518.2 107.9,518.6 108.0,519.0 108.0,519.4 107.9,519.8 107.8,520.2 107.8,520.4 107.7,520.8 107.6,521.0 107.4,521.4 107.3,521.6 107.2,521.8 107.0,522.1 106.8,522.4 106.7,522.6 106.5,522.8 106.4,523.0 106.2,523.2 106.0,523.5 105.8,523.7 105.6,523.9 105.4,524.1 105.2,524.3 105.0,524.5 104.8,524.6 104.4,524.8 104.2,524.9 103.8,525.0 103.6,525.0Z"/><path d="M102.6,524.0 102.2,524.0 101.8,524.0 101.4,524.1 101.0,524.1 100.6,524.1 100.2,524.1 99.8,524.1 99.4,524.1 99.0,524.0 98.7,524.0 98.4,524.0 98.0,523.9 97.8,523.8 97.4,523.7 97.2,523.6 96.8,523.4 96.6,523.3 96.4,523.2 96.1,523.0 95.8,522.8 95.6,522.7 95.4,522.5 95.2,522.4 95.0,522.2 94.8,522.0 94.6,521.8 94.4,521.5 94.2,521.2 94.1,521.0 94.0,520.8 93.8,520.4 93.8,520.2 93.7,519.8 93.6,519.4 93.6,519.2 93.6,518.8 93.6,518.4 93.6,518.0 93.6,517.8 93.7,517.4 93.8,517.0 93.8,516.8 93.9,516.4 94.0,516.2 94.2,515.8 94.3,515.6 94.4,515.4 94.6,515.2 94.8,514.9 95.0,514.7 95.2,514.6 95.4,514.4 95.7,514.2 96.0,514.1 96.2,514.0 96.6,513.8 96.8,513.7 97.1,513.6 97.4,513.5 97.8,513.4 98.0,513.3 98.4,513.2 98.6,513.2 99.0,513.1 99.3,513.0 99.6,512.9 100.0,512.8 100.2,512.8 100.6,512.6 100.8,512.6 101.2,512.5 101.6,512.4 101.8,512.4 102.2,512.3 102.6,512.3 102.9,512.4 103.2,512.5 103.5,512.6 103.8,512.7 104.0,512.8 104.2,513.0 104.5,513.2 104.7,513.4 104.9,513.6 105.1,513.8 105.3,514.0 105.4,514.2 105.6,514.4 105.8,514.7 106.0,515.0 106.1,515.2 106.2,515.4 106.4,515.8 106.5,516.0 106.6,516.2 106.8,516.6 106.8,516.8 107.0,517.2 107.0,517.4 107.2,517.8 107.2,518.0 107.3,518.4 107.3,518.8 107.3,519.2 107.2,519.6 107.2,519.8 107.1,520.2 107.0,520.4 106.8,520.8 106.7,521.0 106.6,521.2 106.4,521.4 106.2,521.7 106.0,521.9 105.8,522.2 105.6,522.4 105.4,522.6 105.2,522.8 105.0,523.0 104.8,523.2 104.6,523.3 104.4,523.5 104.2,523.6 103.8,523.8 103.6,523.8 103.2,523.9 102.8,524.0 102.6,524.0Z"/><path d="M102.2,523.0 101.8,523.1 101.4,523.1 101.0,523.1 100.6,523.2 100.2,523.2 99.8,523.2 99.4,523.2 99.0,523.2 98.6,523.1 98.2,523.0 98.0,523.0 97.6,522.9 97.4,522.8 97.0,522.6 96.8,522.5 96.6,522.4 96.3,522.2 96.0,522.0 95.8,521.9 95.6,521.7 95.4,521.5 95.2,521.3 95.0,521.1 94.8,520.9 94.6,520.6 94.5,520.4 94.4,520.1 94.3,519.8 94.2,519.5 94.2,519.2 94.1,518.8 94.1,518.4 94.2,518.0 94.2,517.8 94.4,517.4 94.4,517.2 94.6,516.8 94.7,516.6 94.8,516.4 95.0,516.1 95.2,515.9 95.4,515.6 95.6,515.4 95.8,515.3 96.0,515.1 96.2,515.0 96.6,514.8 96.8,514.7 97.0,514.6 97.4,514.5 97.6,514.4 98.0,514.3 98.4,514.2 98.6,514.2 99.0,514.1 99.4,514.1 99.8,514.0 100.0,514.0 100.4,513.9 100.8,513.9 101.2,513.9 101.6,513.9 102.0,513.9 102.4,514.0 102.6,514.0 103.0,514.2 103.2,514.2 103.5,514.4 103.8,514.6 104.0,514.7 104.2,514.9 104.4,515.0 104.6,515.2 104.8,515.4 105.0,515.6 105.2,515.8 105.4,516.0 105.6,516.2 105.8,516.5 106.0,516.8 106.1,517.0 106.2,517.2 106.4,517.6 106.4,517.8 106.5,518.2 106.6,518.6 106.6,518.8 106.6,519.2 106.6,519.4 106.4,519.8 106.4,520.0 106.2,520.3 106.0,520.6 105.9,520.8 105.7,521.0 105.5,521.2 105.3,521.4 105.1,521.6 104.9,521.8 104.6,522.0 104.4,522.2 104.2,522.3 104.0,522.4 103.7,522.6 103.4,522.7 103.1,522.8 102.8,522.9 102.4,523.0 102.2,523.0Z"/><path d="M101.4,522.2 101.0,522.3 100.6,522.3 100.2,522.4 99.8,522.4 99.4,522.4 99.0,522.4 98.6,522.3 98.2,522.3 98.0,522.2 97.6,522.1 97.4,522.0 97.0,521.8 96.8,521.7 96.6,521.6 96.3,521.4 96.0,521.2 95.8,521.0 95.6,520.8 95.4,520.6 95.2,520.4 95.1,520.2 95.0,520.0 94.8,519.6 94.8,519.4 94.7,519.0 94.7,518.6 94.8,518.2 94.8,518.0 95.0,517.6 95.1,517.4 95.2,517.2 95.4,516.9 95.6,516.6 95.8,516.4 96.0,516.2 96.2,516.1 96.4,515.9 96.6,515.8 97.0,515.6 97.2,515.5 97.5,515.4 97.8,515.3 98.2,515.2 98.4,515.2 98.8,515.1 99.2,515.1 99.6,515.0 100.0,515.0 100.4,515.0 100.8,515.1 101.2,515.1 101.6,515.2 101.8,515.2 102.2,515.3 102.4,515.4 102.8,515.6 103.0,515.6 103.3,515.8 103.6,516.0 103.8,516.1 104.0,516.2 104.3,516.4 104.6,516.6 104.8,516.8 105.0,516.9 105.2,517.2 105.4,517.4 105.5,517.6 105.6,517.8 105.8,518.1 105.9,518.4 105.9,518.8 105.9,519.2 105.8,519.5 105.7,519.8 105.6,520.0 105.4,520.2 105.2,520.5 105.0,520.7 104.8,520.8 104.6,521.0 104.3,521.2 104.0,521.4 103.8,521.5 103.6,521.6 103.2,521.8 103.0,521.8 102.6,522.0 102.4,522.0 102.0,522.1 101.6,522.2 101.4,522.2Z"/><path d="M101.6,521.6 101.2,521.7 100.8,521.8 100.4,521.8 100.0,521.8 99.6,521.8 99.2,521.7 98.8,521.7 98.4,521.6 98.2,521.6 97.8,521.5 97.6,521.4 97.2,521.2 97.0,521.1 96.8,521.0 96.5,520.8 96.2,520.6 96.0,520.4 95.8,520.2 95.6,520.0 95.5,519.8 95.4,519.5 95.3,519.2 95.3,518.8 95.3,518.4 95.4,518.1 95.6,517.8 95.7,517.6 95.8,517.4 96.0,517.2 96.2,517.0 96.5,516.8 96.8,516.6 97.0,516.5 97.2,516.4 97.6,516.2 97.8,516.2 98.2,516.1 98.6,516.0 98.8,516.0 99.2,515.9 99.6,515.9 100.0,515.9 100.4,515.9 100.8,516.0 101.1,516.0 101.4,516.1 101.8,516.1 102.0,516.2 102.4,516.3 102.6,516.4 103.0,516.6 103.2,516.7 103.4,516.8 103.8,517.0 104.0,517.2 104.2,517.3 104.4,517.5 104.6,517.8 104.7,518.0 104.8,518.2 104.9,518.6 105.0,519.0 104.9,519.4 104.8,519.6 104.6,519.9 104.4,520.2 104.2,520.4 104.0,520.6 103.8,520.7 103.6,520.9 103.4,521.0 103.0,521.2 102.8,521.3 102.5,521.4 102.2,521.5 101.8,521.6 101.6,521.6Z"/><path d="M101.2,521.4 100.8,521.5 100.4,521.5 100.0,521.5 99.6,521.5 99.2,521.4 99.0,521.4 98.6,521.3 98.3,521.2 98.0,521.1 97.8,521.0 97.5,520.8 97.2,520.6 97.0,520.5 96.8,520.3 96.6,520.1 96.4,519.8 96.3,519.6 96.2,519.3 96.1,519.0 96.2,518.6 96.2,518.4 96.4,518.0 96.5,517.8 96.6,517.6 96.8,517.4 97.1,517.2 97.4,517.0 97.6,516.9 97.8,516.8 98.2,516.6 98.4,516.6 98.8,516.5 99.2,516.4 99.4,516.4 99.8,516.3 100.2,516.3 100.6,516.4 100.9,516.4 101.2,516.5 101.6,516.6 101.8,516.6 102.2,516.8 102.4,516.9 102.6,517.0 102.9,517.2 103.1,517.4 103.3,517.6 103.5,517.8 103.7,518.0 103.8,518.3 103.9,518.6 103.9,519.0 103.9,519.4 103.8,519.6 103.6,520.0 103.4,520.2 103.2,520.4 103.0,520.6 102.8,520.7 102.6,520.8 102.3,521.0 102.0,521.2 101.8,521.2 101.4,521.4 101.2,521.4Z"/><path d="M100.8,521.2 100.4,521.3 100.0,521.3 99.6,521.2 99.4,521.1 99.0,521.0 98.8,520.9 98.5,520.8 98.2,520.6 98.0,520.5 97.8,520.4 97.6,520.2 97.4,520.0 97.2,519.7 97.0,519.4 97.0,519.2 97.0,518.8 97.0,518.6 97.1,518.2 97.3,518.0 97.4,517.8 97.6,517.6 97.9,517.4 98.2,517.2 98.4,517.1 98.7,517.0 99.0,516.9 99.4,516.8 99.6,516.8 100.0,516.7 100.4,516.7 100.8,516.8 101.0,516.8 101.4,517.0 101.6,517.1 101.9,517.2 102.2,517.4 102.4,517.6 102.6,517.8 102.7,518.0 102.9,518.2 103.0,518.5 103.1,518.8 103.1,519.2 103.0,519.5 102.9,519.8 102.7,520.0 102.6,520.2 102.4,520.4 102.1,520.6 101.8,520.8 101.6,520.9 101.4,521.0 101.0,521.2 100.8,521.2Z"/><path d="M100.4,521.0 100.1,521.0 99.8,520.9 99.4,520.8 99.2,520.7 99.0,520.6 98.7,520.4 98.5,520.2 98.3,520.0 98.1,519.8 98.0,519.6 97.8,519.2 97.8,518.8 98.0,518.4 98.1,518.2 98.2,518.0 98.5,517.8 98.7,517.6 99.0,517.5 99.2,517.4 99.6,517.2 99.8,517.2 100.2,517.1 100.6,517.2 100.8,517.2 101.2,517.4 101.4,517.5 101.6,517.6 101.8,517.8 102.0,518.1 102.2,518.4 102.2,518.6 102.3,519.0 102.3,519.4 102.2,519.6 102.0,520.0 101.8,520.2 101.7,520.4 101.4,520.6 101.2,520.8 101.0,520.9 100.6,521.0 100.4,521.0Z"/><path d="M255.6,534.4 255.2,534.4 254.8,534.5 254.4,534.5 254.0,534.5 253.6,534.5 253.2,534.5 252.8,534.4 252.4,534.4 252.2,534.4 251.8,534.3 251.4,534.3 251.0,534.2 250.8,534.2 250.4,534.1 250.2,534.0 249.8,533.9 249.5,533.8 249.2,533.7 249.0,533.6 248.6,533.4 248.4,533.3 248.1,533.2 247.8,533.0 247.6,532.9 247.4,532.8 247.0,532.6 246.8,532.4 246.6,532.3 246.4,532.2 246.2,532.0 245.9,531.8 245.6,531.6 245.4,531.4 245.2,531.3 245.0,531.1 244.8,530.9 244.6,530.7 244.4,530.5 244.2,530.3 244.0,530.1 243.8,529.9 243.6,529.7 243.4,529.4 243.2,529.2 243.1,529.0 242.9,528.8 242.8,528.6 242.6,528.3 242.4,528.0 242.3,527.8 242.2,527.6 242.0,527.3 241.9,527.0 241.8,526.8 241.6,526.5 241.5,526.2 241.4,526.0 241.2,525.6 241.1,525.4 241.0,525.2 240.8,524.9 240.7,524.6 240.6,524.4 240.4,524.1 240.3,523.8 240.2,523.6 240.0,523.2 239.9,523.0 239.8,522.8 239.7,522.4 239.6,522.2 239.5,521.8 239.4,521.6 239.3,521.2 239.2,520.8 239.2,520.6 239.1,520.2 239.0,519.8 239.0,519.6 238.9,519.2 238.9,518.8 238.9,518.4 238.8,518.0 238.8,517.8 238.8,517.4 238.8,517.0 238.7,516.6 238.7,516.2 238.8,515.8 238.8,515.4 238.8,515.0 238.8,514.8 238.9,514.4 238.9,514.0 238.9,513.6 239.0,513.2 239.0,512.8 239.0,512.6 239.0,512.2 239.1,511.8 239.1,511.4 239.1,511.0 239.2,510.6 239.2,510.3 239.2,510.0 239.3,509.6 239.3,509.2 239.4,508.8 239.4,508.6 239.5,508.2 239.6,507.8 239.6,507.6 239.7,507.2 239.8,507.0 239.9,506.6 240.0,506.2 240.1,506.0 240.2,505.6 240.2,505.4 240.4,505.0 240.4,504.8 240.5,504.4 240.6,504.2 240.7,503.8 240.8,503.6 241.0,503.2 241.0,503.0 241.2,502.6 241.3,502.4 241.4,502.1 241.5,501.8 241.6,501.6 241.8,501.2 241.9,501.0 242.0,500.8 242.2,500.5 242.3,500.2 242.5,500.0 242.6,499.8 242.8,499.5 243.0,499.2 243.1,499.0 243.3,498.8 243.4,498.6 243.6,498.4 243.8,498.1 244.0,497.9 244.2,497.6 244.4,497.4 244.5,497.2 244.7,497.0 244.9,496.8 245.1,496.6 245.3,496.4 245.4,496.2 245.6,496.0 245.8,495.8 246.0,495.6 246.2,495.4 246.4,495.2 246.7,495.0 246.9,494.8 247.1,494.6 247.4,494.4 247.6,494.2 247.8,494.1 248.0,493.9 248.2,493.7 248.4,493.6 248.6,493.4 248.9,493.2 249.1,493.0 249.4,492.8 249.6,492.6 249.8,492.4 250.0,492.3 250.2,492.1 250.4,491.9 250.6,491.7 250.8,491.5 251.0,491.4 251.2,491.2 251.4,491.0 251.6,490.8 251.8,490.6 252.0,490.4 252.2,490.2 252.5,490.0 252.7,489.8 252.9,489.6 253.1,489.4 253.3,489.2 253.5,489.0 253.7,488.8 253.9,488.6 254.2,488.4 254.4,488.2 254.6,488.1 254.8,487.9 255.0,487.8 255.3,487.6 255.6,487.4 255.8,487.3 256.0,487.2 256.4,487.0 256.6,487.0 257.0,486.9 257.3,486.8 257.6,486.7 258.0,486.7 258.4,486.7 258.8,486.7 259.2,486.7 259.6,486.8 259.9,486.8 260.2,486.9 260.6,487.0 260.8,487.0 261.2,487.1 261.4,487.2 261.8,487.4 262.0,487.5 262.2,487.6 262.6,487.8 262.8,488.0 263.0,488.1 263.2,488.3 263.4,488.4 263.6,488.6 263.8,488.8 264.0,489.0 264.2,489.3 264.4,489.5 264.6,489.8 264.8,490.0 264.9,490.2 265.1,490.4 265.2,490.6 265.4,490.9 265.6,491.2 265.7,491.4 265.8,491.6 266.0,491.9 266.1,492.2 266.2,492.4 266.4,492.8 266.5,493.0 266.6,493.2 266.7,493.6 266.8,493.8 267.0,494.2 267.1,494.4 267.2,494.7 267.3,495.0 267.4,495.2 267.6,495.6 267.7,495.8 267.8,496.0 268.0,496.4 268.1,496.6 268.2,496.8 268.4,497.2 268.5,497.4 268.6,497.6 268.8,498.0 268.9,498.2 269.0,498.5 269.1,498.8 269.2,499.0 269.4,499.4 269.5,499.6 269.6,499.9 269.7,500.2 269.8,500.4 269.9,500.8 270.0,501.1 270.1,501.4 270.2,501.8 270.2,502.1 270.2,502.4 270.3,502.8 270.3,503.2 270.4,503.6 270.4,503.9 270.4,504.2 270.5,504.6 270.6,505.0 270.7,505.2 270.8,505.6 270.8,505.8 270.9,506.2 271.0,506.4 271.1,506.8 271.2,507.2 271.2,507.4 271.3,507.8 271.4,508.2 271.4,508.4 271.4,508.8 271.5,509.2 271.5,509.6 271.5,510.0 271.5,510.4 271.5,510.8 271.5,511.2 271.5,511.6 271.5,512.0 271.5,512.4 271.5,512.8 271.5,513.2 271.5,513.6 271.5,514.0 271.4,514.4 271.4,514.8 271.4,515.1 271.4,515.4 271.3,515.8 271.3,516.2 271.2,516.5 271.1,516.8 271.0,517.2 271.0,517.4 270.8,517.8 270.8,518.0 270.6,518.4 270.6,518.6 270.4,519.0 270.4,519.2 270.2,519.6 270.1,519.8 270.0,520.2 269.9,520.4 269.8,520.7 269.7,521.0 269.6,521.2 269.4,521.6 269.3,521.8 269.2,522.0 269.0,522.4 268.9,522.6 268.8,522.8 268.6,523.2 268.5,523.4 268.4,523.6 268.2,523.9 268.0,524.2 267.9,524.4 267.8,524.7 267.6,525.0 267.5,525.2 267.4,525.4 267.2,525.8 267.1,526.0 266.9,526.2 266.8,526.5 266.6,526.8 266.5,527.0 266.3,527.2 266.2,527.4 266.0,527.7 265.8,528.0 265.6,528.2 265.5,528.4 265.3,528.6 265.2,528.8 265.0,529.0 264.8,529.2 264.6,529.4 264.4,529.6 264.2,529.8 264.0,530.0 263.7,530.2 263.5,530.4 263.3,530.6 263.1,530.8 262.9,531.0 262.7,531.2 262.5,531.4 262.2,531.6 262.0,531.8 261.8,532.0 261.6,532.1 261.4,532.3 261.2,532.4 261.0,532.6 260.6,532.8 260.4,532.9 260.2,533.0 259.8,533.2 259.6,533.3 259.4,533.4 259.0,533.5 258.8,533.6 258.4,533.7 258.2,533.8 257.8,533.9 257.6,534.0 257.2,534.1 256.8,534.2 256.6,534.2 256.2,534.3 255.8,534.4 255.6,534.4Z"/><path d="M256.2,533.2 255.8,533.3 255.4,533.3 255.0,533.4 254.6,533.4 254.2,533.4 253.8,533.4 253.4,533.4 253.0,533.3 252.6,533.3 252.2,533.3 251.8,533.2 251.6,533.2 251.2,533.1 250.8,533.0 250.6,533.0 250.2,532.9 250.0,532.8 249.6,532.7 249.4,532.6 249.0,532.4 248.8,532.3 248.5,532.2 248.2,532.0 248.0,531.9 247.8,531.8 247.5,531.6 247.2,531.4 247.0,531.3 246.8,531.2 246.6,531.0 246.3,530.8 246.0,530.6 245.8,530.4 245.6,530.2 245.4,530.1 245.2,529.9 245.0,529.7 244.8,529.5 244.6,529.3 244.4,529.0 244.2,528.8 244.1,528.6 243.9,528.4 243.8,528.2 243.6,527.9 243.4,527.6 243.3,527.4 243.2,527.1 243.0,526.8 243.0,526.6 242.8,526.3 242.7,526.0 242.6,525.8 242.4,525.4 242.3,525.2 242.2,525.0 242.0,524.6 241.9,524.4 241.8,524.2 241.6,523.9 241.4,523.6 241.3,523.4 241.2,523.2 241.0,522.8 240.9,522.6 240.8,522.4 240.6,522.0 240.5,521.8 240.4,521.5 240.3,521.2 240.2,520.8 240.2,520.6 240.1,520.2 240.0,519.9 239.9,519.6 239.9,519.2 239.8,518.8 239.8,518.6 239.8,518.2 239.7,517.8 239.7,517.4 239.7,517.0 239.7,516.6 239.7,516.2 239.7,515.8 239.7,515.4 239.8,515.0 239.8,514.8 239.9,514.4 239.9,514.0 240.0,513.6 240.0,513.4 240.1,513.0 240.1,512.6 240.2,512.2 240.2,511.9 240.2,511.6 240.3,511.2 240.3,510.8 240.4,510.4 240.4,510.0 240.4,509.8 240.5,509.4 240.5,509.0 240.6,508.6 240.6,508.4 240.7,508.0 240.8,507.7 240.9,507.4 241.0,507.0 241.1,506.8 241.2,506.4 241.2,506.2 241.4,505.8 241.4,505.6 241.6,505.2 241.6,505.0 241.8,504.6 241.8,504.4 242.0,504.0 242.1,503.8 242.2,503.5 242.3,503.2 242.4,503.0 242.6,502.6 242.7,502.4 242.8,502.1 243.0,501.8 243.1,501.6 243.2,501.4 243.4,501.0 243.5,500.8 243.6,500.6 243.8,500.4 244.0,500.1 244.2,499.8 244.3,499.6 244.5,499.4 244.7,499.2 244.8,499.0 245.0,498.8 245.2,498.6 245.4,498.4 245.6,498.2 245.8,498.0 246.0,497.8 246.2,497.6 246.4,497.4 246.6,497.2 246.8,497.0 247.0,496.8 247.2,496.6 247.4,496.4 247.6,496.2 247.9,496.0 248.1,495.8 248.3,495.6 248.6,495.4 248.8,495.2 249.0,495.0 249.2,494.9 249.4,494.7 249.6,494.5 249.8,494.4 250.0,494.2 250.3,494.0 250.5,493.8 250.7,493.6 251.0,493.4 251.2,493.2 251.4,493.0 251.6,492.8 251.8,492.7 252.0,492.5 252.2,492.3 252.4,492.1 252.6,492.0 252.8,491.8 253.0,491.6 253.3,491.4 253.5,491.2 253.8,491.0 254.0,490.8 254.2,490.6 254.4,490.5 254.6,490.3 254.8,490.2 255.1,490.0 255.4,489.8 255.6,489.7 255.8,489.6 256.1,489.4 256.4,489.3 256.6,489.2 257.0,489.1 257.3,489.0 257.6,488.9 258.0,488.9 258.4,488.8 258.8,488.8 259.2,488.8 259.6,488.9 260.0,488.9 260.3,489.0 260.6,489.1 260.9,489.2 261.2,489.3 261.4,489.4 261.7,489.6 262.0,489.8 262.2,490.0 262.4,490.1 262.6,490.3 262.8,490.6 263.0,490.8 263.1,491.0 263.3,491.2 263.4,491.4 263.6,491.7 263.7,492.0 263.8,492.2 264.0,492.5 264.1,492.8 264.2,493.0 264.4,493.4 264.5,493.6 264.6,493.9 264.7,494.2 264.8,494.4 265.0,494.8 265.1,495.0 265.2,495.2 265.4,495.5 265.6,495.8 265.7,496.0 265.8,496.2 266.0,496.4 266.2,496.7 266.4,497.0 266.5,497.2 266.6,497.4 266.8,497.7 267.0,498.0 267.1,498.2 267.2,498.5 267.3,498.8 267.4,499.0 267.6,499.4 267.6,499.6 267.8,500.0 267.9,500.2 268.0,500.6 268.0,500.8 268.1,501.2 268.2,501.5 268.2,501.8 268.3,502.2 268.4,502.6 268.4,503.0 268.4,503.2 268.5,503.6 268.5,504.0 268.6,504.3 268.7,504.6 268.7,505.0 268.8,505.2 268.9,505.6 269.0,505.9 269.1,506.2 269.2,506.6 269.3,506.8 269.4,507.2 269.4,507.4 269.5,507.8 269.6,508.1 269.6,508.4 269.7,508.8 269.7,509.2 269.8,509.6 269.8,510.0 269.8,510.4 269.8,510.8 269.8,511.2 269.8,511.6 269.8,512.0 269.8,512.4 269.8,512.8 269.8,513.2 269.8,513.4 269.8,513.8 269.9,514.2 269.9,514.6 269.9,515.0 269.9,515.4 269.8,515.8 269.8,516.2 269.8,516.4 269.7,516.8 269.6,517.2 269.5,517.4 269.4,517.8 269.4,518.0 269.2,518.4 269.2,518.6 269.0,519.0 269.0,519.2 268.8,519.6 268.7,519.8 268.6,520.1 268.5,520.4 268.4,520.6 268.2,520.9 268.1,521.2 268.0,521.4 267.8,521.7 267.6,522.0 267.5,522.2 267.4,522.4 267.2,522.8 267.1,523.0 267.0,523.2 266.8,523.6 266.7,523.8 266.6,524.0 266.4,524.4 266.3,524.6 266.2,524.8 266.0,525.2 265.9,525.4 265.8,525.7 265.6,526.0 265.5,526.2 265.4,526.4 265.2,526.8 265.0,527.0 264.9,527.2 264.7,527.4 264.6,527.6 264.4,527.8 264.2,528.0 264.0,528.2 263.8,528.4 263.6,528.6 263.4,528.8 263.1,529.0 262.9,529.2 262.7,529.4 262.5,529.6 262.3,529.8 262.1,530.0 261.9,530.2 261.7,530.4 261.5,530.6 261.3,530.8 261.1,531.0 260.9,531.2 260.7,531.4 260.4,531.6 260.2,531.8 260.0,531.9 259.8,532.0 259.5,532.2 259.2,532.3 259.0,532.4 258.6,532.6 258.4,532.6 258.0,532.8 257.8,532.8 257.4,533.0 257.2,533.0 256.8,533.1 256.4,533.2 256.2,533.2Z"/><path d="M255.2,532.2 254.8,532.2 254.4,532.3 254.0,532.3 253.6,532.3 253.2,532.2 252.8,532.2 252.6,532.2 252.2,532.1 251.8,532.1 251.4,532.0 251.2,531.9 250.8,531.8 250.6,531.8 250.2,531.7 250.0,531.6 249.6,531.4 249.4,531.3 249.1,531.2 248.8,531.1 248.6,530.9 248.3,530.8 248.0,530.6 247.8,530.5 247.6,530.4 247.3,530.2 247.0,530.0 246.8,529.8 246.6,529.7 246.4,529.5 246.2,529.4 246.0,529.2 245.8,529.0 245.6,528.8 245.4,528.6 245.2,528.4 245.0,528.1 244.8,527.8 244.7,527.6 244.6,527.4 244.4,527.1 244.3,526.8 244.2,526.6 244.0,526.2 243.9,526.0 243.8,525.8 243.6,525.4 243.5,525.2 243.4,524.9 243.2,524.6 243.1,524.4 243.0,524.2 242.8,523.9 242.6,523.6 242.5,523.4 242.4,523.2 242.2,522.9 242.0,522.6 241.9,522.4 241.8,522.1 241.6,521.8 241.5,521.6 241.4,521.3 241.3,521.0 241.2,520.7 241.1,520.4 241.0,520.0 241.0,519.8 240.9,519.4 240.8,519.0 240.8,518.8 240.7,518.4 240.7,518.0 240.7,517.6 240.7,517.2 240.7,516.8 240.7,516.4 240.7,516.0 240.8,515.6 240.8,515.3 240.8,515.0 240.9,514.6 241.0,514.2 241.0,514.0 241.1,513.6 241.1,513.2 241.2,512.8 241.2,512.6 241.3,512.2 241.4,511.8 241.4,511.5 241.4,511.2 241.5,510.8 241.6,510.4 241.6,510.0 241.6,509.8 241.7,509.4 241.8,509.0 241.8,508.8 241.9,508.4 242.0,508.0 242.0,507.8 242.2,507.4 242.2,507.2 242.4,506.8 242.4,506.6 242.6,506.2 242.7,506.0 242.8,505.6 242.9,505.4 243.0,505.2 243.2,504.8 243.2,504.6 243.4,504.3 243.5,504.0 243.6,503.8 243.8,503.4 243.9,503.2 244.0,503.0 244.2,502.6 244.3,502.4 244.4,502.2 244.6,501.9 244.7,501.6 244.9,501.4 245.0,501.2 245.2,500.9 245.4,500.6 245.6,500.4 245.7,500.2 245.9,500.0 246.1,499.8 246.3,499.6 246.5,499.4 246.7,499.2 246.9,499.0 247.1,498.8 247.3,498.6 247.6,498.4 247.8,498.2 248.0,498.0 248.2,497.8 248.4,497.6 248.6,497.4 248.8,497.2 249.0,497.1 249.2,496.9 249.4,496.7 249.6,496.5 249.8,496.3 250.0,496.1 250.2,495.9 250.4,495.8 250.6,495.6 250.8,495.4 251.1,495.2 251.3,495.0 251.5,494.8 251.8,494.6 252.0,494.4 252.2,494.3 252.4,494.1 252.6,493.9 252.8,493.8 253.0,493.6 253.3,493.4 253.6,493.2 253.8,493.0 254.0,492.9 254.2,492.7 254.4,492.6 254.7,492.4 255.0,492.2 255.2,492.1 255.4,492.0 255.8,491.8 256.0,491.7 256.2,491.6 256.6,491.4 256.8,491.3 257.2,491.2 257.4,491.1 257.8,491.0 258.0,491.0 258.4,490.9 258.8,490.8 259.2,490.8 259.6,490.8 260.0,490.9 260.2,491.0 260.6,491.2 260.8,491.3 261.0,491.4 261.2,491.6 261.4,491.8 261.6,492.0 261.8,492.3 262.0,492.6 262.1,492.8 262.2,493.0 262.4,493.4 262.4,493.6 262.6,494.0 262.7,494.2 262.8,494.5 262.9,494.8 263.0,495.0 263.2,495.4 263.3,495.6 263.5,495.8 263.6,496.0 263.8,496.3 264.0,496.5 264.2,496.7 264.4,497.0 264.6,497.2 264.8,497.4 264.9,497.6 265.1,497.8 265.2,498.0 265.4,498.3 265.6,498.6 265.7,498.8 265.8,499.0 266.0,499.4 266.0,499.6 266.2,500.0 266.2,500.2 266.3,500.6 266.4,500.8 266.5,501.2 266.6,501.6 266.6,501.8 266.7,502.2 266.8,502.6 266.8,502.8 266.9,503.2 267.0,503.6 267.0,503.8 267.1,504.2 267.2,504.6 267.2,504.8 267.3,505.2 267.4,505.6 267.4,505.8 267.5,506.2 267.6,506.4 267.7,506.8 267.8,507.2 267.8,507.4 267.9,507.8 268.0,508.2 268.0,508.4 268.1,508.8 268.1,509.2 268.2,509.6 268.2,510.0 268.2,510.2 268.2,510.6 268.2,511.0 268.2,511.4 268.2,511.8 268.2,512.2 268.2,512.6 268.3,513.0 268.3,513.4 268.3,513.8 268.3,514.2 268.4,514.6 268.4,514.8 268.4,515.2 268.4,515.6 268.4,516.0 268.4,516.4 268.4,516.6 268.3,517.0 268.2,517.4 268.2,517.6 268.1,518.0 268.0,518.3 267.9,518.6 267.8,518.9 267.7,519.2 267.6,519.4 267.4,519.8 267.3,520.0 267.2,520.2 267.0,520.5 266.8,520.8 266.7,521.0 266.6,521.2 266.4,521.6 266.3,521.8 266.2,522.0 266.0,522.3 265.9,522.6 265.8,522.8 265.6,523.2 265.5,523.4 265.4,523.7 265.3,524.0 265.2,524.2 265.1,524.6 265.0,524.8 264.8,525.2 264.7,525.4 264.6,525.6 264.4,525.9 264.2,526.2 264.0,526.4 263.9,526.6 263.7,526.8 263.5,527.0 263.3,527.2 263.1,527.4 262.9,527.6 262.6,527.8 262.4,528.0 262.2,528.2 262.0,528.3 261.8,528.5 261.6,528.7 261.4,528.9 261.2,529.1 261.0,529.3 260.8,529.5 260.6,529.7 260.4,530.0 260.2,530.2 260.0,530.4 259.8,530.6 259.6,530.7 259.4,530.9 259.2,531.0 258.9,531.2 258.6,531.4 258.4,531.4 258.0,531.6 257.8,531.7 257.4,531.8 257.2,531.8 256.8,531.9 256.6,532.0 256.2,532.1 255.8,532.1 255.4,532.2 255.2,532.2Z"/><path d="M255.4,531.0 255.0,531.1 254.6,531.1 254.2,531.1 253.8,531.1 253.4,531.1 253.0,531.1 252.6,531.0 252.3,531.0 252.0,530.9 251.6,530.8 251.4,530.8 251.0,530.6 250.8,530.6 250.4,530.4 250.2,530.3 249.9,530.2 249.6,530.1 249.4,530.0 249.0,529.8 248.8,529.7 248.6,529.6 248.2,529.4 248.0,529.3 247.8,529.1 247.6,529.0 247.3,528.8 247.0,528.6 246.8,528.5 246.6,528.3 246.4,528.1 246.2,527.9 246.0,527.6 245.8,527.4 245.7,527.2 245.6,527.0 245.4,526.7 245.2,526.4 245.1,526.2 245.0,525.9 244.9,525.6 244.8,525.4 244.6,525.1 244.5,524.8 244.4,524.6 244.2,524.3 244.0,524.0 243.9,523.8 243.8,523.6 243.6,523.3 243.4,523.0 243.3,522.8 243.2,522.6 243.0,522.3 242.8,522.0 242.7,521.8 242.6,521.6 242.4,521.2 242.4,521.0 242.2,520.6 242.1,520.4 242.0,520.0 242.0,519.8 241.9,519.4 241.8,519.0 241.8,518.6 241.8,518.4 241.8,518.0 241.8,517.6 241.8,517.2 241.8,516.8 241.8,516.6 241.9,516.2 241.9,515.8 241.9,515.4 242.0,515.0 242.0,514.8 242.1,514.4 242.1,514.0 242.2,513.6 242.2,513.4 242.3,513.0 242.3,512.6 242.4,512.2 242.4,512.0 242.5,511.6 242.6,511.2 242.6,511.0 242.7,510.6 242.7,510.2 242.8,509.8 242.8,509.6 242.9,509.2 243.0,508.8 243.0,508.6 243.1,508.2 243.2,508.0 243.3,507.6 243.4,507.4 243.5,507.0 243.6,506.8 243.8,506.4 243.9,506.2 244.0,506.0 244.2,505.6 244.3,505.4 244.4,505.2 244.6,504.8 244.7,504.6 244.8,504.4 245.0,504.1 245.1,503.8 245.3,503.6 245.4,503.3 245.6,503.0 245.7,502.8 245.8,502.6 246.0,502.3 246.2,502.0 246.3,501.8 246.5,501.6 246.6,501.4 246.8,501.2 247.0,501.0 247.2,500.7 247.4,500.5 247.6,500.3 247.8,500.2 248.0,500.0 248.2,499.8 248.4,499.6 248.7,499.4 248.9,499.2 249.1,499.0 249.3,498.8 249.6,498.6 249.8,498.4 250.0,498.2 250.2,498.0 250.4,497.8 250.6,497.7 250.8,497.5 251.0,497.3 251.2,497.2 251.4,497.0 251.7,496.8 251.9,496.6 252.2,496.4 252.4,496.3 252.6,496.1 252.8,496.0 253.0,495.8 253.3,495.6 253.6,495.4 253.8,495.3 254.0,495.1 254.2,495.0 254.4,494.8 254.7,494.6 255.0,494.4 255.2,494.2 255.4,494.1 255.6,494.0 255.9,493.8 256.2,493.6 256.4,493.5 256.6,493.4 256.9,493.2 257.2,493.1 257.4,493.0 257.8,492.9 258.1,492.8 258.4,492.8 258.8,492.8 259.1,492.8 259.4,492.9 259.7,493.0 260.0,493.2 260.2,493.4 260.3,493.6 260.5,493.8 260.6,494.0 260.8,494.4 260.8,494.6 261.0,495.0 261.1,495.2 261.2,495.5 261.4,495.8 261.5,496.0 261.6,496.2 261.8,496.5 262.0,496.7 262.2,496.9 262.4,497.1 262.6,497.3 262.8,497.5 263.0,497.7 263.2,497.9 263.4,498.1 263.6,498.3 263.8,498.5 264.0,498.7 264.2,499.0 264.4,499.2 264.5,499.4 264.6,499.6 264.8,500.0 264.9,500.2 265.0,500.6 265.1,500.8 265.2,501.2 265.3,501.4 265.4,501.8 265.4,502.0 265.5,502.4 265.6,502.8 265.6,503.0 265.7,503.4 265.8,503.7 265.9,504.0 265.9,504.4 266.0,504.7 266.1,505.0 266.1,505.4 266.2,505.8 266.2,506.0 266.3,506.4 266.4,506.8 266.4,507.0 266.5,507.4 266.5,507.8 266.6,508.2 266.6,508.4 266.7,508.8 266.8,509.2 266.8,509.5 266.9,509.8 266.9,510.2 267.0,510.6 267.0,511.0 267.0,511.2 267.0,511.6 267.0,512.0 267.0,512.4 267.0,512.8 267.0,513.2 267.1,513.6 267.1,514.0 267.1,514.4 267.2,514.8 267.2,515.2 267.2,515.4 267.2,515.8 267.2,516.2 267.2,516.6 267.2,516.9 267.2,517.2 267.1,517.6 267.0,517.9 266.9,518.2 266.8,518.5 266.7,518.8 266.6,519.0 266.4,519.4 266.3,519.6 266.2,519.8 266.0,520.1 265.8,520.4 265.7,520.6 265.6,520.8 265.4,521.1 265.3,521.4 265.2,521.6 265.0,522.0 264.9,522.2 264.8,522.5 264.7,522.8 264.6,523.0 264.4,523.4 264.4,523.6 264.2,524.0 264.1,524.2 264.0,524.5 263.8,524.8 263.7,525.0 263.6,525.2 263.4,525.5 263.2,525.7 263.0,526.0 262.8,526.2 262.6,526.4 262.4,526.6 262.2,526.7 262.0,526.9 261.8,527.1 261.6,527.3 261.4,527.4 261.2,527.6 261.0,527.8 260.8,528.0 260.6,528.2 260.4,528.4 260.2,528.6 260.0,528.8 259.7,529.0 259.5,529.2 259.3,529.4 259.1,529.6 258.8,529.8 258.6,529.9 258.4,530.1 258.1,530.2 257.8,530.4 257.6,530.5 257.2,530.6 257.0,530.7 256.6,530.8 256.4,530.8 256.0,530.9 255.6,531.0 255.4,531.0Z"/><path d="M254.8,530.0 254.4,530.1 254.0,530.1 253.6,530.1 253.2,530.0 253.0,530.0 252.6,529.9 252.2,529.8 252.0,529.7 251.7,529.6 251.4,529.5 251.2,529.4 250.8,529.2 250.6,529.1 250.3,529.0 250.0,528.9 249.8,528.8 249.5,528.6 249.2,528.5 249.0,528.4 248.6,528.2 248.4,528.1 248.2,528.0 247.9,527.8 247.6,527.6 247.4,527.4 247.2,527.2 247.0,527.0 246.8,526.8 246.6,526.6 246.5,526.4 246.3,526.2 246.2,526.0 246.0,525.6 245.9,525.4 245.8,525.2 245.6,524.9 245.4,524.6 245.3,524.4 245.2,524.2 245.0,523.8 244.9,523.6 244.7,523.4 244.6,523.2 244.4,522.9 244.2,522.6 244.1,522.4 244.0,522.2 243.8,521.8 243.7,521.6 243.6,521.4 243.4,521.0 243.3,520.8 243.2,520.4 243.1,520.2 243.0,519.8 243.0,519.5 243.0,519.2 242.9,518.8 242.9,518.4 242.9,518.0 242.9,517.6 243.0,517.2 243.0,517.0 243.0,516.6 243.1,516.2 243.1,515.8 243.2,515.4 243.2,515.0 243.2,514.8 243.2,514.4 243.3,514.0 243.3,513.6 243.4,513.2 243.4,512.9 243.4,512.6 243.5,512.2 243.6,511.8 243.6,511.6 243.7,511.2 243.8,510.8 243.8,510.6 243.9,510.2 243.9,509.8 244.0,509.5 244.1,509.2 244.2,508.8 244.2,508.6 244.3,508.2 244.4,507.9 244.5,507.6 244.6,507.3 244.7,507.0 244.8,506.8 245.0,506.4 245.1,506.2 245.2,506.0 245.4,505.6 245.5,505.4 245.6,505.2 245.8,504.9 246.0,504.6 246.1,504.4 246.2,504.2 246.4,503.9 246.6,503.6 246.8,503.4 246.9,503.2 247.1,503.0 247.2,502.8 247.4,502.6 247.6,502.4 247.8,502.2 248.0,502.0 248.2,501.8 248.4,501.6 248.7,501.4 248.9,501.2 249.2,501.0 249.4,500.8 249.6,500.7 249.8,500.5 250.0,500.4 250.2,500.2 250.5,500.0 250.7,499.8 251.0,499.6 251.2,499.4 251.4,499.3 251.6,499.1 251.8,499.0 252.1,498.8 252.4,498.6 252.6,498.4 252.8,498.3 253.0,498.2 253.3,498.0 253.6,497.8 253.8,497.7 254.0,497.6 254.4,497.4 254.6,497.3 254.8,497.1 255.1,497.0 255.4,496.8 255.6,496.7 255.8,496.6 256.2,496.4 256.4,496.3 256.8,496.2 257.0,496.1 257.4,496.0 257.8,496.0 258.2,496.1 258.4,496.2 258.8,496.4 259.0,496.5 259.2,496.7 259.4,496.8 259.7,497.0 259.9,497.2 260.2,497.4 260.4,497.6 260.6,497.7 260.8,497.9 261.0,498.1 261.2,498.2 261.4,498.4 261.7,498.6 261.9,498.8 262.2,499.0 262.4,499.2 262.6,499.4 262.8,499.6 263.0,499.8 263.2,500.0 263.3,500.2 263.5,500.4 263.6,500.6 263.8,501.0 263.9,501.2 264.0,501.4 264.1,501.8 264.2,502.0 264.4,502.4 264.4,502.6 264.5,503.0 264.6,503.2 264.7,503.6 264.8,504.0 264.8,504.2 264.9,504.6 265.0,505.0 265.0,505.2 265.1,505.6 265.1,506.0 265.2,506.4 265.2,506.6 265.3,507.0 265.3,507.4 265.4,507.8 265.4,508.0 265.5,508.4 265.6,508.8 265.6,509.0 265.7,509.4 265.8,509.8 265.8,510.0 265.9,510.4 266.0,510.8 266.0,511.1 266.0,511.4 266.1,511.8 266.1,512.2 266.1,512.6 266.1,513.0 266.1,513.4 266.1,513.8 266.1,514.2 266.2,514.6 266.2,515.0 266.2,515.2 266.2,515.6 266.2,516.0 266.2,516.4 266.2,516.8 266.2,517.0 266.1,517.4 266.0,517.8 266.0,518.0 265.8,518.4 265.7,518.6 265.6,518.9 265.4,519.2 265.3,519.4 265.2,519.6 265.0,520.0 264.9,520.2 264.8,520.4 264.6,520.7 264.5,521.0 264.4,521.2 264.2,521.6 264.1,521.8 264.0,522.1 263.9,522.4 263.8,522.6 263.7,523.0 263.6,523.2 263.4,523.6 263.3,523.8 263.2,524.0 263.0,524.4 262.9,524.6 262.7,524.8 262.6,525.0 262.4,525.2 262.2,525.4 262.0,525.6 261.8,525.8 261.6,526.0 261.4,526.2 261.2,526.4 261.0,526.6 260.7,526.8 260.5,527.0 260.3,527.2 260.1,527.4 259.8,527.6 259.6,527.8 259.4,528.0 259.2,528.1 259.0,528.3 258.8,528.5 258.6,528.6 258.3,528.8 258.0,529.0 257.8,529.1 257.6,529.2 257.2,529.4 257.0,529.5 256.6,529.6 256.4,529.7 256.0,529.8 255.8,529.8 255.4,529.9 255.0,530.0 254.8,530.0Z"/><path d="M254.8,529.0 254.4,529.1 254.0,529.0 253.6,529.0 253.4,529.0 253.0,528.9 252.7,528.8 252.4,528.7 252.2,528.6 251.8,528.4 251.6,528.3 251.4,528.2 251.0,528.0 250.8,527.9 250.6,527.8 250.3,527.6 250.0,527.5 249.8,527.4 249.5,527.2 249.2,527.1 249.0,526.9 248.7,526.8 248.4,526.6 248.2,526.4 248.0,526.3 247.8,526.1 247.6,525.9 247.4,525.7 247.2,525.4 247.0,525.2 246.9,525.0 246.8,524.8 246.6,524.5 246.4,524.2 246.3,524.0 246.1,523.8 246.0,523.6 245.8,523.3 245.6,523.0 245.5,522.8 245.4,522.6 245.2,522.4 245.0,522.0 244.9,521.8 244.7,521.6 244.6,521.3 244.5,521.0 244.4,520.8 244.2,520.4 244.2,520.2 244.1,519.8 244.0,519.4 244.0,519.2 244.0,518.8 244.0,518.4 244.0,518.0 244.0,517.8 244.1,517.4 244.1,517.0 244.2,516.6 244.2,516.4 244.3,516.0 244.3,515.6 244.4,515.2 244.4,514.8 244.4,514.6 244.5,514.2 244.5,513.8 244.6,513.4 244.6,513.1 244.7,512.8 244.7,512.4 244.8,512.0 244.8,511.8 244.9,511.4 245.0,511.0 245.0,510.8 245.1,510.4 245.2,510.0 245.2,509.7 245.3,509.4 245.3,509.0 245.4,508.7 245.5,508.4 245.6,508.0 245.6,507.8 245.8,507.4 245.9,507.2 246.0,506.9 246.1,506.6 246.2,506.4 246.4,506.0 246.5,505.8 246.6,505.6 246.8,505.3 247.0,505.0 247.2,504.8 247.3,504.6 247.5,504.4 247.7,504.2 247.8,504.0 248.1,503.8 248.3,503.6 248.6,503.4 248.8,503.2 249.0,503.1 249.2,503.0 249.5,502.8 249.8,502.6 250.0,502.5 250.2,502.4 250.6,502.2 250.8,502.0 251.0,501.9 251.2,501.7 251.4,501.6 251.6,501.4 251.9,501.2 252.1,501.0 252.4,500.8 252.6,500.6 252.8,500.5 253.0,500.4 253.3,500.2 253.6,500.0 253.8,499.9 254.0,499.8 254.3,499.6 254.6,499.5 254.8,499.4 255.2,499.2 255.4,499.2 255.8,499.0 256.0,499.0 256.4,498.9 256.8,498.9 257.2,498.8 257.6,498.8 258.0,498.9 258.4,499.0 258.6,499.0 259.0,499.2 259.2,499.3 259.5,499.4 259.8,499.6 260.0,499.7 260.2,499.9 260.4,500.0 260.7,500.2 260.9,500.4 261.2,500.6 261.4,500.8 261.6,500.9 261.8,501.1 262.0,501.3 262.2,501.5 262.4,501.7 262.6,501.9 262.8,502.2 262.9,502.4 263.0,502.6 263.2,503.0 263.3,503.2 263.4,503.4 263.5,503.8 263.6,504.0 263.7,504.4 263.8,504.8 263.8,505.0 263.9,505.4 264.0,505.8 264.0,506.0 264.1,506.4 264.1,506.8 264.2,507.2 264.2,507.4 264.3,507.8 264.4,508.2 264.4,508.4 264.5,508.8 264.6,509.0 264.7,509.4 264.8,509.8 264.9,510.0 264.9,510.4 265.0,510.6 265.1,511.0 265.1,511.4 265.2,511.8 265.2,512.1 265.2,512.4 265.2,512.8 265.2,513.2 265.3,513.6 265.3,514.0 265.3,514.4 265.3,514.8 265.3,515.2 265.3,515.6 265.3,516.0 265.3,516.4 265.3,516.8 265.2,517.2 265.2,517.4 265.1,517.8 265.0,518.0 264.9,518.4 264.8,518.6 264.6,518.9 264.5,519.2 264.4,519.4 264.2,519.7 264.0,520.0 263.9,520.2 263.8,520.4 263.6,520.8 263.5,521.0 263.4,521.3 263.3,521.6 263.2,521.9 263.1,522.2 263.0,522.4 262.8,522.8 262.7,523.0 262.6,523.3 262.4,523.6 262.3,523.8 262.2,524.0 262.0,524.3 261.8,524.5 261.6,524.8 261.4,525.0 261.2,525.2 261.0,525.4 260.8,525.6 260.6,525.8 260.4,525.9 260.2,526.1 260.0,526.3 259.8,526.5 259.6,526.6 259.4,526.8 259.2,527.0 258.9,527.2 258.7,527.4 258.4,527.6 258.2,527.7 258.0,527.9 257.8,528.0 257.4,528.2 257.2,528.3 257.0,528.4 256.6,528.6 256.4,528.6 256.0,528.8 255.8,528.8 255.4,528.9 255.0,529.0 254.8,529.0Z"/><path d="M255.2,528.0 254.8,528.1 254.4,528.1 254.0,528.0 253.8,528.0 253.4,527.9 253.1,527.8 252.8,527.7 252.6,527.6 252.3,527.4 252.0,527.2 251.8,527.1 251.6,527.0 251.3,526.8 251.0,526.6 250.8,526.5 250.6,526.3 250.4,526.2 250.1,526.0 249.8,525.8 249.6,525.7 249.4,525.6 249.2,525.4 248.9,525.2 248.6,525.0 248.4,524.8 248.2,524.6 248.0,524.4 247.8,524.2 247.6,524.0 247.5,523.8 247.3,523.6 247.2,523.4 247.0,523.2 246.8,522.9 246.6,522.6 246.4,522.4 246.3,522.2 246.1,522.0 246.0,521.8 245.8,521.5 245.6,521.2 245.5,521.0 245.4,520.8 245.3,520.4 245.2,520.2 245.1,519.8 245.0,519.4 245.0,519.2 245.0,518.8 245.0,518.4 245.0,518.0 245.0,517.8 245.1,517.4 245.2,517.0 245.2,516.8 245.3,516.4 245.4,516.0 245.4,515.8 245.5,515.4 245.6,515.0 245.6,514.8 245.7,514.4 245.8,514.0 245.8,513.8 245.9,513.4 246.0,513.0 246.0,512.8 246.1,512.4 246.2,512.0 246.2,511.8 246.3,511.4 246.3,511.0 246.4,510.6 246.4,510.4 246.5,510.0 246.5,509.6 246.6,509.2 246.6,509.0 246.7,508.6 246.8,508.2 246.9,508.0 247.0,507.6 247.1,507.4 247.2,507.1 247.3,506.8 247.4,506.6 247.6,506.3 247.8,506.0 248.0,505.8 248.1,505.6 248.3,505.4 248.5,505.2 248.8,505.0 249.0,504.8 249.2,504.7 249.4,504.6 249.8,504.4 250.0,504.3 250.2,504.2 250.6,504.0 250.8,503.9 251.0,503.8 251.4,503.6 251.6,503.5 251.8,503.3 252.0,503.2 252.2,503.0 252.5,502.8 252.7,502.6 253.0,502.4 253.2,502.2 253.4,502.1 253.6,502.0 253.8,501.8 254.2,501.6 254.4,501.5 254.6,501.4 255.0,501.2 255.2,501.2 255.6,501.1 256.0,501.0 256.2,501.0 256.6,501.0 257.0,501.0 257.3,501.0 257.6,501.1 258.0,501.2 258.2,501.2 258.6,501.4 258.8,501.5 259.0,501.7 259.2,501.8 259.5,502.0 259.8,502.2 260.0,502.4 260.2,502.5 260.4,502.7 260.6,502.8 260.8,503.0 261.1,503.2 261.3,503.4 261.5,503.6 261.6,503.8 261.8,504.0 262.0,504.3 262.2,504.6 262.3,504.8 262.4,505.0 262.6,505.4 262.6,505.6 262.8,506.0 262.8,506.2 263.0,506.6 263.0,506.8 263.1,507.2 263.2,507.5 263.3,507.8 263.4,508.2 263.5,508.4 263.6,508.8 263.6,509.0 263.8,509.4 263.8,509.6 263.9,510.0 264.0,510.2 264.1,510.6 264.2,511.0 264.2,511.2 264.3,511.6 264.4,512.0 264.4,512.4 264.4,512.6 264.4,513.0 264.4,513.4 264.4,513.8 264.5,514.2 264.5,514.6 264.5,515.0 264.5,515.4 264.5,515.8 264.5,516.2 264.4,516.6 264.4,516.9 264.3,517.2 264.2,517.6 264.2,517.8 264.0,518.2 263.9,518.4 263.8,518.7 263.6,519.0 263.5,519.2 263.4,519.5 263.2,519.8 263.1,520.0 263.0,520.3 262.9,520.6 262.8,520.8 262.6,521.2 262.5,521.4 262.4,521.7 262.3,522.0 262.2,522.2 262.0,522.6 261.9,522.8 261.8,523.1 261.6,523.4 261.5,523.6 261.3,523.8 261.2,524.0 261.0,524.2 260.8,524.4 260.6,524.6 260.4,524.8 260.2,525.0 260.0,525.2 259.8,525.4 259.5,525.6 259.3,525.8 259.0,526.0 258.8,526.2 258.6,526.3 258.4,526.5 258.2,526.6 258.0,526.8 257.7,527.0 257.4,527.2 257.2,527.3 257.0,527.4 256.6,527.6 256.4,527.7 256.0,527.8 255.8,527.9 255.4,528.0 255.2,528.0Z"/><path d="M255.4,527.0 255.0,527.1 254.6,527.1 254.2,527.0 254.0,527.0 253.6,526.9 253.4,526.8 253.1,526.6 252.8,526.4 252.6,526.3 252.4,526.1 252.2,526.0 252.0,525.8 251.7,525.6 251.5,525.4 251.3,525.2 251.0,525.0 250.8,524.8 250.6,524.7 250.4,524.5 250.2,524.4 250.0,524.2 249.7,524.0 249.4,523.8 249.2,523.6 249.0,523.5 248.8,523.3 248.6,523.2 248.4,523.0 248.2,522.8 248.0,522.6 247.8,522.4 247.6,522.2 247.4,521.9 247.2,521.7 247.0,521.5 246.8,521.2 246.7,521.0 246.6,520.8 246.4,520.5 246.3,520.2 246.2,520.0 246.1,519.6 246.0,519.2 246.0,519.0 246.0,518.6 246.0,518.2 246.0,518.0 246.1,517.6 246.2,517.2 246.2,517.0 246.3,516.6 246.4,516.4 246.5,516.0 246.6,515.8 246.7,515.4 246.8,515.1 246.9,514.8 247.0,514.4 247.0,514.2 247.1,513.8 247.2,513.5 247.3,513.2 247.3,512.8 247.4,512.4 247.4,512.2 247.5,511.8 247.5,511.4 247.6,511.0 247.6,510.8 247.7,510.4 247.8,510.0 247.8,509.7 247.9,509.4 248.0,509.0 248.0,508.8 248.1,508.4 248.2,508.2 248.4,507.8 248.5,507.6 248.6,507.4 248.8,507.1 249.0,506.8 249.2,506.6 249.4,506.4 249.6,506.3 249.8,506.1 250.0,506.0 250.3,505.8 250.6,505.7 250.8,505.6 251.1,505.4 251.4,505.3 251.6,505.2 251.9,505.0 252.2,504.8 252.4,504.7 252.6,504.5 252.8,504.4 253.1,504.2 253.4,504.0 253.6,503.8 253.8,503.7 254.0,503.5 254.2,503.4 254.6,503.2 254.8,503.1 255.0,503.0 255.4,502.9 255.6,502.8 256.0,502.7 256.4,502.7 256.8,502.7 257.2,502.8 257.4,502.8 257.8,502.9 258.0,503.0 258.3,503.2 258.6,503.4 258.8,503.5 259.0,503.6 259.2,503.8 259.5,504.0 259.7,504.2 259.9,504.4 260.1,504.6 260.3,504.8 260.5,505.0 260.7,505.2 260.9,505.4 261.0,505.6 261.2,505.8 261.4,506.1 261.6,506.4 261.7,506.6 261.8,506.8 262.0,507.2 262.1,507.4 262.2,507.7 262.3,508.0 262.4,508.2 262.5,508.6 262.6,508.8 262.8,509.2 262.8,509.4 263.0,509.8 263.0,510.0 263.2,510.4 263.2,510.6 263.3,511.0 263.4,511.3 263.5,511.6 263.5,512.0 263.6,512.4 263.6,512.7 263.6,513.0 263.6,513.4 263.6,513.8 263.6,514.2 263.7,514.6 263.7,515.0 263.6,515.4 263.6,515.8 263.6,516.2 263.6,516.4 263.5,516.8 263.4,517.2 263.4,517.4 263.3,517.8 263.2,518.0 263.0,518.4 262.9,518.6 262.8,518.9 262.7,519.2 262.6,519.4 262.4,519.8 262.3,520.0 262.2,520.2 262.0,520.6 262.0,520.8 261.8,521.2 261.7,521.4 261.6,521.7 261.4,522.0 261.3,522.2 261.2,522.5 261.0,522.8 260.9,523.0 260.7,523.2 260.6,523.4 260.4,523.6 260.2,523.8 260.0,524.0 259.8,524.2 259.6,524.4 259.4,524.6 259.1,524.8 258.9,525.0 258.7,525.2 258.4,525.4 258.2,525.6 258.0,525.7 257.8,525.9 257.6,526.0 257.3,526.2 257.0,526.4 256.8,526.5 256.6,526.6 256.2,526.8 256.0,526.8 255.6,527.0 255.4,527.0Z"/><path d="M255.8,525.8 255.4,525.9 255.0,526.0 254.6,525.9 254.2,525.8 254.0,525.8 253.7,525.6 253.4,525.4 253.2,525.2 253.0,525.1 252.8,524.9 252.6,524.7 252.4,524.5 252.2,524.3 252.0,524.1 251.8,523.9 251.6,523.7 251.4,523.6 251.2,523.4 250.9,523.2 250.6,523.0 250.4,522.9 250.2,522.7 250.0,522.6 249.7,522.4 249.4,522.2 249.2,522.1 249.0,521.9 248.8,521.7 248.6,521.6 248.4,521.4 248.2,521.2 248.0,521.0 247.8,520.7 247.6,520.4 247.5,520.2 247.4,520.0 247.2,519.6 247.2,519.4 247.1,519.0 247.1,518.6 247.1,518.2 247.1,517.8 247.2,517.5 247.3,517.2 247.4,516.8 247.5,516.6 247.6,516.2 247.7,516.0 247.8,515.6 247.9,515.4 248.0,515.0 248.1,514.8 248.2,514.4 248.2,514.2 248.3,513.8 248.4,513.4 248.4,513.2 248.5,512.8 248.6,512.4 248.6,512.2 248.7,511.8 248.7,511.4 248.8,511.0 248.8,510.8 248.9,510.4 249.0,510.2 249.1,509.8 249.2,509.5 249.3,509.2 249.4,509.0 249.6,508.6 249.7,508.4 249.9,508.2 250.0,508.0 250.2,507.8 250.4,507.6 250.6,507.4 250.9,507.2 251.2,507.0 251.4,506.9 251.6,506.8 252.0,506.6 252.2,506.5 252.4,506.4 252.7,506.2 253.0,506.1 253.2,505.9 253.4,505.8 253.7,505.6 254.0,505.4 254.2,505.3 254.4,505.2 254.7,505.0 255.0,504.8 255.2,504.7 255.5,504.6 255.8,504.5 256.2,504.4 256.4,504.4 256.8,504.4 257.0,504.4 257.4,504.5 257.7,504.6 258.0,504.7 258.2,504.8 258.5,505.0 258.7,505.2 259.0,505.4 259.2,505.6 259.4,505.8 259.6,506.0 259.8,506.2 260.0,506.4 260.2,506.6 260.4,506.8 260.5,507.0 260.7,507.2 260.8,507.4 261.0,507.7 261.2,508.0 261.3,508.2 261.4,508.4 261.6,508.8 261.7,509.0 261.8,509.3 261.9,509.6 262.0,509.8 262.2,510.2 262.3,510.4 262.4,510.8 262.4,511.0 262.6,511.4 262.6,511.6 262.7,512.0 262.7,512.4 262.8,512.8 262.8,513.2 262.8,513.4 262.8,513.8 262.8,514.2 262.8,514.6 262.8,514.9 262.8,515.2 262.8,515.6 262.7,516.0 262.7,516.4 262.6,516.7 262.5,517.0 262.4,517.4 262.4,517.6 262.2,518.0 262.2,518.2 262.0,518.6 261.9,518.8 261.8,519.1 261.7,519.4 261.6,519.6 261.5,520.0 261.4,520.2 261.2,520.6 261.1,520.8 261.0,521.1 260.9,521.4 260.8,521.6 260.6,521.9 260.4,522.2 260.3,522.4 260.1,522.6 260.0,522.8 259.8,523.0 259.6,523.2 259.4,523.4 259.2,523.6 258.9,523.8 258.7,524.0 258.4,524.2 258.2,524.4 258.0,524.5 257.8,524.7 257.6,524.8 257.4,525.0 257.1,525.2 256.8,525.4 256.6,525.5 256.4,525.6 256.0,525.8 255.8,525.8Z"/><path d="M255.6,524.4 255.2,524.4 254.9,524.4 254.6,524.3 254.4,524.2 254.1,524.0 253.9,523.8 253.6,523.6 253.4,523.4 253.2,523.2 253.0,523.0 252.8,522.9 252.6,522.7 252.4,522.6 252.2,522.4 251.8,522.2 251.6,522.1 251.4,521.9 251.1,521.8 250.8,521.6 250.6,521.5 250.4,521.4 250.1,521.2 249.8,521.0 249.6,520.8 249.4,520.7 249.2,520.5 249.0,520.3 248.8,520.0 248.7,519.8 248.6,519.6 248.4,519.2 248.4,519.0 248.3,518.6 248.3,518.2 248.3,517.8 248.4,517.5 248.5,517.2 248.6,516.8 248.6,516.6 248.7,516.2 248.8,516.0 248.9,515.6 249.0,515.3 249.1,515.0 249.2,514.7 249.3,514.4 249.4,514.0 249.4,513.8 249.5,513.4 249.6,513.0 249.6,512.8 249.7,512.4 249.8,512.0 249.8,511.8 249.9,511.4 250.0,511.2 250.1,510.8 250.2,510.5 250.3,510.2 250.4,510.0 250.6,509.6 250.7,509.4 250.9,509.2 251.1,509.0 251.2,508.8 251.4,508.6 251.7,508.4 252.0,508.2 252.2,508.1 252.4,507.9 252.7,507.8 253.0,507.6 253.2,507.5 253.5,507.4 253.8,507.3 254.0,507.2 254.4,507.0 254.6,506.9 254.8,506.8 255.2,506.6 255.4,506.5 255.8,506.4 256.0,506.3 256.4,506.3 256.8,506.2 257.2,506.3 257.6,506.4 257.8,506.5 258.1,506.6 258.4,506.8 258.6,506.9 258.8,507.1 259.0,507.3 259.2,507.5 259.4,507.7 259.6,507.9 259.8,508.1 260.0,508.4 260.2,508.6 260.3,508.8 260.5,509.0 260.6,509.2 260.8,509.6 260.9,509.8 261.0,510.0 261.2,510.3 261.3,510.6 261.4,510.8 261.6,511.2 261.6,511.4 261.7,511.8 261.8,512.1 261.9,512.4 261.9,512.8 261.9,513.2 262.0,513.6 262.0,514.0 261.9,514.4 261.9,514.8 261.9,515.2 261.8,515.6 261.8,515.8 261.7,516.2 261.6,516.6 261.6,516.8 261.5,517.2 261.4,517.6 261.3,517.8 261.2,518.2 261.2,518.4 261.0,518.8 261.0,519.0 260.8,519.4 260.7,519.6 260.6,520.0 260.5,520.2 260.4,520.4 260.2,520.8 260.1,521.0 260.0,521.2 259.8,521.5 259.6,521.8 259.5,522.0 259.3,522.2 259.1,522.4 258.9,522.6 258.6,522.8 258.4,523.0 258.2,523.1 258.0,523.2 257.7,523.4 257.4,523.6 257.2,523.7 257.0,523.8 256.7,524.0 256.4,524.2 256.2,524.2 255.8,524.4 255.6,524.4Z"/><path d="M256.6,522.4 256.2,522.5 255.8,522.5 255.4,522.5 255.1,522.4 254.8,522.3 254.6,522.2 254.2,522.0 254.0,521.9 253.8,521.7 253.6,521.6 253.2,521.4 253.0,521.3 252.8,521.2 252.5,521.0 252.2,520.9 252.0,520.8 251.7,520.6 251.4,520.4 251.2,520.3 251.0,520.2 250.7,520.0 250.5,519.8 250.3,519.6 250.1,519.4 250.0,519.2 249.8,518.8 249.7,518.6 249.6,518.2 249.6,517.8 249.6,517.4 249.7,517.0 249.8,516.6 249.8,516.4 249.9,516.0 250.0,515.7 250.1,515.4 250.2,515.1 250.3,514.8 250.4,514.5 250.5,514.2 250.6,513.9 250.7,513.6 250.8,513.2 250.8,513.0 250.9,512.6 251.0,512.3 251.1,512.0 251.2,511.6 251.3,511.4 251.4,511.0 251.5,510.8 251.6,510.6 251.8,510.3 252.0,510.0 252.2,509.8 252.4,509.6 252.6,509.4 252.8,509.3 253.0,509.1 253.2,509.0 253.6,508.8 253.8,508.7 254.2,508.6 254.4,508.5 254.8,508.4 255.0,508.3 255.4,508.3 255.7,508.2 256.0,508.2 256.4,508.1 256.8,508.2 257.0,508.2 257.4,508.3 257.6,508.4 258.0,508.6 258.2,508.7 258.4,508.8 258.6,509.0 258.9,509.2 259.1,509.4 259.3,509.6 259.5,509.8 259.7,510.0 259.8,510.2 260.0,510.4 260.2,510.7 260.4,511.0 260.5,511.2 260.6,511.5 260.7,511.8 260.8,512.1 260.9,512.4 261.0,512.8 261.0,513.2 261.0,513.4 261.0,513.8 261.0,514.2 261.0,514.4 260.9,514.8 260.9,515.2 260.8,515.6 260.8,515.8 260.7,516.2 260.6,516.6 260.6,516.8 260.5,517.2 260.4,517.6 260.3,517.8 260.2,518.2 260.2,518.4 260.1,518.8 260.0,519.1 259.9,519.4 259.8,519.6 259.6,520.0 259.5,520.2 259.4,520.4 259.2,520.7 259.0,521.0 258.8,521.2 258.6,521.4 258.4,521.6 258.2,521.7 258.0,521.8 257.7,522.0 257.4,522.2 257.2,522.2 256.8,522.4 256.6,522.4Z"/><path d="M257.0,520.9 256.6,520.9 256.2,520.9 255.8,520.9 255.4,520.8 255.2,520.8 254.8,520.6 254.6,520.6 254.2,520.4 254.0,520.3 253.8,520.2 253.4,520.0 253.2,519.9 253.0,519.8 252.7,519.6 252.4,519.4 252.2,519.3 252.0,519.2 251.8,519.0 251.6,518.8 251.4,518.6 251.2,518.2 251.1,518.0 251.0,517.6 251.0,517.4 251.0,517.0 251.0,516.8 251.1,516.4 251.2,516.0 251.2,515.8 251.4,515.4 251.5,515.2 251.6,514.9 251.7,514.6 251.8,514.4 252.0,514.0 252.1,513.8 252.2,513.4 252.3,513.2 252.4,512.8 252.5,512.6 252.6,512.2 252.6,512.0 252.8,511.6 252.9,511.4 253.0,511.2 253.2,511.0 253.4,510.7 253.6,510.6 253.8,510.4 254.2,510.2 254.4,510.1 254.7,510.0 255.0,509.9 255.4,509.9 255.8,509.9 256.2,509.9 256.6,509.9 256.9,510.0 257.2,510.1 257.5,510.2 257.8,510.3 258.0,510.5 258.2,510.6 258.5,510.8 258.7,511.0 258.9,511.2 259.1,511.4 259.3,511.6 259.4,511.8 259.6,512.2 259.7,512.4 259.8,512.8 259.8,513.0 259.9,513.4 259.9,513.8 259.9,514.2 259.9,514.6 259.8,515.0 259.8,515.2 259.7,515.6 259.6,516.0 259.6,516.3 259.5,516.6 259.5,517.0 259.4,517.4 259.4,517.6 259.3,518.0 259.2,518.2 259.1,518.6 259.0,518.9 258.9,519.2 258.8,519.4 258.6,519.7 258.4,520.0 258.2,520.2 258.0,520.4 257.8,520.5 257.6,520.6 257.2,520.8 257.0,520.9Z"/><path d="M256.8,519.3 256.4,519.4 256.0,519.4 255.6,519.3 255.2,519.2 255.0,519.1 254.7,519.0 254.4,518.8 254.2,518.7 254.0,518.6 253.7,518.4 253.4,518.2 253.2,518.0 253.1,517.8 253.0,517.6 252.8,517.2 252.8,517.0 252.8,516.8 252.9,516.4 253.0,516.1 253.1,515.8 253.3,515.6 253.4,515.4 253.6,515.2 253.8,514.9 254.0,514.6 254.2,514.4 254.3,514.2 254.4,514.0 254.6,513.7 254.7,513.4 254.8,513.2 255.0,512.9 255.2,512.6 255.4,512.4 255.6,512.3 255.8,512.2 256.2,512.1 256.6,512.1 257.0,512.2 257.2,512.3 257.4,512.4 257.6,512.6 257.8,512.8 258.0,513.1 258.1,513.4 258.2,513.6 258.3,514.0 258.3,514.4 258.3,514.8 258.3,515.2 258.3,515.6 258.3,516.0 258.2,516.4 258.2,516.7 258.2,517.0 258.1,517.4 258.0,517.8 257.9,518.0 257.8,518.3 257.6,518.6 257.5,518.8 257.3,519.0 257.0,519.2 256.8,519.3Z"/><path d="M313.4,515.6 313.0,515.6 312.8,515.6 312.4,515.5 312.0,515.4 311.8,515.3 311.6,515.2 311.3,515.0 311.0,514.8 310.8,514.6 310.6,514.4 310.4,514.2 310.2,514.0 310.0,513.8 309.9,513.6 309.8,513.4 309.6,513.1 309.4,512.8 309.3,512.6 309.1,512.4 309.0,512.2 308.8,511.8 308.6,511.6 308.5,511.4 308.4,511.2 308.2,510.9 308.0,510.6 307.8,510.4 307.7,510.2 307.6,510.0 307.4,509.7 307.2,509.4 307.1,509.2 307.0,509.0 306.8,508.6 306.7,508.4 306.6,508.1 306.5,507.8 306.4,507.4 306.4,507.2 306.3,506.8 306.3,506.4 306.3,506.0 306.4,505.6 306.4,505.4 306.5,505.0 306.6,504.6 306.7,504.4 306.8,504.0 306.9,503.8 307.0,503.5 307.2,503.2 307.2,503.0 307.4,502.7 307.6,502.4 307.7,502.2 307.8,502.0 308.0,501.8 308.2,501.5 308.4,501.3 308.6,501.1 308.8,500.9 309.0,500.7 309.2,500.6 309.5,500.4 309.8,500.2 310.0,500.1 310.2,500.0 310.5,499.8 310.8,499.7 311.0,499.6 311.4,499.4 311.6,499.3 312.0,499.2 312.2,499.1 312.6,499.0 312.8,499.0 313.2,498.9 313.6,498.8 314.0,498.8 314.4,498.8 314.8,498.9 315.2,499.0 315.4,499.0 315.8,499.2 316.0,499.3 316.3,499.4 316.6,499.6 316.8,499.7 317.0,499.8 317.2,500.0 317.5,500.2 317.7,500.4 317.9,500.6 318.1,500.8 318.3,501.0 318.5,501.2 318.6,501.4 318.8,501.6 319.0,501.9 319.2,502.2 319.3,502.4 319.4,502.7 319.5,503.0 319.6,503.2 319.8,503.6 319.8,503.8 319.9,504.2 320.0,504.4 320.1,504.8 320.2,505.2 320.2,505.4 320.3,505.8 320.3,506.2 320.4,506.6 320.3,507.0 320.3,507.4 320.2,507.8 320.2,508.0 320.0,508.4 320.0,508.6 319.8,508.9 319.7,509.2 319.5,509.4 319.4,509.6 319.2,509.9 319.0,510.2 318.9,510.4 318.7,510.6 318.5,510.8 318.4,511.0 318.2,511.2 318.0,511.4 317.8,511.7 317.6,511.9 317.4,512.2 317.2,512.4 317.1,512.6 316.9,512.8 316.7,513.0 316.6,513.2 316.4,513.4 316.2,513.7 316.0,514.0 315.8,514.2 315.6,514.4 315.4,514.6 315.2,514.8 315.0,515.0 314.8,515.1 314.6,515.2 314.2,515.4 314.0,515.5 313.6,515.6 313.4,515.6Z"/><path d="M313.8,513.1 313.4,513.1 313.0,513.1 312.6,513.0 312.4,512.9 312.2,512.8 312.0,512.6 311.7,512.4 311.6,512.2 311.4,512.0 311.2,511.8 311.0,511.5 310.8,511.2 310.7,511.0 310.6,510.8 310.4,510.4 310.3,510.2 310.2,510.0 310.0,509.7 309.9,509.4 309.8,509.2 309.6,508.8 309.5,508.6 309.4,508.4 309.3,508.0 309.2,507.8 309.1,507.4 309.1,507.0 309.0,506.6 309.1,506.2 309.1,505.8 309.2,505.4 309.2,505.1 309.3,504.8 309.4,504.4 309.4,504.2 309.5,503.8 309.6,503.5 309.7,503.2 309.8,503.0 310.0,502.7 310.2,502.5 310.4,502.2 310.6,502.0 310.8,501.9 311.0,501.7 311.2,501.6 311.5,501.4 311.8,501.2 312.0,501.1 312.2,501.0 312.5,500.8 312.8,500.7 313.0,500.6 313.4,500.5 313.8,500.4 314.2,500.4 314.6,500.5 315.0,500.6 315.2,500.7 315.4,500.8 315.7,501.0 316.0,501.2 316.2,501.3 316.4,501.5 316.6,501.7 316.8,502.0 317.0,502.2 317.1,502.4 317.3,502.6 317.4,502.8 317.6,503.1 317.7,503.4 317.8,503.6 318.0,504.0 318.0,504.2 318.1,504.6 318.2,504.9 318.3,505.2 318.3,505.6 318.4,506.0 318.4,506.2 318.4,506.6 318.4,506.8 318.3,507.2 318.2,507.6 318.2,507.8 318.0,508.2 317.9,508.4 317.8,508.6 317.6,508.9 317.4,509.2 317.2,509.4 317.1,509.6 316.9,509.8 316.8,510.0 316.6,510.2 316.4,510.4 316.2,510.7 316.0,510.9 315.8,511.2 315.6,511.4 315.5,511.6 315.3,511.8 315.2,512.0 315.0,512.2 314.8,512.4 314.6,512.6 314.3,512.8 314.0,513.0 313.8,513.1Z"/><path d="M314.2,508.4 313.8,508.5 313.4,508.4 313.2,508.3 313.0,508.2 312.8,508.0 312.6,507.8 312.4,507.4 312.4,507.2 312.3,506.8 312.4,506.4 312.5,506.2 312.6,506.0 312.8,505.7 313.0,505.5 313.2,505.4 313.6,505.2 313.8,505.1 314.2,505.1 314.6,505.1 314.8,505.2 315.0,505.4 315.2,505.6 315.4,505.9 315.5,506.2 315.6,506.6 315.6,507.0 315.4,507.4 315.3,507.6 315.2,507.8 315.0,508.0 314.7,508.2 314.4,508.4 314.2,508.4Z"/></g>
</svg></body></html>
